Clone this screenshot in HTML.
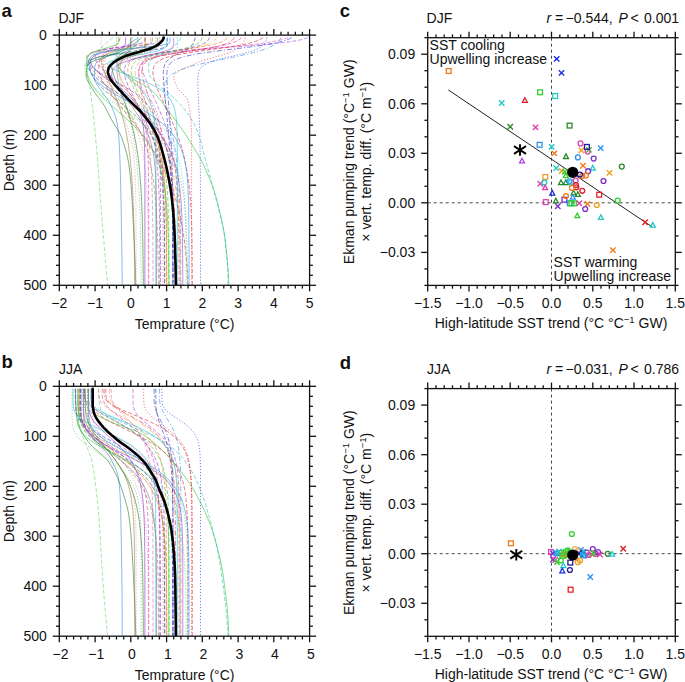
<!DOCTYPE html>
<html><head><meta charset="utf-8"><title>figure</title>
<style>html,body{margin:0;padding:0;background:#fff;width:685px;height:682px;overflow:hidden}
body{position:relative;font-family:"Liberation Sans", sans-serif}</style></head>
<body>
<svg width="685" height="682" viewBox="0 0 685 682" style="position:absolute;left:0;top:0">
<rect width="685" height="682" fill="#fff"/>
<clipPath id="clipa"><rect x="59.3" y="35.1" width="250.3" height="250.2"/></clipPath>
<g clip-path="url(#clipa)">
<path d="M112.9 37.6 L111.3 38.9 L109.8 40.1 L108.2 41.4 L106.8 42.6 L105.3 43.9 L103.9 45.1 L102.5 46.4 L101.2 47.6 L99.9 48.9 L98.6 50.1 L97.4 51.4 L96.0 52.6 L94.6 53.9 L93.2 55.1 L91.9 56.4 L90.6 57.6 L89.4 58.9 L88.3 60.1 L87.4 61.4 L86.7 62.6 L86.3 63.9 L86.1 65.1 L86.1 66.4 L86.2 67.6 L86.3 68.9 L86.5 70.1 L86.6 71.4 L86.8 72.6 L87.0 73.9 L87.2 75.1 L87.4 76.4 L87.7 77.6 L87.9 78.9 L88.2 80.1 L88.6 81.4 L88.9 82.6 L89.2 83.9 L89.4 85.1 L89.7 86.4 L89.8 87.6 L90.0 88.9 L90.2 90.1 L90.4 91.4 L90.5 92.6 L90.7 93.9 L90.9 95.1 L91.1 96.4 L91.2 97.7 L91.4 98.9 L91.5 100.2 L91.7 101.4 L91.9 102.7 L92.0 103.9 L92.2 105.2 L92.3 106.4 L92.5 107.7 L92.6 108.9 L92.8 110.2 L92.9 111.7 L93.4 115.4 L93.8 119.1 L94.1 122.7 L94.5 126.4 L94.9 130.1 L95.2 133.8 L95.6 137.5 L95.9 141.2 L96.2 144.9 L96.6 148.6 L96.9 152.3 L97.2 156.0 L97.5 159.7 L97.8 163.4 L98.0 167.1 L98.3 170.8 L98.6 174.5 L98.9 178.2 L99.1 181.9 L99.4 185.6 L99.7 189.2 L100.0 192.9 L100.2 196.6 L100.5 200.3 L100.8 204.0 L101.1 207.7 L101.4 211.4 L101.7 215.1 L102.0 218.8 L102.3 222.5 L102.6 226.2 L102.9 229.9 L103.2 233.6 L103.5 237.3 L103.9 241.0 L104.2 244.7 L104.5 248.4 L104.8 252.1 L105.1 255.7 L105.4 259.4 L105.7 263.1 L106.0 266.8 L106.3 270.5 L106.7 274.2 L107.0 277.9 L107.3 281.6 L107.6 285.3" fill="none" stroke="#60d860" stroke-width="0.75" stroke-opacity="0.8" stroke-dasharray="4 2"/>
<path d="M138.0 37.6 L136.3 38.9 L134.6 40.1 L132.9 41.4 L131.1 42.6 L129.4 43.9 L127.6 45.1 L125.7 46.4 L123.9 47.6 L122.0 48.9 L120.1 50.1 L118.0 51.4 L115.6 52.6 L113.0 53.9 L110.3 55.1 L107.6 56.4 L104.9 57.6 L102.4 58.9 L100.1 60.1 L98.1 61.4 L96.6 62.6 L95.5 63.9 L95.1 65.1 L94.9 66.4 L94.8 67.6 L94.7 68.9 L94.6 70.1 L94.5 71.4 L94.5 72.6 L94.4 73.9 L94.4 75.1 L94.3 76.4 L94.3 77.6 L94.4 78.9 L94.7 80.1 L95.2 81.4 L95.8 82.6 L96.5 83.9 L97.2 85.1 L98.1 86.4 L99.0 87.6 L99.9 88.9 L100.9 90.1 L101.8 91.4 L102.6 92.6 L103.4 93.9 L104.3 95.1 L105.3 96.4 L106.3 97.7 L107.3 98.9 L108.2 100.2 L109.0 101.4 L109.6 102.7 L110.2 103.9 L110.8 105.2 L111.4 106.4 L112.0 107.7 L112.5 108.9 L113.1 110.2 L113.7 111.7 L115.0 115.4 L116.1 119.1 L117.0 122.7 L117.6 126.4 L118.0 130.1 L118.5 133.8 L118.8 137.5 L119.1 141.2 L119.3 144.9 L119.5 148.6 L119.6 152.3 L119.8 156.0 L119.9 159.7 L120.1 163.4 L120.2 167.1 L120.3 170.8 L120.4 174.5 L120.5 178.2 L120.6 181.9 L120.7 185.6 L120.8 189.2 L120.9 192.9 L120.9 196.6 L121.0 200.3 L121.1 204.0 L121.1 207.7 L121.2 211.4 L121.3 215.1 L121.3 218.8 L121.4 222.5 L121.4 226.2 L121.5 229.9 L121.6 233.6 L121.6 237.3 L121.7 241.0 L121.7 244.7 L121.8 248.4 L121.9 252.1 L121.9 255.7 L122.0 259.4 L122.0 263.1 L122.0 266.8 L122.1 270.5 L122.1 274.2 L122.2 277.9 L122.2 281.6 L122.2 285.3" fill="none" stroke="#3090e8" stroke-width="0.75" stroke-opacity="0.8"/>
<path d="M141.5 37.6 L140.2 38.9 L138.8 40.1 L137.2 41.4 L135.6 42.6 L133.8 43.9 L132.0 45.1 L130.0 46.4 L128.0 47.6 L125.8 48.9 L123.7 50.1 L121.1 51.4 L118.0 52.6 L114.6 53.9 L110.8 55.1 L106.9 56.4 L103.0 57.6 L99.3 58.9 L95.9 60.1 L92.9 61.4 L90.5 62.6 L88.8 63.9 L87.9 65.1 L87.5 66.4 L87.2 67.6 L86.9 68.9 L86.6 70.1 L86.4 71.4 L86.2 72.6 L86.2 73.9 L86.1 75.1 L86.2 76.4 L86.5 77.6 L86.9 78.9 L87.4 80.1 L88.0 81.4 L88.6 82.6 L89.4 83.9 L90.1 85.1 L90.9 86.4 L91.6 87.6 L92.3 88.9 L93.1 90.1 L93.9 91.4 L94.8 92.6 L95.7 93.9 L96.6 95.1 L97.6 96.4 L98.6 97.7 L99.6 98.9 L100.5 100.2 L101.5 101.4 L102.4 102.7 L103.2 103.9 L104.0 105.2 L104.7 106.4 L105.4 107.7 L106.1 108.9 L106.7 110.2 L107.5 111.7 L109.3 115.4 L111.2 119.1 L113.3 122.7 L115.6 126.4 L118.0 130.1 L120.0 133.8 L121.6 137.5 L122.9 141.2 L124.2 144.9 L125.3 148.6 L126.3 152.3 L127.2 156.0 L128.0 159.7 L128.7 163.4 L129.2 167.1 L129.7 170.8 L130.1 174.5 L130.4 178.2 L130.8 181.9 L131.1 185.6 L131.4 189.2 L131.6 192.9 L131.9 196.6 L132.1 200.3 L132.3 204.0 L132.5 207.7 L132.7 211.4 L132.9 215.1 L133.1 218.8 L133.3 222.5 L133.5 226.2 L133.7 229.9 L133.8 233.6 L134.0 237.3 L134.2 241.0 L134.4 244.7 L134.5 248.4 L134.7 252.1 L134.8 255.7 L135.0 259.4 L135.1 263.1 L135.3 266.8 L135.4 270.5 L135.5 274.2 L135.6 277.9 L135.7 281.6 L135.8 285.3" fill="none" stroke="#2a7a2a" stroke-width="0.75" stroke-opacity="0.8"/>
<path d="M163.0 37.6 L162.8 38.9 L162.4 40.1 L161.8 41.4 L160.9 42.6 L159.8 43.9 L158.6 45.1 L157.3 46.4 L155.8 47.6 L153.4 48.9 L149.5 50.1 L144.5 51.4 L139.1 52.6 L133.8 53.9 L129.0 55.1 L125.5 56.4 L123.7 57.6 L122.9 58.9 L122.2 60.1 L121.6 61.4 L121.1 62.6 L120.7 63.9 L120.3 65.1 L120.2 66.4 L120.1 67.6 L120.4 68.9 L121.2 70.1 L122.3 71.4 L123.8 72.6 L125.5 73.9 L127.3 75.1 L129.1 76.4 L130.8 77.6 L132.6 78.9 L134.7 80.1 L136.9 81.4 L139.2 82.6 L141.6 83.9 L143.9 85.1 L146.1 86.4 L148.1 87.6 L149.8 88.9 L151.3 90.1 L152.6 91.4 L153.9 92.6 L155.1 93.9 L156.3 95.1 L157.4 96.4 L158.5 97.7 L159.5 98.9 L160.5 100.2 L161.5 101.4 L162.4 102.7 L163.3 103.9 L164.3 105.2 L165.2 106.4 L166.1 107.7 L167.0 108.9 L168.0 110.2 L169.1 111.7 L171.9 115.4 L174.7 119.1 L177.4 122.7 L180.0 126.4 L182.6 130.1 L185.1 133.8 L187.5 137.5 L189.9 141.2 L192.2 144.9 L194.4 148.6 L196.7 152.3 L198.8 156.0 L200.9 159.7 L202.8 163.4 L204.6 167.1 L206.2 170.8 L207.8 174.5 L209.3 178.2 L210.8 181.9 L212.2 185.6 L213.5 189.2 L214.7 192.9 L215.9 196.6 L216.9 200.3 L217.9 204.0 L218.8 207.7 L219.7 211.4 L220.6 215.1 L221.4 218.8 L222.2 222.5 L222.9 226.2 L223.6 229.9 L224.3 233.6 L224.8 237.3 L225.3 241.0 L225.7 244.7 L226.1 248.4 L226.5 252.1 L226.9 255.7 L227.3 259.4 L227.6 263.1 L227.9 266.8 L228.2 270.5 L228.4 274.2 L228.6 277.9 L228.7 281.6 L228.8 285.3" fill="none" stroke="#30c830" stroke-width="0.75" stroke-opacity="0.8"/>
<path d="M180.9 37.6 L180.3 38.9 L179.5 40.1 L178.7 41.4 L177.7 42.6 L176.6 43.9 L175.5 45.1 L174.2 46.4 L172.9 47.6 L171.6 48.9 L170.1 50.1 L168.4 51.4 L166.1 52.6 L163.4 53.9 L160.5 55.1 L157.6 56.4 L154.9 57.6 L152.4 58.9 L150.5 60.1 L149.2 61.4 L148.7 62.6 L148.7 63.9 L148.7 65.1 L148.7 66.4 L148.7 67.6 L148.7 68.9 L148.7 70.1 L148.7 71.4 L148.7 72.6 L148.9 73.9 L149.4 75.1 L150.2 76.4 L151.2 77.6 L152.3 78.9 L153.5 80.1 L154.7 81.4 L155.8 82.6 L157.0 83.9 L158.4 85.1 L159.9 86.4 L161.5 87.6 L163.2 88.9 L164.8 90.1 L166.5 91.4 L168.1 92.6 L169.6 93.9 L171.1 95.1 L172.3 96.4 L173.6 97.7 L174.9 98.9 L176.1 100.2 L177.3 101.4 L178.5 102.7 L179.7 103.9 L180.8 105.2 L182.0 106.4 L183.1 107.7 L184.1 108.9 L185.2 110.2 L186.3 111.7 L189.0 115.4 L191.3 119.1 L193.4 122.7 L195.3 126.4 L197.0 130.1 L198.4 133.8 L199.7 137.5 L200.8 141.2 L201.8 144.9 L202.7 148.6 L203.6 152.3 L204.5 156.0 L205.4 159.7 L206.4 163.4 L207.4 167.1 L208.4 170.8 L209.5 174.5 L210.5 178.2 L211.5 181.9 L212.5 185.6 L213.5 189.2 L214.4 192.9 L215.4 196.6 L216.4 200.3 L217.3 204.0 L218.2 207.7 L219.2 211.4 L220.1 215.1 L220.9 218.8 L221.8 222.5 L222.8 226.2 L223.6 229.9 L224.3 233.6 L224.7 237.3 L225.2 241.0 L225.6 244.7 L225.9 248.4 L226.3 252.1 L226.6 255.7 L227.0 259.4 L227.2 263.1 L227.5 266.8 L227.7 270.5 L227.8 274.2 L228.0 277.9 L228.0 281.6 L228.1 285.3" fill="none" stroke="#20c0c8" stroke-width="0.75" stroke-opacity="0.8" stroke-dasharray="4 2"/>
<path d="M266.7 37.6 L266.4 38.9 L266.1 40.1 L265.7 41.4 L265.1 42.6 L264.2 43.9 L263.2 45.1 L261.7 46.4 L259.9 47.6 L257.5 48.9 L254.6 50.1 L251.0 51.4 L246.8 52.6 L241.9 53.9 L236.7 55.1 L231.3 56.4 L225.9 57.6 L220.8 58.9 L216.2 60.1 L212.2 61.4 L208.8 62.6 L206.1 63.9 L204.0 65.1 L202.3 66.4 L201.1 67.6 L200.1 68.9 L199.4 70.1 L198.8 71.4 L198.5 72.6 L198.2 73.9 L198.0 75.1 L197.9 76.4 L197.8 77.6 L197.8 78.9 L197.8 80.1 L197.8 81.4 L197.8 82.6 L197.8 83.9 L197.9 85.1 L197.9 86.4 L198.0 87.6 L198.0 88.9 L198.1 90.1 L198.1 91.4 L198.2 92.6 L198.2 93.9 L198.3 95.1 L198.3 96.4 L198.4 97.7 L198.5 98.9 L198.5 100.2 L198.6 101.4 L198.6 102.7 L198.7 103.9 L198.7 105.2 L198.8 106.4 L198.9 107.7 L198.9 108.9 L199.0 110.2 L199.0 111.7 L199.2 115.4 L199.3 119.1 L199.4 122.7 L199.6 126.4 L199.7 130.1 L199.8 133.8 L199.9 137.5 L199.9 141.2 L200.0 144.9 L200.1 148.6 L200.1 152.3 L200.2 156.0 L200.2 159.7 L200.3 163.4 L200.3 167.1 L200.4 170.8 L200.4 174.5 L200.4 178.2 L200.4 181.9 L200.4 185.6 L200.5 189.2 L200.5 192.9 L200.5 196.6 L200.5 200.3 L200.5 204.0 L200.5 207.7 L200.5 211.4 L200.5 215.1 L200.5 218.8 L200.5 222.5 L200.5 226.2 L200.5 229.9 L200.5 233.6 L200.5 237.3 L200.5 241.0 L200.5 244.7 L200.5 248.4 L200.5 252.1 L200.5 255.7 L200.5 259.4 L200.5 263.1 L200.5 266.8 L200.5 270.5 L200.5 274.2 L200.5 277.9 L200.5 281.6 L200.5 285.3" fill="none" stroke="#2030d8" stroke-width="0.75" stroke-opacity="0.8" stroke-dasharray="1.2 1.8"/>
<path d="M245.2 37.6 L245.1 38.9 L244.7 40.1 L244.0 41.4 L243.1 42.6 L242.0 43.9 L240.7 45.1 L239.3 46.4 L237.8 47.6 L236.2 48.9 L234.5 50.1 L232.4 51.4 L229.4 52.6 L225.7 53.9 L221.6 55.1 L217.2 56.4 L212.7 57.6 L208.3 58.9 L204.1 60.1 L200.4 61.4 L197.3 62.6 L194.5 63.9 L191.7 65.1 L188.8 66.4 L186.0 67.6 L183.3 68.9 L180.8 70.1 L178.5 71.4 L176.6 72.6 L175.2 73.9 L174.2 75.1 L173.7 76.4 L173.8 77.6 L173.9 78.9 L174.2 80.1 L174.6 81.4 L175.1 82.6 L175.6 83.9 L176.1 85.1 L176.7 86.4 L177.3 87.6 L178.0 88.9 L179.0 90.1 L180.2 91.4 L181.5 92.6 L182.8 93.9 L184.1 95.1 L185.4 96.4 L186.5 97.7 L187.3 98.9 L187.9 100.2 L188.2 101.4 L188.4 102.7 L188.7 103.9 L188.9 105.2 L189.1 106.4 L189.3 107.7 L189.5 108.9 L189.7 110.2 L189.9 111.7 L190.4 115.4 L190.8 119.1 L191.1 122.7 L191.4 126.4 L191.5 130.1 L191.6 133.8 L191.6 137.5 L191.6 141.2 L191.6 144.9 L191.6 148.6 L191.6 152.3 L191.6 156.0 L191.6 159.7 L191.6 163.4 L191.6 167.1 L191.6 170.8 L191.6 174.5 L191.6 178.2 L191.6 181.9 L191.6 185.6 L191.6 189.2 L191.6 192.9 L191.6 196.6 L191.6 200.3 L191.6 204.0 L191.6 207.7 L191.6 211.4 L191.6 215.1 L191.6 218.8 L191.6 222.5 L191.6 226.2 L191.6 229.9 L191.6 233.6 L191.6 237.3 L191.6 241.0 L191.6 244.7 L191.6 248.4 L191.6 252.1 L191.6 255.7 L191.6 259.4 L191.6 263.1 L191.6 266.8 L191.6 270.5 L191.6 274.2 L191.6 277.9 L191.6 281.6 L191.6 285.3" fill="none" stroke="#e02030" stroke-width="0.75" stroke-opacity="0.8" stroke-dasharray="1.2 1.8"/>
<path d="M307.8 37.6 L304.4 38.9 L299.5 40.1 L292.6 41.4 L283.2 42.6 L271.0 43.9 L256.0 45.1 L239.0 46.4 L221.0 47.6 L203.6 48.9 L188.1 50.1 L175.4 51.4 L165.4 52.6 L158.1 53.9 L152.8 55.1 L149.1 56.4 L146.6 57.6 L144.9 58.9 L143.8 60.1 L143.0 61.4 L142.5 62.6 L142.2 63.9 L142.0 65.1 L141.9 66.4 L142.0 67.6 L142.2 68.9 L142.5 70.1 L142.8 71.4 L143.2 72.6 L143.6 73.9 L144.0 75.1 L144.5 76.4 L145.0 77.6 L145.5 78.9 L146.0 80.1 L146.5 81.4 L147.0 82.6 L147.6 83.9 L148.1 85.1 L148.7 86.4 L149.3 87.6 L149.8 88.9 L150.4 90.1 L151.0 91.4 L151.6 92.6 L152.1 93.9 L152.7 95.1 L153.3 96.4 L153.9 97.7 L154.5 98.9 L155.1 100.2 L155.6 101.4 L156.2 102.7 L156.8 103.9 L157.3 105.2 L157.9 106.4 L158.4 107.7 L159.0 108.9 L159.5 110.2 L160.1 111.7 L161.6 115.4 L163.1 119.1 L164.4 122.7 L165.7 126.4 L166.9 130.1 L168.1 133.8 L169.1 137.5 L170.1 141.2 L171.0 144.9 L171.8 148.6 L172.6 152.3 L173.3 156.0 L173.9 159.7 L174.5 163.4 L175.0 167.1 L175.5 170.8 L175.9 174.5 L176.3 178.2 L176.6 181.9 L176.9 185.6 L177.2 189.2 L177.4 192.9 L177.6 196.6 L177.8 200.3 L178.0 204.0 L178.2 207.7 L178.3 211.4 L178.4 215.1 L178.5 218.8 L178.6 222.5 L178.7 226.2 L178.7 229.9 L178.8 233.6 L178.8 237.3 L178.9 241.0 L178.9 244.7 L178.9 248.4 L179.0 252.1 L179.0 255.7 L179.0 259.4 L179.0 263.1 L179.0 266.8 L179.1 270.5 L179.1 274.2 L179.1 277.9 L179.1 281.6 L179.1 285.3" fill="none" stroke="#a040e0" stroke-width="0.75" stroke-opacity="0.8" stroke-dasharray="4 2"/>
<path d="M291.7 37.6 L289.3 38.9 L286.2 40.1 L282.1 41.4 L277.0 42.6 L270.7 43.9 L263.2 45.1 L254.5 46.4 L244.9 47.6 L234.7 48.9 L224.5 50.1 L214.6 51.4 L205.5 52.6 L197.5 53.9 L190.7 55.1 L185.1 56.4 L180.7 57.6 L177.2 58.9 L174.5 60.1 L172.5 61.4 L170.9 62.6 L169.8 63.9 L168.9 65.1 L168.3 66.4 L167.9 67.6 L167.5 68.9 L167.3 70.1 L167.1 71.4 L166.9 72.6 L166.9 73.9 L166.8 75.1 L166.8 76.4 L166.8 77.6 L166.9 78.9 L166.9 80.1 L167.0 81.4 L167.0 82.6 L167.1 83.9 L167.2 85.1 L167.3 86.4 L167.3 87.6 L167.4 88.9 L167.5 90.1 L167.6 91.4 L167.7 92.6 L167.8 93.9 L167.9 95.1 L168.0 96.4 L168.1 97.7 L168.2 98.9 L168.3 100.2 L168.4 101.4 L168.5 102.7 L168.6 103.9 L168.7 105.2 L168.8 106.4 L168.9 107.7 L169.0 108.9 L169.1 110.2 L169.2 111.7 L169.5 115.4 L169.8 119.1 L170.0 122.7 L170.3 126.4 L170.5 130.1 L170.7 133.8 L170.9 137.5 L171.1 141.2 L171.3 144.9 L171.5 148.6 L171.6 152.3 L171.8 156.0 L171.9 159.7 L172.0 163.4 L172.1 167.1 L172.2 170.8 L172.3 174.5 L172.4 178.2 L172.5 181.9 L172.5 185.6 L172.6 189.2 L172.6 192.9 L172.7 196.6 L172.7 200.3 L172.8 204.0 L172.8 207.7 L172.8 211.4 L172.8 215.1 L172.9 218.8 L172.9 222.5 L172.9 226.2 L172.9 229.9 L172.9 233.6 L172.9 237.3 L173.0 241.0 L173.0 244.7 L173.0 248.4 L173.0 252.1 L173.0 255.7 L173.0 259.4 L173.0 263.1 L173.0 266.8 L173.0 270.5 L173.0 274.2 L173.0 277.9 L173.0 281.6 L173.0 285.3" fill="none" stroke="#2030d8" stroke-width="0.75" stroke-opacity="0.8" stroke-dasharray="5 2 1.2 2"/>
<path d="M281.0 37.6 L280.3 38.9 L279.4 40.1 L278.3 41.4 L277.0 42.6 L275.4 43.9 L273.6 45.1 L271.3 46.4 L268.7 47.6 L265.7 48.9 L262.1 50.1 L258.1 51.4 L253.6 52.6 L248.6 53.9 L243.1 55.1 L237.3 56.4 L231.2 57.6 L224.9 58.9 L218.6 60.1 L212.4 61.4 L206.4 62.6 L200.8 63.9 L195.6 65.1 L190.9 66.4 L186.7 67.6 L182.9 68.9 L179.7 70.1 L176.9 71.4 L174.6 72.6 L172.6 73.9 L170.9 75.1 L169.5 76.4 L168.3 77.6 L167.3 78.9 L166.6 80.1 L165.9 81.4 L165.4 82.6 L164.9 83.9 L164.6 85.1 L164.3 86.4 L164.2 87.6 L164.1 88.9 L164.1 90.1 L164.1 91.4 L164.2 92.6 L164.3 93.9 L164.5 95.1 L164.6 96.4 L164.8 97.7 L165.0 98.9 L165.2 100.2 L165.5 101.4 L165.7 102.7 L165.9 103.9 L166.2 105.2 L166.4 106.4 L166.7 107.7 L167.0 108.9 L167.2 110.2 L167.6 111.7 L168.4 115.4 L169.2 119.1 L170.0 122.7 L170.8 126.4 L171.5 130.1 L172.3 133.8 L173.0 137.5 L173.6 141.2 L174.3 144.9 L174.9 148.6 L175.4 152.3 L175.9 156.0 L176.4 159.7 L176.9 163.4 L177.3 167.1 L177.7 170.8 L178.0 174.5 L178.3 178.2 L178.6 181.9 L178.9 185.6 L179.1 189.2 L179.3 192.9 L179.5 196.6 L179.7 200.3 L179.8 204.0 L179.9 207.7 L180.1 211.4 L180.2 215.1 L180.3 218.8 L180.4 222.5 L180.4 226.2 L180.5 229.9 L180.5 233.6 L180.6 237.3 L180.6 241.0 L180.7 244.7 L180.7 248.4 L180.7 252.1 L180.8 255.7 L180.8 259.4 L180.8 263.1 L180.8 266.8 L180.8 270.5 L180.8 274.2 L180.9 277.9 L180.9 281.6 L180.9 285.3" fill="none" stroke="#3090e8" stroke-width="0.75" stroke-opacity="0.8" stroke-dasharray="5 2 1.2 2"/>
<path d="M288.1 37.6 L284.5 38.9 L279.8 40.1 L273.9 41.4 L266.5 42.6 L257.7 43.9 L247.4 45.1 L235.8 46.4 L223.5 47.6 L211.0 48.9 L198.8 50.1 L187.5 51.4 L177.4 52.6 L168.9 53.9 L161.8 55.1 L156.1 56.4 L151.7 57.6 L148.2 58.9 L145.6 60.1 L143.6 61.4 L142.1 62.6 L141.0 63.9 L140.2 65.1 L139.7 66.4 L139.3 67.6 L139.0 68.9 L138.9 70.1 L138.8 71.4 L138.8 72.6 L138.8 73.9 L138.9 75.1 L139.0 76.4 L139.1 77.6 L139.2 78.9 L139.4 80.1 L139.6 81.4 L139.7 82.6 L139.9 83.9 L140.1 85.1 L140.3 86.4 L140.5 87.6 L140.7 88.9 L140.9 90.1 L141.1 91.4 L141.3 92.6 L141.5 93.9 L141.8 95.1 L142.0 96.4 L142.2 97.7 L142.4 98.9 L142.6 100.2 L142.8 101.4 L143.1 102.7 L143.3 103.9 L143.5 105.2 L143.7 106.4 L143.9 107.7 L144.2 108.9 L144.4 110.2 L144.6 111.7 L145.2 115.4 L145.8 119.1 L146.4 122.7 L146.9 126.4 L147.5 130.1 L147.9 133.8 L148.4 137.5 L148.8 141.2 L149.2 144.9 L149.6 148.6 L150.0 152.3 L150.3 156.0 L150.6 159.7 L150.8 163.4 L151.1 167.1 L151.3 170.8 L151.5 174.5 L151.7 178.2 L151.8 181.9 L152.0 185.6 L152.1 189.2 L152.2 192.9 L152.3 196.6 L152.4 200.3 L152.5 204.0 L152.5 207.7 L152.6 211.4 L152.7 215.1 L152.7 218.8 L152.8 222.5 L152.8 226.2 L152.8 229.9 L152.8 233.6 L152.9 237.3 L152.9 241.0 L152.9 244.7 L152.9 248.4 L152.9 252.1 L152.9 255.7 L152.9 259.4 L153.0 263.1 L153.0 266.8 L153.0 270.5 L153.0 274.2 L153.0 277.9 L153.0 281.6 L153.0 285.3" fill="none" stroke="#f060b0" stroke-width="0.75" stroke-opacity="0.8" stroke-dasharray="4 2"/>
<path d="M263.1 37.6 L261.2 38.9 L258.7 40.1 L255.5 41.4 L251.4 42.6 L246.3 43.9 L240.1 45.1 L232.9 46.4 L224.7 47.6 L215.9 48.9 L206.8 50.1 L197.9 51.4 L189.6 52.6 L182.2 53.9 L175.8 55.1 L170.4 56.4 L166.1 57.6 L162.8 58.9 L160.1 60.1 L158.1 61.4 L156.6 62.6 L155.5 63.9 L154.6 65.1 L154.0 66.4 L153.5 67.6 L153.2 68.9 L153.0 70.1 L152.8 71.4 L152.9 72.6 L153.0 73.9 L153.1 75.1 L153.3 76.4 L153.6 77.6 L153.9 78.9 L154.3 80.1 L154.7 81.4 L155.1 82.6 L155.5 83.9 L155.9 85.1 L156.4 86.4 L156.9 87.6 L157.4 88.9 L157.9 90.1 L158.4 91.4 L159.0 92.6 L159.5 93.9 L160.1 95.1 L160.6 96.4 L161.2 97.7 L161.8 98.9 L162.4 100.2 L163.0 101.4 L163.5 102.7 L164.1 103.9 L164.7 105.2 L165.3 106.4 L165.9 107.7 L166.5 108.9 L167.0 110.2 L167.7 111.7 L169.4 115.4 L171.1 119.1 L172.7 122.7 L174.2 126.4 L175.7 130.1 L177.1 133.8 L178.4 137.5 L179.7 141.2 L180.9 144.9 L182.0 148.6 L183.0 152.3 L183.9 156.0 L184.8 159.7 L185.6 163.4 L186.3 167.1 L187.0 170.8 L187.6 174.5 L188.1 178.2 L188.6 181.9 L189.1 185.6 L189.5 189.2 L189.8 192.9 L190.2 196.6 L190.4 200.3 L190.7 204.0 L190.9 207.7 L191.1 211.4 L191.3 215.1 L191.4 218.8 L191.6 222.5 L191.7 226.2 L191.8 229.9 L191.9 233.6 L191.9 237.3 L192.0 241.0 L192.0 244.7 L192.1 248.4 L192.1 252.1 L192.2 255.7 L192.2 259.4 L192.2 263.1 L192.2 266.8 L192.3 270.5 L192.3 274.2 L192.3 277.9 L192.3 281.6 L192.3 285.3" fill="none" stroke="#e02030" stroke-width="0.75" stroke-opacity="0.8" stroke-dasharray="4 2"/>
<path d="M241.7 37.6 L240.3 38.9 L238.4 40.1 L236.0 41.4 L232.8 42.6 L228.9 43.9 L223.9 45.1 L218.0 46.4 L211.1 47.6 L203.4 48.9 L195.2 50.1 L186.8 51.4 L178.6 52.6 L171.1 53.9 L164.4 55.1 L158.6 56.4 L153.9 57.6 L150.1 58.9 L147.1 60.1 L144.8 61.4 L143.1 62.6 L141.8 63.9 L140.8 65.1 L140.0 66.4 L139.5 67.6 L139.1 68.9 L138.9 70.1 L138.8 71.4 L138.8 72.6 L138.9 73.9 L139.0 75.1 L139.1 76.4 L139.3 77.6 L139.5 78.9 L139.7 80.1 L140.0 81.4 L140.3 82.6 L140.5 83.9 L140.8 85.1 L141.1 86.4 L141.4 87.6 L141.7 88.9 L142.1 90.1 L142.4 91.4 L142.7 92.6 L143.1 93.9 L143.4 95.1 L143.8 96.4 L144.1 97.7 L144.4 98.9 L144.8 100.2 L145.1 101.4 L145.5 102.7 L145.8 103.9 L146.2 105.2 L146.5 106.4 L146.8 107.7 L147.2 108.9 L147.5 110.2 L147.9 111.7 L148.9 115.4 L149.8 119.1 L150.7 122.7 L151.5 126.4 L152.3 130.1 L153.0 133.8 L153.7 137.5 L154.3 141.2 L154.9 144.9 L155.4 148.6 L155.9 152.3 L156.4 156.0 L156.8 159.7 L157.1 163.4 L157.5 167.1 L157.8 170.8 L158.0 174.5 L158.3 178.2 L158.5 181.9 L158.6 185.6 L158.8 189.2 L158.9 192.9 L159.1 196.6 L159.2 200.3 L159.3 204.0 L159.3 207.7 L159.4 211.4 L159.5 215.1 L159.5 218.8 L159.6 222.5 L159.6 226.2 L159.6 229.9 L159.7 233.6 L159.7 237.3 L159.7 241.0 L159.7 244.7 L159.7 248.4 L159.7 252.1 L159.7 255.7 L159.8 259.4 L159.8 263.1 L159.8 266.8 L159.8 270.5 L159.8 274.2 L159.8 277.9 L159.8 281.6 L159.8 285.3" fill="none" stroke="#d030b0" stroke-width="0.75" stroke-opacity="0.8" stroke-dasharray="4 2"/>
<path d="M227.4 37.6 L226.2 38.9 L224.6 40.1 L222.4 41.4 L219.4 42.6 L215.4 43.9 L210.3 45.1 L203.9 46.4 L196.3 47.6 L187.8 48.9 L178.7 50.1 L169.6 51.4 L161.1 52.6 L153.5 53.9 L147.1 55.1 L142.0 56.4 L138.0 57.6 L135.0 58.9 L132.8 60.1 L131.2 61.4 L130.1 62.6 L129.2 63.9 L128.6 65.1 L128.2 66.4 L127.9 67.6 L127.8 68.9 L127.8 70.1 L127.9 71.4 L128.1 72.6 L128.4 73.9 L128.7 75.1 L129.1 76.4 L129.5 77.6 L129.9 78.9 L130.3 80.1 L130.8 81.4 L131.3 82.6 L131.8 83.9 L132.4 85.1 L132.9 86.4 L133.5 87.6 L134.0 88.9 L134.6 90.1 L135.2 91.4 L135.8 92.6 L136.4 93.9 L137.1 95.1 L137.7 96.4 L138.3 97.7 L138.9 98.9 L139.5 100.2 L140.2 101.4 L140.8 102.7 L141.4 103.9 L142.0 105.2 L142.6 106.4 L143.3 107.7 L143.9 108.9 L144.5 110.2 L145.2 111.7 L146.9 115.4 L148.6 119.1 L150.1 122.7 L151.6 126.4 L153.0 130.1 L154.4 133.8 L155.6 137.5 L156.7 141.2 L157.8 144.9 L158.8 148.6 L159.6 152.3 L160.4 156.0 L161.2 159.7 L161.8 163.4 L162.4 167.1 L162.9 170.8 L163.4 174.5 L163.8 178.2 L164.2 181.9 L164.5 185.6 L164.8 189.2 L165.1 192.9 L165.3 196.6 L165.5 200.3 L165.6 204.0 L165.8 207.7 L165.9 211.4 L166.0 215.1 L166.1 218.8 L166.2 222.5 L166.2 226.2 L166.3 229.9 L166.3 233.6 L166.4 237.3 L166.4 241.0 L166.4 244.7 L166.5 248.4 L166.5 252.1 L166.5 255.7 L166.5 259.4 L166.5 263.1 L166.5 266.8 L166.6 270.5 L166.6 274.2 L166.6 277.9 L166.6 281.6 L166.6 285.3" fill="none" stroke="#f07a20" stroke-width="0.75" stroke-opacity="0.8" stroke-dasharray="4 2"/>
<path d="M216.6 37.6 L215.8 38.9 L214.6 40.1 L213.0 41.4 L211.0 42.6 L208.4 43.9 L205.2 45.1 L201.1 46.4 L196.3 47.6 L190.8 48.9 L184.6 50.1 L178.1 51.4 L171.5 52.6 L165.1 53.9 L159.3 55.1 L154.2 56.4 L149.8 57.6 L146.3 58.9 L143.4 60.1 L141.2 61.4 L139.5 62.6 L138.2 63.9 L137.2 65.1 L136.5 66.4 L135.9 67.6 L135.5 68.9 L135.2 70.1 L135.1 71.4 L135.1 72.6 L135.1 73.9 L135.3 75.1 L135.5 76.4 L135.8 77.6 L136.1 78.9 L136.5 80.1 L136.8 81.4 L137.3 82.6 L137.7 83.9 L138.1 85.1 L138.6 86.4 L139.1 87.6 L139.6 88.9 L140.2 90.1 L140.7 91.4 L141.3 92.6 L141.8 93.9 L142.4 95.1 L143.0 96.4 L143.6 97.7 L144.2 98.9 L144.8 100.2 L145.4 101.4 L146.0 102.7 L146.7 103.9 L147.3 105.2 L147.9 106.4 L148.5 107.7 L149.2 108.9 L149.8 110.2 L150.5 111.7 L152.3 115.4 L154.1 119.1 L155.9 122.7 L157.6 126.4 L159.2 130.1 L160.8 133.8 L162.3 137.5 L163.8 141.2 L165.2 144.9 L166.4 148.6 L167.7 152.3 L168.8 156.0 L169.8 159.7 L170.8 163.4 L171.7 167.1 L172.6 170.8 L173.3 174.5 L174.1 178.2 L174.7 181.9 L175.3 185.6 L175.8 189.2 L176.3 192.9 L176.8 196.6 L177.2 200.3 L177.5 204.0 L177.9 207.7 L178.1 211.4 L178.4 215.1 L178.6 218.8 L178.8 222.5 L179.0 226.2 L179.2 229.9 L179.3 233.6 L179.4 237.3 L179.6 241.0 L179.7 244.7 L179.7 248.4 L179.8 252.1 L179.9 255.7 L179.9 259.4 L180.0 263.1 L180.0 266.8 L180.1 270.5 L180.1 274.2 L180.1 277.9 L180.1 281.6 L180.2 285.3" fill="none" stroke="#f0a020" stroke-width="0.75" stroke-opacity="0.8" stroke-dasharray="5 2 1.2 2"/>
<path d="M195.2 37.6 L194.9 38.9 L194.6 40.1 L194.2 41.4 L193.6 42.6 L192.9 43.9 L191.9 45.1 L190.7 46.4 L189.2 47.6 L187.4 48.9 L185.3 50.1 L183.0 51.4 L180.4 52.6 L177.9 53.9 L175.4 55.1 L173.1 56.4 L171.0 57.6 L169.3 58.9 L167.9 60.1 L166.7 61.4 L165.8 62.6 L165.1 63.9 L164.6 65.1 L164.2 66.4 L163.8 67.6 L163.6 68.9 L163.5 70.1 L163.4 71.4 L163.3 72.6 L163.3 73.9 L163.3 75.1 L163.3 76.4 L163.4 77.6 L163.4 78.9 L163.5 80.1 L163.6 81.4 L163.7 82.6 L163.8 83.9 L163.9 85.1 L164.0 86.4 L164.1 87.6 L164.2 88.9 L164.3 90.1 L164.4 91.4 L164.5 92.6 L164.6 93.9 L164.8 95.1 L164.9 96.4 L165.0 97.7 L165.1 98.9 L165.3 100.2 L165.4 101.4 L165.5 102.7 L165.6 103.9 L165.8 105.2 L165.9 106.4 L166.0 107.7 L166.1 108.9 L166.3 110.2 L166.4 111.7 L166.8 115.4 L167.1 119.1 L167.5 122.7 L167.8 126.4 L168.1 130.1 L168.5 133.8 L168.8 137.5 L169.1 141.2 L169.4 144.9 L169.6 148.6 L169.9 152.3 L170.1 156.0 L170.3 159.7 L170.6 163.4 L170.8 167.1 L171.0 170.8 L171.1 174.5 L171.3 178.2 L171.4 181.9 L171.6 185.6 L171.7 189.2 L171.8 192.9 L172.0 196.6 L172.1 200.3 L172.2 204.0 L172.2 207.7 L172.3 211.4 L172.4 215.1 L172.5 218.8 L172.5 222.5 L172.6 226.2 L172.6 229.9 L172.7 233.6 L172.7 237.3 L172.8 241.0 L172.8 244.7 L172.8 248.4 L172.9 252.1 L172.9 255.7 L172.9 259.4 L172.9 263.1 L172.9 266.8 L173.0 270.5 L173.0 274.2 L173.0 277.9 L173.0 281.6 L173.0 285.3" fill="none" stroke="#302090" stroke-width="0.75" stroke-opacity="0.8" stroke-dasharray="4 2"/>
<path d="M202.3 37.6 L201.9 38.9 L201.2 40.1 L200.2 41.4 L198.9 42.6 L197.2 43.9 L194.8 45.1 L191.7 46.4 L187.7 47.6 L182.9 48.9 L177.2 50.1 L171.0 51.4 L164.5 52.6 L158.2 53.9 L152.5 55.1 L147.4 56.4 L143.3 57.6 L140.0 58.9 L137.5 60.1 L135.6 61.4 L134.3 62.6 L133.3 63.9 L132.5 65.1 L132.0 66.4 L131.7 67.6 L131.4 68.9 L131.2 70.1 L131.2 71.4 L131.3 72.6 L131.4 73.9 L131.6 75.1 L131.9 76.4 L132.2 77.6 L132.6 78.9 L133.0 80.1 L133.4 81.4 L133.8 82.6 L134.3 83.9 L134.8 85.1 L135.3 86.4 L135.8 87.6 L136.3 88.9 L136.9 90.1 L137.4 91.4 L138.0 92.6 L138.6 93.9 L139.2 95.1 L139.8 96.4 L140.4 97.7 L141.0 98.9 L141.6 100.2 L142.2 101.4 L142.8 102.7 L143.4 103.9 L144.0 105.2 L144.6 106.4 L145.2 107.7 L145.8 108.9 L146.4 110.2 L147.1 111.7 L148.8 115.4 L150.5 119.1 L152.1 122.7 L153.6 126.4 L155.0 130.1 L156.3 133.8 L157.6 137.5 L158.8 141.2 L159.8 144.9 L160.8 148.6 L161.8 152.3 L162.6 156.0 L163.3 159.7 L164.0 163.4 L164.6 167.1 L165.2 170.8 L165.7 174.5 L166.1 178.2 L166.5 181.9 L166.9 185.6 L167.2 189.2 L167.4 192.9 L167.7 196.6 L167.9 200.3 L168.1 204.0 L168.2 207.7 L168.3 211.4 L168.5 215.1 L168.6 218.8 L168.6 222.5 L168.7 226.2 L168.8 229.9 L168.8 233.6 L168.9 237.3 L168.9 241.0 L168.9 244.7 L169.0 248.4 L169.0 252.1 L169.0 255.7 L169.0 259.4 L169.0 263.1 L169.0 266.8 L169.1 270.5 L169.1 274.2 L169.1 277.9 L169.1 281.6 L169.1 285.3" fill="none" stroke="#30c830" stroke-width="0.75" stroke-opacity="0.8" stroke-dasharray="4 2"/>
<path d="M234.5 37.6 L233.7 38.9 L232.5 40.1 L231.0 41.4 L228.8 42.6 L225.9 43.9 L222.0 45.1 L217.0 46.4 L210.9 47.6 L203.8 48.9 L195.7 50.1 L187.3 51.4 L179.0 52.6 L171.3 53.9 L164.5 55.1 L158.9 56.4 L154.4 57.6 L150.9 58.9 L148.3 60.1 L146.4 61.4 L145.0 62.6 L144.0 63.9 L143.2 65.1 L142.7 66.4 L142.4 67.6 L142.1 68.9 L142.0 70.1 L141.9 71.4 L141.9 72.6 L142.0 73.9 L142.2 75.1 L142.4 76.4 L142.6 77.6 L142.9 78.9 L143.2 80.1 L143.6 81.4 L143.9 82.6 L144.3 83.9 L144.7 85.1 L145.1 86.4 L145.5 87.6 L145.9 88.9 L146.3 90.1 L146.8 91.4 L147.2 92.6 L147.7 93.9 L148.2 95.1 L148.6 96.4 L149.1 97.7 L149.6 98.9 L150.1 100.2 L150.6 101.4 L151.1 102.7 L151.6 103.9 L152.1 105.2 L152.6 106.4 L153.1 107.7 L153.6 108.9 L154.1 110.2 L154.7 111.7 L156.1 115.4 L157.5 119.1 L158.9 122.7 L160.2 126.4 L161.4 130.1 L162.6 133.8 L163.7 137.5 L164.8 141.2 L165.8 144.9 L166.7 148.6 L167.6 152.3 L168.4 156.0 L169.1 159.7 L169.8 163.4 L170.4 167.1 L171.0 170.8 L171.5 174.5 L172.0 178.2 L172.4 181.9 L172.8 185.6 L173.1 189.2 L173.4 192.9 L173.7 196.6 L173.9 200.3 L174.1 204.0 L174.3 207.7 L174.5 211.4 L174.6 215.1 L174.8 218.8 L174.9 222.5 L175.0 226.2 L175.0 229.9 L175.1 233.6 L175.2 237.3 L175.2 241.0 L175.3 244.7 L175.3 248.4 L175.4 252.1 L175.4 255.7 L175.4 259.4 L175.4 263.1 L175.5 266.8 L175.5 270.5 L175.5 274.2 L175.5 277.9 L175.5 281.6 L175.5 285.3" fill="none" stroke="#e02030" stroke-width="0.75" stroke-opacity="0.8" stroke-dasharray="5 2 1.2 2"/>
<path d="M209.5 37.6 L208.9 38.9 L208.1 40.1 L207.0 41.4 L205.4 42.6 L203.3 43.9 L200.5 45.1 L196.7 46.4 L192.0 47.6 L186.2 48.9 L179.4 50.1 L171.9 51.4 L164.1 52.6 L156.6 53.9 L149.6 55.1 L143.6 56.4 L138.7 57.6 L134.7 58.9 L131.7 60.1 L129.5 61.4 L127.8 62.6 L126.6 63.9 L125.7 65.1 L125.1 66.4 L124.7 67.6 L124.4 68.9 L124.2 70.1 L124.1 71.4 L124.2 72.6 L124.3 73.9 L124.5 75.1 L124.8 76.4 L125.2 77.6 L125.6 78.9 L126.0 80.1 L126.4 81.4 L126.9 82.6 L127.4 83.9 L127.9 85.1 L128.5 86.4 L129.0 87.6 L129.6 88.9 L130.2 90.1 L130.8 91.4 L131.4 92.6 L132.0 93.9 L132.6 95.1 L133.3 96.4 L133.9 97.7 L134.6 98.9 L135.2 100.2 L135.9 101.4 L136.5 102.7 L137.2 103.9 L137.8 105.2 L138.5 106.4 L139.1 107.7 L139.8 108.9 L140.4 110.2 L141.2 111.7 L143.0 115.4 L144.8 119.1 L146.5 122.7 L148.1 126.4 L149.7 130.1 L151.1 133.8 L152.4 137.5 L153.7 141.2 L154.9 144.9 L155.9 148.6 L156.9 152.3 L157.8 156.0 L158.6 159.7 L159.4 163.4 L160.0 167.1 L160.6 170.8 L161.1 174.5 L161.6 178.2 L162.0 181.9 L162.4 185.6 L162.7 189.2 L163.0 192.9 L163.3 196.6 L163.5 200.3 L163.7 204.0 L163.9 207.7 L164.0 211.4 L164.1 215.1 L164.2 218.8 L164.3 222.5 L164.4 226.2 L164.5 229.9 L164.5 233.6 L164.6 237.3 L164.6 241.0 L164.6 244.7 L164.7 248.4 L164.7 252.1 L164.7 255.7 L164.7 259.4 L164.7 263.1 L164.8 266.8 L164.8 270.5 L164.8 274.2 L164.8 277.9 L164.8 281.6 L164.8 285.3" fill="none" stroke="#8030c8" stroke-width="0.75" stroke-opacity="0.8" stroke-dasharray="4 2"/>
<path d="M120.1 37.6 L119.8 38.9 L119.5 40.1 L119.0 41.4 L118.4 42.6 L117.5 43.9 L116.4 45.1 L115.1 46.4 L113.4 47.6 L111.6 48.9 L109.7 50.1 L107.7 51.4 L105.9 52.6 L104.3 53.9 L102.9 55.1 L101.8 56.4 L100.9 57.6 L100.3 58.9 L99.8 60.1 L99.5 61.4 L99.2 62.6 L99.1 63.9 L98.9 65.1 L98.8 66.4 L98.8 67.6 L98.7 68.9 L98.7 70.1 L98.8 71.4 L99.1 72.6 L99.5 73.9 L99.9 75.1 L100.4 76.4 L101.0 77.6 L101.6 78.9 L102.2 80.1 L102.9 81.4 L103.6 82.6 L104.4 83.9 L105.1 85.1 L105.9 86.4 L106.8 87.6 L107.6 88.9 L108.5 90.1 L109.3 91.4 L110.2 92.6 L111.1 93.9 L112.1 95.1 L113.0 96.4 L113.9 97.7 L114.9 98.9 L115.9 100.2 L116.8 101.4 L117.8 102.7 L118.8 103.9 L119.8 105.2 L120.8 106.4 L121.8 107.7 L122.7 108.9 L123.7 110.2 L124.9 111.7 L127.9 115.4 L130.8 119.1 L133.7 122.7 L136.5 126.4 L139.3 130.1 L142.0 133.8 L144.7 137.5 L147.3 141.2 L149.7 144.9 L152.1 148.6 L154.4 152.3 L156.6 156.0 L158.8 159.7 L160.8 163.4 L162.7 167.1 L164.5 170.8 L166.3 174.5 L167.9 178.2 L169.5 181.9 L170.9 185.6 L172.3 189.2 L173.6 192.9 L174.8 196.6 L176.0 200.3 L177.0 204.0 L178.0 207.7 L178.9 211.4 L179.8 215.1 L180.6 218.8 L181.4 222.5 L182.1 226.2 L182.7 229.9 L183.3 233.6 L183.9 237.3 L184.4 241.0 L184.8 244.7 L185.3 248.4 L185.7 252.1 L186.0 255.7 L186.4 259.4 L186.7 263.1 L187.0 266.8 L187.2 270.5 L187.4 274.2 L187.7 277.9 L187.8 281.6 L188.0 285.3" fill="none" stroke="#e02030" stroke-width="0.75" stroke-opacity="0.8" stroke-dasharray="4 2"/>
<path d="M130.8 37.6 L130.8 38.9 L130.8 40.1 L130.8 41.4 L130.8 42.6 L130.7 43.9 L130.4 45.1 L129.3 46.4 L127.1 47.6 L123.8 48.9 L119.7 50.1 L115.4 51.4 L111.4 52.6 L108.0 53.9 L105.5 55.1 L103.6 56.4 L102.4 57.6 L101.8 58.9 L101.4 60.1 L101.4 61.4 L101.5 62.6 L101.8 63.9 L102.1 65.1 L102.5 66.4 L102.9 67.6 L103.4 68.9 L103.8 70.1 L104.3 71.4 L104.9 72.6 L105.4 73.9 L105.9 75.1 L106.5 76.4 L107.0 77.6 L107.6 78.9 L108.2 80.1 L108.7 81.4 L109.3 82.6 L109.9 83.9 L110.4 85.1 L111.0 86.4 L111.6 87.6 L112.1 88.9 L112.7 90.1 L113.2 91.4 L113.8 92.6 L114.3 93.9 L114.8 95.1 L115.3 96.4 L115.8 97.7 L116.3 98.9 L116.8 100.2 L117.3 101.4 L117.8 102.7 L118.2 103.9 L118.7 105.2 L119.1 106.4 L119.5 107.7 L120.0 108.9 L120.4 110.2 L120.8 111.7 L122.0 115.4 L123.0 119.1 L124.0 122.7 L124.9 126.4 L125.7 130.1 L126.4 133.8 L127.1 137.5 L127.8 141.2 L128.4 144.9 L128.9 148.6 L129.4 152.3 L129.9 156.0 L130.3 159.7 L130.7 163.4 L131.0 167.1 L131.3 170.8 L131.6 174.5 L131.9 178.2 L132.1 181.9 L132.4 185.6 L132.6 189.2 L132.8 192.9 L132.9 196.6 L133.1 200.3 L133.2 204.0 L133.4 207.7 L133.5 211.4 L133.6 215.1 L133.7 218.8 L133.8 222.5 L133.9 226.2 L134.0 229.9 L134.1 233.6 L134.1 237.3 L134.2 241.0 L134.3 244.7 L134.3 248.4 L134.4 252.1 L134.4 255.7 L134.4 259.4 L134.5 263.1 L134.5 266.8 L134.6 270.5 L134.6 274.2 L134.6 277.9 L134.7 281.6 L134.7 285.3" fill="none" stroke="#8a8a30" stroke-width="0.75" stroke-opacity="0.8"/>
<path d="M101.1 37.6 L101.1 38.9 L101.1 40.1 L101.1 41.4 L101.1 42.6 L101.1 43.9 L101.2 45.1 L101.4 46.4 L101.9 47.6 L102.6 48.9 L103.4 50.1 L104.1 51.4 L104.6 52.6 L104.8 53.9 L105.0 55.1 L105.0 56.4 L105.1 57.6 L105.1 58.9 L105.1 60.1 L105.1 61.4 L105.1 62.6 L105.1 63.9 L105.1 65.1 L105.2 66.4 L105.2 67.6 L105.3 68.9 L105.4 70.1 L105.5 71.4 L105.6 72.6 L105.7 73.9 L105.9 75.1 L106.1 76.4 L106.3 77.6 L106.5 78.9 L106.8 80.1 L107.1 81.4 L107.5 82.6 L107.9 83.9 L108.3 85.1 L108.7 86.4 L109.2 87.6 L109.7 88.9 L110.2 90.1 L110.7 91.4 L111.3 92.6 L111.9 93.9 L112.5 95.1 L113.1 96.4 L113.8 97.7 L114.4 98.9 L115.0 100.2 L115.7 101.4 L116.4 102.7 L117.0 103.9 L117.7 105.2 L118.3 106.4 L119.0 107.7 L119.6 108.9 L120.2 110.2 L121.0 111.7 L122.8 115.4 L124.4 119.1 L125.9 122.7 L127.3 126.4 L128.5 130.1 L129.6 133.8 L130.6 137.5 L131.4 141.2 L132.1 144.9 L132.7 148.6 L133.3 152.3 L133.7 156.0 L134.1 159.7 L134.4 163.4 L134.7 167.1 L134.9 170.8 L135.1 174.5 L135.3 178.2 L135.4 181.9 L135.5 185.6 L135.6 189.2 L135.7 192.9 L135.8 196.6 L135.8 200.3 L135.9 204.0 L135.9 207.7 L136.0 211.4 L136.0 215.1 L136.0 218.8 L136.0 222.5 L136.0 226.2 L136.0 229.9 L136.1 233.6 L136.1 237.3 L136.1 241.0 L136.1 244.7 L136.1 248.4 L136.1 252.1 L136.1 255.7 L136.1 259.4 L136.1 263.1 L136.1 266.8 L136.1 270.5 L136.1 274.2 L136.1 277.9 L136.1 281.6 L136.1 285.3" fill="none" stroke="#f060b0" stroke-width="0.75" stroke-opacity="0.8" stroke-dasharray="1.2 1.8"/>
<path d="M116.5 37.6 L116.5 38.9 L116.5 40.1 L116.5 41.4 L116.5 42.6 L116.5 43.9 L116.5 45.1 L116.5 46.4 L116.5 47.6 L116.6 48.9 L116.7 50.1 L116.8 51.4 L117.0 52.6 L117.2 53.9 L117.4 55.1 L117.5 56.4 L117.6 57.6 L117.7 58.9 L117.8 60.1 L117.9 61.4 L118.0 62.6 L118.0 63.9 L118.1 65.1 L118.2 66.4 L118.3 67.6 L118.5 68.9 L118.6 70.1 L118.8 71.4 L118.9 72.6 L119.1 73.9 L119.3 75.1 L119.5 76.4 L119.7 77.6 L120.0 78.9 L120.2 80.1 L120.5 81.4 L120.7 82.6 L121.0 83.9 L121.3 85.1 L121.5 86.4 L121.8 87.6 L122.1 88.9 L122.4 90.1 L122.7 91.4 L123.1 92.6 L123.4 93.9 L123.7 95.1 L124.0 96.4 L124.3 97.7 L124.7 98.9 L125.0 100.2 L125.3 101.4 L125.6 102.7 L125.9 103.9 L126.3 105.2 L126.6 106.4 L126.9 107.7 L127.2 108.9 L127.5 110.2 L127.9 111.7 L128.8 115.4 L129.7 119.1 L130.5 122.7 L131.3 126.4 L132.0 130.1 L132.7 133.8 L133.3 137.5 L134.0 141.2 L134.5 144.9 L135.1 148.6 L135.6 152.3 L136.0 156.0 L136.4 159.7 L136.8 163.4 L137.2 167.1 L137.5 170.8 L137.8 174.5 L138.1 178.2 L138.4 181.9 L138.6 185.6 L138.9 189.2 L139.1 192.9 L139.3 196.6 L139.4 200.3 L139.6 204.0 L139.7 207.7 L139.9 211.4 L140.0 215.1 L140.1 218.8 L140.2 222.5 L140.3 226.2 L140.4 229.9 L140.5 233.6 L140.5 237.3 L140.6 241.0 L140.7 244.7 L140.7 248.4 L140.8 252.1 L140.8 255.7 L140.9 259.4 L140.9 263.1 L141.0 266.8 L141.0 270.5 L141.0 274.2 L141.1 277.9 L141.1 281.6 L141.1 285.3" fill="none" stroke="#30c830" stroke-width="0.75" stroke-opacity="0.8" stroke-dasharray="1.2 1.8"/>
<path d="M125.5 37.6 L125.5 38.9 L125.5 40.1 L125.5 41.4 L125.4 42.6 L125.4 43.9 L125.0 45.1 L123.9 46.4 L121.6 47.6 L117.8 48.9 L112.9 50.1 L107.8 51.4 L102.9 52.6 L98.8 53.9 L95.7 55.1 L93.5 56.4 L92.1 57.6 L91.2 58.9 L90.8 60.1 L90.7 61.4 L90.9 62.6 L91.3 63.9 L91.9 65.1 L92.6 66.4 L93.4 67.6 L94.5 68.9 L95.6 70.1 L96.9 71.4 L98.3 72.6 L99.8 73.9 L101.5 75.1 L103.1 76.4 L104.9 77.6 L106.7 78.9 L108.5 80.1 L110.4 81.4 L112.2 82.6 L114.1 83.9 L115.9 85.1 L117.6 86.4 L119.4 87.6 L121.0 88.9 L122.6 90.1 L124.2 91.4 L125.7 92.6 L127.1 93.9 L128.4 95.1 L129.7 96.4 L130.8 97.7 L132.0 98.9 L133.0 100.2 L134.0 101.4 L134.9 102.7 L135.7 103.9 L136.5 105.2 L137.2 106.4 L137.9 107.7 L138.5 108.9 L139.1 110.2 L139.7 111.7 L141.0 115.4 L142.0 119.1 L142.7 122.7 L143.3 126.4 L143.7 130.1 L144.0 133.8 L144.2 137.5 L144.4 141.2 L144.5 144.9 L144.6 148.6 L144.7 152.3 L144.8 156.0 L144.8 159.7 L144.8 163.4 L144.8 167.1 L144.9 170.8 L144.9 174.5 L144.9 178.2 L144.9 181.9 L144.9 185.6 L144.9 189.2 L144.9 192.9 L144.9 196.6 L144.9 200.3 L144.9 204.0 L144.9 207.7 L144.9 211.4 L144.9 215.1 L144.9 218.8 L144.9 222.5 L144.9 226.2 L144.9 229.9 L144.9 233.6 L144.9 237.3 L144.9 241.0 L144.9 244.7 L144.9 248.4 L144.9 252.1 L144.9 255.7 L144.9 259.4 L144.9 263.1 L144.9 266.8 L144.9 270.5 L144.9 274.2 L144.9 277.9 L144.9 281.6 L144.9 285.3" fill="none" stroke="#8030c8" stroke-width="0.75" stroke-opacity="0.8"/>
<path d="M132.6 37.6 L132.6 38.9 L132.6 40.1 L132.5 41.4 L132.1 42.6 L130.9 43.9 L128.7 45.1 L125.6 46.4 L121.8 47.6 L117.9 48.9 L114.2 50.1 L110.9 51.4 L108.3 52.6 L106.2 53.9 L104.6 55.1 L103.4 56.4 L102.6 57.6 L102.1 58.9 L101.8 60.1 L101.7 61.4 L101.6 62.6 L101.7 63.9 L101.9 65.1 L102.1 66.4 L102.4 67.6 L102.8 68.9 L103.2 70.1 L103.7 71.4 L104.2 72.6 L104.7 73.9 L105.3 75.1 L105.9 76.4 L106.6 77.6 L107.3 78.9 L108.0 80.1 L108.7 81.4 L109.5 82.6 L110.3 83.9 L111.1 85.1 L111.9 86.4 L112.8 87.6 L113.6 88.9 L114.5 90.1 L115.3 91.4 L116.2 92.6 L117.1 93.9 L117.9 95.1 L118.8 96.4 L119.7 97.7 L120.5 98.9 L121.3 100.2 L122.2 101.4 L123.0 102.7 L123.8 103.9 L124.6 105.2 L125.3 106.4 L126.1 107.7 L126.9 108.9 L127.6 110.2 L128.4 111.7 L130.4 115.4 L132.3 119.1 L134.0 122.7 L135.5 126.4 L136.9 130.1 L138.2 133.8 L139.3 137.5 L140.3 141.2 L141.3 144.9 L142.1 148.6 L142.8 152.3 L143.4 156.0 L144.0 159.7 L144.5 163.4 L145.0 167.1 L145.4 170.8 L145.7 174.5 L146.1 178.2 L146.3 181.9 L146.6 185.6 L146.8 189.2 L147.0 192.9 L147.2 196.6 L147.3 200.3 L147.4 204.0 L147.6 207.7 L147.7 211.4 L147.8 215.1 L147.8 218.8 L147.9 222.5 L148.0 226.2 L148.0 229.9 L148.1 233.6 L148.1 237.3 L148.2 241.0 L148.2 244.7 L148.2 248.4 L148.3 252.1 L148.3 255.7 L148.3 259.4 L148.3 263.1 L148.3 266.8 L148.4 270.5 L148.4 274.2 L148.4 277.9 L148.4 281.6 L148.4 285.3" fill="none" stroke="#f060b0" stroke-width="0.75" stroke-opacity="0.8" stroke-dasharray="1.2 1.8"/>
<path d="M145.1 37.6 L145.1 38.9 L145.1 40.1 L144.7 41.4 L142.9 42.6 L138.5 43.9 L131.5 45.1 L123.2 46.4 L115.1 47.6 L108.3 48.9 L103.3 50.1 L99.8 51.4 L97.5 52.6 L96.2 53.9 L95.5 55.1 L95.2 56.4 L95.2 57.6 L95.5 58.9 L95.9 60.1 L96.4 61.4 L97.1 62.6 L97.9 63.9 L98.8 65.1 L99.8 66.4 L100.9 67.6 L102.1 68.9 L103.3 70.1 L104.7 71.4 L106.1 72.6 L107.5 73.9 L109.0 75.1 L110.5 76.4 L112.0 77.6 L113.5 78.9 L115.0 80.1 L116.5 81.4 L118.0 82.6 L119.4 83.9 L120.9 85.1 L122.3 86.4 L123.6 87.6 L125.0 88.9 L126.2 90.1 L127.5 91.4 L128.6 92.6 L129.8 93.9 L130.9 95.1 L131.9 96.4 L132.9 97.7 L133.8 98.9 L134.7 100.2 L135.6 101.4 L136.4 102.7 L137.2 103.9 L137.9 105.2 L138.6 106.4 L139.2 107.7 L139.8 108.9 L140.4 110.2 L141.0 111.7 L142.4 115.4 L143.6 119.1 L144.5 122.7 L145.3 126.4 L145.9 130.1 L146.4 133.8 L146.9 137.5 L147.2 141.2 L147.5 144.9 L147.7 148.6 L147.9 152.3 L148.0 156.0 L148.2 159.7 L148.3 163.4 L148.3 167.1 L148.4 170.8 L148.5 174.5 L148.5 178.2 L148.5 181.9 L148.6 185.6 L148.6 189.2 L148.6 192.9 L148.6 196.6 L148.6 200.3 L148.6 204.0 L148.7 207.7 L148.7 211.4 L148.7 215.1 L148.7 218.8 L148.7 222.5 L148.7 226.2 L148.7 229.9 L148.7 233.6 L148.7 237.3 L148.7 241.0 L148.7 244.7 L148.7 248.4 L148.7 252.1 L148.7 255.7 L148.7 259.4 L148.7 263.1 L148.7 266.8 L148.7 270.5 L148.7 274.2 L148.7 277.9 L148.7 281.6 L148.7 285.3" fill="none" stroke="#d030b0" stroke-width="0.75" stroke-opacity="0.8" stroke-dasharray="4 2"/>
<path d="M152.3 37.6 L152.3 38.9 L152.3 40.1 L152.1 41.4 L151.5 42.6 L149.9 43.9 L146.8 45.1 L142.7 46.4 L138.0 47.6 L133.3 48.9 L129.1 50.1 L125.7 51.4 L123.1 52.6 L121.1 53.9 L119.7 55.1 L118.7 56.4 L118.1 57.6 L117.6 58.9 L117.3 60.1 L117.1 61.4 L117.0 62.6 L117.0 63.9 L116.9 65.1 L116.9 66.4 L116.9 67.6 L116.9 68.9 L117.0 70.1 L117.0 71.4 L117.1 72.6 L117.2 73.9 L117.3 75.1 L117.5 76.4 L117.6 77.6 L117.9 78.9 L118.1 80.1 L118.4 81.4 L118.7 82.6 L119.1 83.9 L119.5 85.1 L120.0 86.4 L120.5 87.6 L121.0 88.9 L121.6 90.1 L122.2 91.4 L122.9 92.6 L123.6 93.9 L124.3 95.1 L125.1 96.4 L125.9 97.7 L126.7 98.9 L127.5 100.2 L128.4 101.4 L129.3 102.7 L130.1 103.9 L131.0 105.2 L131.9 106.4 L132.8 107.7 L133.7 108.9 L134.5 110.2 L135.6 111.7 L138.1 115.4 L140.4 119.1 L142.6 122.7 L144.6 126.4 L146.3 130.1 L147.9 133.8 L149.3 137.5 L150.4 141.2 L151.5 144.9 L152.3 148.6 L153.1 152.3 L153.7 156.0 L154.2 159.7 L154.6 163.4 L155.0 167.1 L155.3 170.8 L155.5 174.5 L155.7 178.2 L155.9 181.9 L156.0 185.6 L156.1 189.2 L156.2 192.9 L156.3 196.6 L156.3 200.3 L156.4 204.0 L156.4 207.7 L156.5 211.4 L156.5 215.1 L156.5 218.8 L156.5 222.5 L156.5 226.2 L156.6 229.9 L156.6 233.6 L156.6 237.3 L156.6 241.0 L156.6 244.7 L156.6 248.4 L156.6 252.1 L156.6 255.7 L156.6 259.4 L156.6 263.1 L156.6 266.8 L156.6 270.5 L156.6 274.2 L156.6 277.9 L156.6 281.6 L156.6 285.3" fill="none" stroke="#8070a0" stroke-width="0.75" stroke-opacity="0.8"/>
<path d="M157.6 37.6 L157.6 38.9 L157.6 40.1 L157.6 41.4 L157.6 42.6 L157.5 43.9 L156.4 45.1 L151.6 46.4 L141.0 47.6 L126.0 48.9 L110.9 50.1 L99.4 51.4 L92.3 52.6 L88.6 53.9 L87.1 55.1 L86.6 56.4 L86.7 57.6 L87.0 58.9 L87.4 60.1 L87.9 61.4 L88.4 62.6 L89.0 63.9 L89.7 65.1 L90.4 66.4 L91.2 67.6 L92.0 68.9 L92.9 70.1 L93.8 71.4 L94.8 72.6 L95.8 73.9 L96.8 75.1 L97.9 76.4 L99.0 77.6 L100.1 78.9 L101.2 80.1 L102.3 81.4 L103.5 82.6 L104.7 83.9 L105.8 85.1 L107.0 86.4 L108.1 87.6 L109.3 88.9 L110.5 90.1 L111.6 91.4 L112.8 92.6 L113.9 93.9 L115.0 95.1 L116.1 96.4 L117.2 97.7 L118.3 98.9 L119.4 100.2 L120.4 101.4 L121.5 102.7 L122.5 103.9 L123.5 105.2 L124.5 106.4 L125.4 107.7 L126.4 108.9 L127.3 110.2 L128.4 111.7 L130.9 115.4 L133.2 119.1 L135.4 122.7 L137.4 126.4 L139.3 130.1 L141.0 133.8 L142.5 137.5 L144.0 141.2 L145.3 144.9 L146.5 148.6 L147.6 152.3 L148.6 156.0 L149.5 159.7 L150.3 163.4 L151.1 167.1 L151.8 170.8 L152.4 174.5 L153.0 178.2 L153.5 181.9 L154.0 185.6 L154.4 189.2 L154.8 192.9 L155.2 196.6 L155.5 200.3 L155.8 204.0 L156.1 207.7 L156.3 211.4 L156.6 215.1 L156.8 218.8 L157.0 222.5 L157.2 226.2 L157.3 229.9 L157.5 233.6 L157.6 237.3 L157.7 241.0 L157.8 244.7 L157.9 248.4 L158.0 252.1 L158.1 255.7 L158.2 259.4 L158.3 263.1 L158.3 266.8 L158.4 270.5 L158.5 274.2 L158.5 277.9 L158.6 281.6 L158.6 285.3" fill="none" stroke="#8a8a30" stroke-width="0.75" stroke-opacity="0.8" stroke-dasharray="4 2"/>
<path d="M163.0 37.6 L163.0 38.9 L162.9 40.1 L162.2 41.4 L159.2 42.6 L152.2 43.9 L141.5 45.1 L129.2 46.4 L117.4 47.6 L107.6 48.9 L100.3 50.1 L95.2 51.4 L91.9 52.6 L89.9 53.9 L88.7 55.1 L88.1 56.4 L87.8 57.6 L87.8 58.9 L88.1 60.1 L88.5 61.4 L89.1 62.6 L89.8 63.9 L90.7 65.1 L91.8 66.4 L93.1 67.6 L94.5 68.9 L96.0 70.1 L97.8 71.4 L99.6 72.6 L101.6 73.9 L103.7 75.1 L105.8 76.4 L108.0 77.6 L110.3 78.9 L112.6 80.1 L114.9 81.4 L117.2 82.6 L119.4 83.9 L121.7 85.1 L123.9 86.4 L126.0 87.6 L128.1 88.9 L130.1 90.1 L132.0 91.4 L133.9 92.6 L135.6 93.9 L137.3 95.1 L138.9 96.4 L140.4 97.7 L141.9 98.9 L143.2 100.2 L144.5 101.4 L145.7 102.7 L146.8 103.9 L147.9 105.2 L148.8 106.4 L149.7 107.7 L150.6 108.9 L151.4 110.2 L152.2 111.7 L154.0 115.4 L155.5 119.1 L156.6 122.7 L157.5 126.4 L158.2 130.1 L158.7 133.8 L159.1 137.5 L159.4 141.2 L159.6 144.9 L159.8 148.6 L159.9 152.3 L160.0 156.0 L160.1 159.7 L160.2 163.4 L160.2 167.1 L160.3 170.8 L160.3 174.5 L160.3 178.2 L160.3 181.9 L160.3 185.6 L160.4 189.2 L160.4 192.9 L160.4 196.6 L160.4 200.3 L160.4 204.0 L160.4 207.7 L160.4 211.4 L160.4 215.1 L160.4 218.8 L160.4 222.5 L160.4 226.2 L160.4 229.9 L160.4 233.6 L160.4 237.3 L160.4 241.0 L160.4 244.7 L160.4 248.4 L160.4 252.1 L160.4 255.7 L160.4 259.4 L160.4 263.1 L160.4 266.8 L160.4 270.5 L160.4 274.2 L160.4 277.9 L160.4 281.6 L160.4 285.3" fill="none" stroke="#8030c8" stroke-width="0.75" stroke-opacity="0.8" stroke-dasharray="4 2"/>
<path d="M145.1 37.6 L145.1 38.9 L145.1 40.1 L145.1 41.4 L145.1 42.6 L145.1 43.9 L145.1 45.1 L145.0 46.4 L144.5 47.6 L142.8 48.9 L138.9 50.1 L132.4 51.4 L123.8 52.6 L114.8 53.9 L106.6 55.1 L100.3 56.4 L95.8 57.6 L93.0 58.9 L91.3 60.1 L90.4 61.4 L90.0 62.6 L89.8 63.9 L89.8 65.1 L89.9 66.4 L90.0 67.6 L90.2 68.9 L90.5 70.1 L90.8 71.4 L91.2 72.6 L91.7 73.9 L92.2 75.1 L92.9 76.4 L93.5 77.6 L94.3 78.9 L95.2 80.1 L96.1 81.4 L97.1 82.6 L98.2 83.9 L99.3 85.1 L100.6 86.4 L101.9 87.6 L103.2 88.9 L104.6 90.1 L106.0 91.4 L107.5 92.6 L109.0 93.9 L110.6 95.1 L112.2 96.4 L113.7 97.7 L115.3 98.9 L116.9 100.2 L118.6 101.4 L120.2 102.7 L121.7 103.9 L123.3 105.2 L124.9 106.4 L126.4 107.7 L127.9 108.9 L129.4 110.2 L131.1 111.7 L135.2 115.4 L139.0 119.1 L142.3 122.7 L145.4 126.4 L148.1 130.1 L150.5 133.8 L152.6 137.5 L154.4 141.2 L155.9 144.9 L157.2 148.6 L158.4 152.3 L159.4 156.0 L160.2 159.7 L160.9 163.4 L161.5 167.1 L162.0 170.8 L162.4 174.5 L162.7 178.2 L163.0 181.9 L163.3 185.6 L163.5 189.2 L163.6 192.9 L163.8 196.6 L163.9 200.3 L164.0 204.0 L164.1 207.7 L164.2 211.4 L164.2 215.1 L164.3 218.8 L164.3 222.5 L164.3 226.2 L164.4 229.9 L164.4 233.6 L164.4 237.3 L164.4 241.0 L164.4 244.7 L164.4 248.4 L164.5 252.1 L164.5 255.7 L164.5 259.4 L164.5 263.1 L164.5 266.8 L164.5 270.5 L164.5 274.2 L164.5 277.9 L164.5 281.6 L164.5 285.3" fill="none" stroke="#2a7a2a" stroke-width="0.75" stroke-opacity="0.8" stroke-dasharray="4 2"/>
<path d="M145.1 37.6 L145.1 38.9 L145.1 40.1 L145.1 41.4 L145.1 42.6 L145.1 43.9 L145.1 45.1 L145.1 46.4 L145.1 47.6 L144.9 48.9 L144.3 50.1 L143.1 51.4 L141.0 52.6 L138.1 53.9 L134.6 55.1 L131.0 56.4 L127.6 57.6 L124.7 58.9 L122.4 60.1 L120.7 61.4 L119.6 62.6 L118.9 63.9 L118.5 65.1 L118.3 66.4 L118.2 67.6 L118.3 68.9 L118.5 70.1 L118.7 71.4 L119.0 72.6 L119.4 73.9 L119.7 75.1 L120.2 76.4 L120.6 77.6 L121.1 78.9 L121.7 80.1 L122.3 81.4 L122.9 82.6 L123.6 83.9 L124.3 85.1 L125.0 86.4 L125.7 87.6 L126.5 88.9 L127.3 90.1 L128.1 91.4 L129.0 92.6 L129.8 93.9 L130.7 95.1 L131.6 96.4 L132.5 97.7 L133.4 98.9 L134.3 100.2 L135.2 101.4 L136.0 102.7 L136.9 103.9 L137.8 105.2 L138.7 106.4 L139.6 107.7 L140.4 108.9 L141.3 110.2 L142.3 111.7 L144.7 115.4 L146.9 119.1 L149.0 122.7 L150.9 126.4 L152.6 130.1 L154.2 133.8 L155.7 137.5 L157.0 141.2 L158.2 144.9 L159.2 148.6 L160.1 152.3 L160.9 156.0 L161.7 159.7 L162.3 163.4 L162.9 167.1 L163.4 170.8 L163.8 174.5 L164.2 178.2 L164.5 181.9 L164.8 185.6 L165.1 189.2 L165.3 192.9 L165.5 196.6 L165.7 200.3 L165.8 204.0 L165.9 207.7 L166.1 211.4 L166.1 215.1 L166.2 218.8 L166.3 222.5 L166.4 226.2 L166.4 229.9 L166.5 233.6 L166.5 237.3 L166.6 241.0 L166.6 244.7 L166.6 248.4 L166.7 252.1 L166.7 255.7 L166.7 259.4 L166.7 263.1 L166.7 266.8 L166.7 270.5 L166.8 274.2 L166.8 277.9 L166.8 281.6 L166.8 285.3" fill="none" stroke="#f07a20" stroke-width="0.75" stroke-opacity="0.8"/>
<path d="M118.7 37.6 L118.7 38.9 L118.7 40.1 L118.6 41.4 L118.3 42.6 L117.4 43.9 L115.3 45.1 L111.9 46.4 L107.7 47.6 L103.2 48.9 L99.0 50.1 L95.4 51.4 L92.6 52.6 L90.5 53.9 L89.0 55.1 L88.0 56.4 L87.3 57.6 L86.9 58.9 L86.6 60.1 L86.5 61.4 L86.4 62.6 L86.4 63.9 L86.4 65.1 L86.4 66.4 L86.5 67.6 L86.6 68.9 L86.8 70.1 L87.0 71.4 L87.2 72.6 L87.5 73.9 L87.8 75.1 L88.1 76.4 L88.6 77.6 L89.0 78.9 L89.6 80.1 L90.2 81.4 L90.8 82.6 L91.5 83.9 L92.3 85.1 L93.1 86.4 L94.0 87.6 L95.0 88.9 L96.0 90.1 L97.0 91.4 L98.1 92.6 L99.3 93.9 L100.5 95.1 L101.7 96.4 L103.0 97.7 L104.3 98.9 L105.6 100.2 L107.0 101.4 L108.3 102.7 L109.7 103.9 L111.2 105.2 L112.6 106.4 L114.0 107.7 L115.4 108.9 L116.9 110.2 L118.6 111.7 L122.8 115.4 L126.8 119.1 L130.7 122.7 L134.4 126.4 L137.9 130.1 L141.1 133.8 L144.1 137.5 L146.8 141.2 L149.3 144.9 L151.6 148.6 L153.6 152.3 L155.4 156.0 L157.0 159.7 L158.5 163.4 L159.7 167.1 L160.9 170.8 L161.9 174.5 L162.7 178.2 L163.5 181.9 L164.2 185.6 L164.8 189.2 L165.3 192.9 L165.8 196.6 L166.2 200.3 L166.5 204.0 L166.8 207.7 L167.1 211.4 L167.3 215.1 L167.5 218.8 L167.7 222.5 L167.9 226.2 L168.0 229.9 L168.1 233.6 L168.2 237.3 L168.3 241.0 L168.4 244.7 L168.4 248.4 L168.5 252.1 L168.6 255.7 L168.6 259.4 L168.6 263.1 L168.7 266.8 L168.7 270.5 L168.7 274.2 L168.8 277.9 L168.8 281.6 L168.8 285.3" fill="none" stroke="#30c830" stroke-width="0.75" stroke-opacity="0.8"/>
<path d="M167.6 37.6 L167.6 38.9 L167.6 40.1 L167.6 41.4 L167.6 42.6 L167.6 43.9 L167.5 45.1 L166.7 46.4 L164.4 47.6 L159.5 48.9 L151.8 50.1 L141.6 51.4 L130.4 52.6 L119.6 53.9 L110.1 55.1 L102.5 56.4 L96.9 57.6 L93.0 58.9 L90.5 60.1 L88.9 61.4 L88.1 62.6 L87.7 63.9 L87.7 65.1 L88.0 66.4 L88.4 67.6 L88.9 68.9 L89.6 70.1 L90.4 71.4 L91.3 72.6 L92.3 73.9 L93.5 75.1 L94.7 76.4 L96.0 77.6 L97.4 78.9 L98.8 80.1 L100.4 81.4 L102.0 82.6 L103.7 83.9 L105.4 85.1 L107.2 86.4 L109.0 87.6 L110.9 88.9 L112.7 90.1 L114.6 91.4 L116.5 92.6 L118.4 93.9 L120.2 95.1 L122.1 96.4 L124.0 97.7 L125.8 98.9 L127.6 100.2 L129.4 101.4 L131.1 102.7 L132.8 103.9 L134.5 105.2 L136.1 106.4 L137.7 107.7 L139.2 108.9 L140.7 110.2 L142.5 111.7 L146.4 115.4 L150.0 119.1 L153.2 122.7 L155.9 126.4 L158.4 130.1 L160.5 133.8 L162.3 137.5 L163.9 141.2 L165.3 144.9 L166.4 148.6 L167.4 152.3 L168.3 156.0 L169.0 159.7 L169.6 163.4 L170.1 167.1 L170.5 170.8 L170.9 174.5 L171.2 178.2 L171.5 181.9 L171.7 185.6 L171.9 189.2 L172.0 192.9 L172.2 196.6 L172.3 200.3 L172.4 204.0 L172.5 207.7 L172.5 211.4 L172.6 215.1 L172.6 218.8 L172.7 222.5 L172.7 226.2 L172.7 229.9 L172.8 233.6 L172.8 237.3 L172.8 241.0 L172.8 244.7 L172.8 248.4 L172.9 252.1 L172.9 255.7 L172.9 259.4 L172.9 263.1 L172.9 266.8 L172.9 270.5 L172.9 274.2 L172.9 277.9 L172.9 281.6 L172.9 285.3" fill="none" stroke="#2030d8" stroke-width="0.75" stroke-opacity="0.8" stroke-dasharray="4 2"/>
<path d="M150.5 37.6 L150.5 38.9 L150.5 40.1 L150.2 41.4 L149.0 42.6 L146.1 43.9 L141.2 45.1 L134.9 46.4 L128.2 47.6 L122.0 48.9 L116.7 50.1 L112.6 51.4 L109.5 52.6 L107.4 53.9 L105.9 55.1 L104.9 56.4 L104.2 57.6 L103.8 58.9 L103.6 60.1 L103.4 61.4 L103.4 62.6 L103.4 63.9 L103.4 65.1 L103.5 66.4 L103.6 67.6 L103.7 68.9 L103.9 70.1 L104.2 71.4 L104.5 72.6 L104.8 73.9 L105.2 75.1 L105.7 76.4 L106.2 77.6 L106.8 78.9 L107.4 80.1 L108.2 81.4 L108.9 82.6 L109.8 83.9 L110.7 85.1 L111.7 86.4 L112.7 87.6 L113.8 88.9 L115.0 90.1 L116.1 91.4 L117.4 92.6 L118.7 93.9 L120.0 95.1 L121.3 96.4 L122.7 97.7 L124.1 98.9 L125.6 100.2 L127.0 101.4 L128.5 102.7 L129.9 103.9 L131.4 105.2 L132.8 106.4 L134.3 107.7 L135.7 108.9 L137.2 110.2 L138.9 111.7 L143.0 115.4 L146.8 119.1 L150.5 122.7 L153.9 126.4 L156.9 130.1 L159.7 133.8 L162.3 137.5 L164.5 141.2 L166.6 144.9 L168.4 148.6 L169.9 152.3 L171.3 156.0 L172.5 159.7 L173.6 163.4 L174.5 167.1 L175.3 170.8 L176.0 174.5 L176.6 178.2 L177.1 181.9 L177.5 185.6 L177.9 189.2 L178.3 192.9 L178.5 196.6 L178.8 200.3 L179.0 204.0 L179.2 207.7 L179.3 211.4 L179.5 215.1 L179.6 218.8 L179.7 222.5 L179.7 226.2 L179.8 229.9 L179.9 233.6 L179.9 237.3 L180.0 241.0 L180.0 244.7 L180.0 248.4 L180.1 252.1 L180.1 255.7 L180.1 259.4 L180.1 263.1 L180.1 266.8 L180.2 270.5 L180.2 274.2 L180.2 277.9 L180.2 281.6 L180.2 285.3" fill="none" stroke="#f0a020" stroke-width="0.75" stroke-opacity="0.8" stroke-dasharray="4 2"/>
<path d="M173.7 37.6 L173.7 38.9 L173.7 40.1 L173.7 41.4 L173.7 42.6 L173.7 43.9 L173.5 45.1 L173.1 46.4 L172.2 47.6 L170.5 48.9 L167.9 50.1 L164.4 51.4 L160.0 52.6 L155.0 53.9 L149.6 55.1 L144.2 56.4 L139.0 57.6 L134.2 58.9 L129.8 60.1 L126.0 61.4 L122.7 62.6 L120.0 63.9 L117.8 65.1 L116.0 66.4 L114.6 67.6 L113.6 68.9 L112.8 70.1 L112.2 71.4 L111.9 72.6 L111.7 73.9 L111.7 75.1 L111.8 76.4 L112.0 77.6 L112.3 78.9 L112.8 80.1 L113.2 81.4 L113.8 82.6 L114.5 83.9 L115.2 85.1 L116.0 86.4 L116.8 87.6 L117.7 88.9 L118.7 90.1 L119.7 91.4 L120.7 92.6 L121.8 93.9 L123.0 95.1 L124.1 96.4 L125.4 97.7 L126.6 98.9 L127.8 100.2 L129.1 101.4 L130.4 102.7 L131.7 103.9 L133.1 105.2 L134.4 106.4 L135.7 107.7 L137.0 108.9 L138.4 110.2 L140.0 111.7 L143.8 115.4 L147.5 119.1 L151.0 122.7 L154.3 126.4 L157.4 130.1 L160.2 133.8 L162.8 137.5 L165.1 141.2 L167.2 144.9 L169.1 148.6 L170.8 152.3 L172.3 156.0 L173.7 159.7 L174.8 163.4 L175.9 167.1 L176.8 170.8 L177.6 174.5 L178.3 178.2 L178.9 181.9 L179.4 185.6 L179.9 189.2 L180.3 192.9 L180.6 196.6 L180.9 200.3 L181.2 204.0 L181.4 207.7 L181.6 211.4 L181.8 215.1 L181.9 218.8 L182.1 222.5 L182.2 226.2 L182.3 229.9 L182.3 233.6 L182.4 237.3 L182.5 241.0 L182.5 244.7 L182.6 248.4 L182.6 252.1 L182.7 255.7 L182.7 259.4 L182.7 263.1 L182.7 266.8 L182.8 270.5 L182.8 274.2 L182.8 277.9 L182.8 281.6 L182.8 285.3" fill="none" stroke="#a040e0" stroke-width="0.75" stroke-opacity="0.8"/>
<path d="M155.8 37.6 L155.8 38.9 L155.8 40.1 L155.8 41.4 L155.8 42.6 L155.8 43.9 L155.8 45.1 L155.7 46.4 L155.0 47.6 L152.9 48.9 L148.7 50.1 L141.8 51.4 L132.8 52.6 L122.7 53.9 L113.0 55.1 L104.5 56.4 L97.8 57.6 L92.9 58.9 L89.5 60.1 L87.3 61.4 L86.0 62.6 L85.2 63.9 L84.8 65.1 L84.7 66.4 L84.7 67.6 L84.8 68.9 L85.0 70.1 L85.3 71.4 L85.6 72.6 L86.0 73.9 L86.4 75.1 L87.0 76.4 L87.6 77.6 L88.2 78.9 L89.0 80.1 L89.8 81.4 L90.7 82.6 L91.7 83.9 L92.7 85.1 L93.8 86.4 L95.0 87.6 L96.3 88.9 L97.6 90.1 L99.0 91.4 L100.4 92.6 L101.9 93.9 L103.5 95.1 L105.1 96.4 L106.7 97.7 L108.4 98.9 L110.1 100.2 L111.8 101.4 L113.5 102.7 L115.3 103.9 L117.1 105.2 L118.9 106.4 L120.6 107.7 L122.4 108.9 L124.2 110.2 L126.4 111.7 L131.5 115.4 L136.5 119.1 L141.3 122.7 L145.8 126.4 L150.1 130.1 L154.0 133.8 L157.6 137.5 L160.9 141.2 L163.9 144.9 L166.6 148.6 L169.0 152.3 L171.2 156.0 L173.1 159.7 L174.9 163.4 L176.4 167.1 L177.8 170.8 L179.0 174.5 L180.1 178.2 L181.0 181.9 L181.8 185.6 L182.6 189.2 L183.2 192.9 L183.8 196.6 L184.2 200.3 L184.7 204.0 L185.0 207.7 L185.4 211.4 L185.7 215.1 L185.9 218.8 L186.1 222.5 L186.3 226.2 L186.5 229.9 L186.6 233.6 L186.8 237.3 L186.9 241.0 L187.0 244.7 L187.1 248.4 L187.1 252.1 L187.2 255.7 L187.2 259.4 L187.3 263.1 L187.3 266.8 L187.4 270.5 L187.4 274.2 L187.4 277.9 L187.5 281.6 L187.5 285.3" fill="none" stroke="#30c830" stroke-width="0.75" stroke-opacity="0.8" stroke-dasharray="1.2 1.8"/>
<path d="M170.1 37.6 L170.1 38.9 L170.1 40.1 L170.1 41.4 L169.7 42.6 L167.8 43.9 L162.6 45.1 L153.4 46.4 L141.2 47.6 L128.2 48.9 L116.5 50.1 L107.2 51.4 L100.4 52.6 L95.8 53.9 L92.9 55.1 L91.2 56.4 L90.1 57.6 L89.6 58.9 L89.2 60.1 L89.1 61.4 L89.1 62.6 L89.1 63.9 L89.1 65.1 L89.3 66.4 L89.4 67.6 L89.7 68.9 L90.0 70.1 L90.4 71.4 L90.8 72.6 L91.4 73.9 L92.0 75.1 L92.8 76.4 L93.6 77.6 L94.6 78.9 L95.7 80.1 L96.9 81.4 L98.3 82.6 L99.7 83.9 L101.2 85.1 L102.9 86.4 L104.6 87.6 L106.5 88.9 L108.4 90.1 L110.4 91.4 L112.5 92.6 L114.6 93.9 L116.7 95.1 L118.9 96.4 L121.2 97.7 L123.4 98.9 L125.7 100.2 L128.0 101.4 L130.2 102.7 L132.5 103.9 L134.7 105.2 L136.9 106.4 L139.1 107.7 L141.2 108.9 L143.3 110.2 L145.7 111.7 L151.4 115.4 L156.6 119.1 L161.3 122.7 L165.4 126.4 L169.1 130.1 L172.2 133.8 L174.9 137.5 L177.3 141.2 L179.2 144.9 L180.9 148.6 L182.3 152.3 L183.5 156.0 L184.4 159.7 L185.2 163.4 L185.9 167.1 L186.5 170.8 L186.9 174.5 L187.3 178.2 L187.6 181.9 L187.9 185.6 L188.1 189.2 L188.2 192.9 L188.4 196.6 L188.5 200.3 L188.6 204.0 L188.7 207.7 L188.7 211.4 L188.8 215.1 L188.8 218.8 L188.8 222.5 L188.9 226.2 L188.9 229.9 L188.9 233.6 L188.9 237.3 L188.9 241.0 L189.0 244.7 L189.0 248.4 L189.0 252.1 L189.0 255.7 L189.0 259.4 L189.0 263.1 L189.0 266.8 L189.0 270.5 L189.0 274.2 L189.0 277.9 L189.0 281.6 L189.0 285.3" fill="none" stroke="#3090e8" stroke-width="0.75" stroke-opacity="0.8"/>
<path d="M138.0 37.6 L138.0 38.9 L138.0 40.1 L138.0 41.4 L137.9 42.6 L137.7 43.9 L136.7 45.1 L134.6 46.4 L131.4 47.6 L127.7 48.9 L124.1 50.1 L121.1 51.4 L119.0 52.6 L117.5 53.9 L116.6 55.1 L116.1 56.4 L115.9 57.6 L115.9 58.9 L116.0 60.1 L116.2 61.4 L116.5 62.6 L116.9 63.9 L117.5 65.1 L118.1 66.4 L118.9 67.6 L119.7 68.9 L120.7 70.1 L121.8 71.4 L122.9 72.6 L124.1 73.9 L125.4 75.1 L126.8 76.4 L128.1 77.6 L129.5 78.9 L131.0 80.1 L132.4 81.4 L133.8 82.6 L135.1 83.9 L136.5 85.1 L137.8 86.4 L139.0 87.6 L140.2 88.9 L141.4 90.1 L142.5 91.4 L143.5 92.6 L144.5 93.9 L145.4 95.1 L146.3 96.4 L147.1 97.7 L147.8 98.9 L148.5 100.2 L149.2 101.4 L149.8 102.7 L150.3 103.9 L150.8 105.2 L151.3 106.4 L151.7 107.7 L152.1 108.9 L152.5 110.2 L152.9 111.7 L153.6 115.4 L154.2 119.1 L154.7 122.7 L155.0 126.4 L155.2 130.1 L155.4 133.8 L155.5 137.5 L155.6 141.2 L155.7 144.9 L155.7 148.6 L155.8 152.3 L155.8 156.0 L155.8 159.7 L155.8 163.4 L155.8 167.1 L155.8 170.8 L155.8 174.5 L155.8 178.2 L155.8 181.9 L155.8 185.6 L155.8 189.2 L155.8 192.9 L155.8 196.6 L155.8 200.3 L155.8 204.0 L155.8 207.7 L155.8 211.4 L155.8 215.1 L155.8 218.8 L155.8 222.5 L155.8 226.2 L155.8 229.9 L155.8 233.6 L155.8 237.3 L155.8 241.0 L155.8 244.7 L155.8 248.4 L155.8 252.1 L155.8 255.7 L155.8 259.4 L155.8 263.1 L155.8 266.8 L155.8 270.5 L155.8 274.2 L155.8 277.9 L155.8 281.6 L155.8 285.3" fill="none" stroke="#20c0c8" stroke-width="0.75" stroke-opacity="0.8"/>
<path d="M159.4 37.6 L159.4 38.9 L159.4 40.1 L159.4 41.4 L159.4 42.6 L159.3 43.9 L159.1 45.1 L158.5 46.4 L157.4 47.6 L155.5 48.9 L152.8 50.1 L149.4 51.4 L145.5 52.6 L141.3 53.9 L137.0 55.1 L133.0 56.4 L129.3 57.6 L126.2 58.9 L123.6 60.1 L121.6 61.4 L120.2 62.6 L119.3 63.9 L118.8 65.1 L118.9 66.4 L119.2 67.6 L119.9 68.9 L120.8 70.1 L121.9 71.4 L123.2 72.6 L124.5 73.9 L126.0 75.1 L127.5 76.4 L129.0 77.6 L130.6 78.9 L132.1 80.1 L133.7 81.4 L135.2 82.6 L136.6 83.9 L138.1 85.1 L139.4 86.4 L140.8 87.6 L142.0 88.9 L143.3 90.1 L144.4 91.4 L145.6 92.6 L146.6 93.9 L147.6 95.1 L148.6 96.4 L149.5 97.7 L150.3 98.9 L151.1 100.2 L151.9 101.4 L152.6 102.7 L153.3 103.9 L153.9 105.2 L154.5 106.4 L155.1 107.7 L155.6 108.9 L156.1 110.2 L156.6 111.7 L157.8 115.4 L158.8 119.1 L159.6 122.7 L160.2 126.4 L160.7 130.1 L161.2 133.8 L161.5 137.5 L161.8 141.2 L162.0 144.9 L162.2 148.6 L162.3 152.3 L162.5 156.0 L162.6 159.7 L162.6 163.4 L162.7 167.1 L162.8 170.8 L162.8 174.5 L162.8 178.2 L162.9 181.9 L162.9 185.6 L162.9 189.2 L162.9 192.9 L162.9 196.6 L162.9 200.3 L163.0 204.0 L163.0 207.7 L163.0 211.4 L163.0 215.1 L163.0 218.8 L163.0 222.5 L163.0 226.2 L163.0 229.9 L163.0 233.6 L163.0 237.3 L163.0 241.0 L163.0 244.7 L163.0 248.4 L163.0 252.1 L163.0 255.7 L163.0 259.4 L163.0 263.1 L163.0 266.8 L163.0 270.5 L163.0 274.2 L163.0 277.9 L163.0 281.6 L163.0 285.3" fill="none" stroke="#d030b0" stroke-width="0.75" stroke-opacity="0.8" stroke-dasharray="1.2 1.8"/>
<path d="M166.6 37.6 L166.6 38.9 L166.6 40.1 L166.6 41.4 L166.6 42.6 L166.6 43.9 L166.5 45.1 L166.1 46.4 L165.2 47.6 L163.4 48.9 L160.3 50.1 L155.8 51.4 L150.1 52.6 L143.4 53.9 L136.4 55.1 L129.6 56.4 L123.3 57.6 L117.9 58.9 L113.6 60.1 L110.5 61.4 L108.6 62.6 L107.7 63.9 L107.8 65.1 L108.8 66.4 L110.5 67.6 L112.8 68.9 L115.4 70.1 L118.5 71.4 L121.7 72.6 L125.1 73.9 L128.5 75.1 L131.9 76.4 L135.3 77.6 L138.6 78.9 L141.7 80.1 L144.8 81.4 L147.6 82.6 L150.3 83.9 L152.8 85.1 L155.2 86.4 L157.3 87.6 L159.3 88.9 L161.2 90.1 L162.8 91.4 L164.4 92.6 L165.7 93.9 L167.0 95.1 L168.1 96.4 L169.1 97.7 L170.0 98.9 L170.9 100.2 L171.6 101.4 L172.2 102.7 L172.8 103.9 L173.3 105.2 L173.8 106.4 L174.2 107.7 L174.6 108.9 L174.9 110.2 L175.2 111.7 L175.9 115.4 L176.3 119.1 L176.6 122.7 L176.8 126.4 L177.0 130.1 L177.1 133.8 L177.2 137.5 L177.2 141.2 L177.2 144.9 L177.3 148.6 L177.3 152.3 L177.3 156.0 L177.3 159.7 L177.3 163.4 L177.3 167.1 L177.3 170.8 L177.3 174.5 L177.3 178.2 L177.3 181.9 L177.3 185.6 L177.3 189.2 L177.3 192.9 L177.3 196.6 L177.3 200.3 L177.3 204.0 L177.3 207.7 L177.3 211.4 L177.3 215.1 L177.3 218.8 L177.3 222.5 L177.3 226.2 L177.3 229.9 L177.3 233.6 L177.3 237.3 L177.3 241.0 L177.3 244.7 L177.3 248.4 L177.3 252.1 L177.3 255.7 L177.3 259.4 L177.3 263.1 L177.3 266.8 L177.3 270.5 L177.3 274.2 L177.3 277.9 L177.3 281.6 L177.3 285.3" fill="none" stroke="#20c0c8" stroke-width="0.75" stroke-opacity="0.8"/>
<path d="M177.3 37.6 L177.3 38.9 L177.3 40.1 L177.3 41.4 L177.3 42.6 L177.3 43.9 L177.3 45.1 L177.3 46.4 L177.3 47.6 L177.2 48.9 L176.8 50.1 L175.6 51.4 L172.7 52.6 L167.3 53.9 L159.3 55.1 L149.3 56.4 L138.6 57.6 L128.5 58.9 L119.9 60.1 L113.3 61.4 L108.6 62.6 L105.6 63.9 L103.7 65.1 L102.8 66.4 L102.4 67.6 L102.5 68.9 L102.8 70.1 L103.3 71.4 L103.9 72.6 L104.6 73.9 L105.4 75.1 L106.3 76.4 L107.3 77.6 L108.3 78.9 L109.4 80.1 L110.6 81.4 L111.9 82.6 L113.2 83.9 L114.5 85.1 L116.0 86.4 L117.4 87.6 L118.9 88.9 L120.4 90.1 L122.0 91.4 L123.6 92.6 L125.1 93.9 L126.8 95.1 L128.4 96.4 L130.0 97.7 L131.6 98.9 L133.2 100.2 L134.8 101.4 L136.4 102.7 L138.0 103.9 L139.5 105.2 L141.1 106.4 L142.6 107.7 L144.1 108.9 L145.6 110.2 L147.3 111.7 L151.3 115.4 L155.1 119.1 L158.5 122.7 L161.7 126.4 L164.5 130.1 L167.1 133.8 L169.4 137.5 L171.5 141.2 L173.3 144.9 L174.9 148.6 L176.3 152.3 L177.6 156.0 L178.7 159.7 L179.7 163.4 L180.5 167.1 L181.3 170.8 L181.9 174.5 L182.5 178.2 L183.0 181.9 L183.4 185.6 L183.8 189.2 L184.1 192.9 L184.4 196.6 L184.6 200.3 L184.9 204.0 L185.0 207.7 L185.2 211.4 L185.3 215.1 L185.5 218.8 L185.6 222.5 L185.7 226.2 L185.8 229.9 L185.8 233.6 L185.9 237.3 L185.9 241.0 L186.0 244.7 L186.0 248.4 L186.1 252.1 L186.1 255.7 L186.1 259.4 L186.1 263.1 L186.2 266.8 L186.2 270.5 L186.2 274.2 L186.2 277.9 L186.2 281.6 L186.2 285.3" fill="none" stroke="#20c0c8" stroke-width="0.75" stroke-opacity="0.8" stroke-dasharray="1.2 1.8"/>
<path d="M130.8 37.6 L130.8 38.9 L130.8 40.1 L130.8 41.4 L130.8 42.6 L130.8 43.9 L130.8 45.1 L130.8 46.4 L130.8 47.6 L130.6 48.9 L130.1 50.1 L129.1 51.4 L127.6 52.6 L125.6 53.9 L123.3 55.1 L120.8 56.4 L118.5 57.6 L116.5 58.9 L114.8 60.1 L113.6 61.4 L112.7 62.6 L112.1 63.9 L111.8 65.1 L111.8 66.4 L111.8 67.6 L112.0 68.9 L112.3 70.1 L112.6 71.4 L112.9 72.6 L113.3 73.9 L113.8 75.1 L114.2 76.4 L114.7 77.6 L115.1 78.9 L115.6 80.1 L116.1 81.4 L116.6 82.6 L117.1 83.9 L117.7 85.1 L118.2 86.4 L118.7 87.6 L119.2 88.9 L119.7 90.1 L120.2 91.4 L120.8 92.6 L121.3 93.9 L121.8 95.1 L122.3 96.4 L122.8 97.7 L123.3 98.9 L123.8 100.2 L124.3 101.4 L124.7 102.7 L125.2 103.9 L125.7 105.2 L126.1 106.4 L126.6 107.7 L127.0 108.9 L127.5 110.2 L128.0 111.7 L129.2 115.4 L130.3 119.1 L131.3 122.7 L132.3 126.4 L133.2 130.1 L134.1 133.8 L134.8 137.5 L135.6 141.2 L136.2 144.9 L136.8 148.6 L137.4 152.3 L137.9 156.0 L138.4 159.7 L138.8 163.4 L139.2 167.1 L139.6 170.8 L139.9 174.5 L140.2 178.2 L140.5 181.9 L140.8 185.6 L141.0 189.2 L141.2 192.9 L141.4 196.6 L141.6 200.3 L141.7 204.0 L141.9 207.7 L142.0 211.4 L142.2 215.1 L142.3 218.8 L142.4 222.5 L142.5 226.2 L142.6 229.9 L142.7 233.6 L142.7 237.3 L142.8 241.0 L142.9 244.7 L142.9 248.4 L143.0 252.1 L143.0 255.7 L143.1 259.4 L143.1 263.1 L143.2 266.8 L143.2 270.5 L143.2 274.2 L143.3 277.9 L143.3 281.6 L143.3 285.3" fill="none" stroke="#2a7a2a" stroke-width="0.75" stroke-opacity="0.8"/>
<path d="M163.7 37.6 L163.5 38.6 L163.0 39.6 L162.3 40.5 L161.5 41.5 L160.5 42.5 L159.4 43.5 L158.3 44.4 L156.9 45.4 L155.0 46.4 L152.9 47.4 L150.7 48.3 L147.9 49.3 L144.6 50.3 L141.2 51.3 L137.9 52.2 L134.5 53.2 L131.0 54.2 L127.8 55.2 L125.2 56.1 L123.0 57.1 L121.0 58.1 L119.2 59.1 L117.5 60.0 L115.9 61.0 L114.3 62.0 L113.0 63.0 L111.9 63.9 L110.9 64.9 L110.0 65.9 L109.3 66.9 L108.7 67.8 L108.4 68.8 L108.2 69.8 L108.0 70.8 L107.9 71.7 L108.0 72.7 L108.2 73.7 L108.5 74.7 L108.9 75.6 L109.3 76.6 L109.7 77.6 L110.2 78.6 L110.7 79.5 L111.4 80.5 L112.1 81.5 L112.9 82.5 L113.7 83.4 L114.5 84.4 L115.3 85.4 L116.2 86.4 L117.1 87.3 L118.0 88.3 L118.9 89.3 L119.8 90.3 L120.7 91.2 L121.6 92.2 L122.5 93.2 L123.4 94.2 L124.3 95.1 L125.3 96.1 L128.4 99.4 L131.6 102.6 L134.8 105.8 L138.1 109.0 L141.2 112.2 L143.9 115.4 L146.5 118.6 L148.9 121.8 L151.1 125.0 L153.1 128.2 L154.9 131.4 L156.5 134.6 L157.9 137.8 L159.1 141.0 L160.2 144.2 L161.2 147.4 L162.1 150.6 L163.0 153.9 L163.9 157.1 L164.7 160.3 L165.5 163.5 L166.3 166.7 L167.0 169.9 L167.7 173.1 L168.3 176.3 L168.9 179.5 L169.5 182.7 L170.0 185.9 L170.6 189.1 L171.0 192.3 L171.5 195.5 L171.9 198.7 L172.2 201.9 L172.6 205.2 L172.9 208.4 L173.2 211.6 L173.5 214.8 L173.7 218.0 L173.9 221.2 L174.1 224.4 L174.3 227.6 L174.4 230.8 L174.6 234.0 L174.7 237.2 L174.8 240.4 L175.0 243.6 L175.1 246.8 L175.1 250.0 L175.2 253.2 L175.3 256.4 L175.4 259.7 L175.5 262.9 L175.6 266.1 L175.6 269.3 L175.7 272.5 L175.7 275.7 L175.8 278.9 L175.8 282.1 L175.9 285.3" fill="none" stroke="#000" stroke-width="2.6" stroke-linejoin="round" stroke-linecap="round"/>
</g>
<g stroke="#111" stroke-width="1.3" fill="none">
<rect x="59.3" y="35.1" width="250.3" height="250.2"/>
<line x1="59.3" y1="35.1" x2="59.3" y2="29.1"/>
<line x1="59.3" y1="285.3" x2="59.3" y2="291.3"/>
<line x1="66.5" y1="35.1" x2="66.5" y2="31.8"/>
<line x1="66.5" y1="285.3" x2="66.5" y2="288.6"/>
<line x1="73.6" y1="35.1" x2="73.6" y2="31.8"/>
<line x1="73.6" y1="285.3" x2="73.6" y2="288.6"/>
<line x1="80.8" y1="35.1" x2="80.8" y2="31.8"/>
<line x1="80.8" y1="285.3" x2="80.8" y2="288.6"/>
<line x1="87.9" y1="35.1" x2="87.9" y2="31.8"/>
<line x1="87.9" y1="285.3" x2="87.9" y2="288.6"/>
<line x1="95.1" y1="35.1" x2="95.1" y2="29.1"/>
<line x1="95.1" y1="285.3" x2="95.1" y2="291.3"/>
<line x1="102.2" y1="35.1" x2="102.2" y2="31.8"/>
<line x1="102.2" y1="285.3" x2="102.2" y2="288.6"/>
<line x1="109.4" y1="35.1" x2="109.4" y2="31.8"/>
<line x1="109.4" y1="285.3" x2="109.4" y2="288.6"/>
<line x1="116.5" y1="35.1" x2="116.5" y2="31.8"/>
<line x1="116.5" y1="285.3" x2="116.5" y2="288.6"/>
<line x1="123.7" y1="35.1" x2="123.7" y2="31.8"/>
<line x1="123.7" y1="285.3" x2="123.7" y2="288.6"/>
<line x1="130.8" y1="35.1" x2="130.8" y2="29.1"/>
<line x1="130.8" y1="285.3" x2="130.8" y2="291.3"/>
<line x1="138.0" y1="35.1" x2="138.0" y2="31.8"/>
<line x1="138.0" y1="285.3" x2="138.0" y2="288.6"/>
<line x1="145.1" y1="35.1" x2="145.1" y2="31.8"/>
<line x1="145.1" y1="285.3" x2="145.1" y2="288.6"/>
<line x1="152.3" y1="35.1" x2="152.3" y2="31.8"/>
<line x1="152.3" y1="285.3" x2="152.3" y2="288.6"/>
<line x1="159.4" y1="35.1" x2="159.4" y2="31.8"/>
<line x1="159.4" y1="285.3" x2="159.4" y2="288.6"/>
<line x1="166.6" y1="35.1" x2="166.6" y2="29.1"/>
<line x1="166.6" y1="285.3" x2="166.6" y2="291.3"/>
<line x1="173.7" y1="35.1" x2="173.7" y2="31.8"/>
<line x1="173.7" y1="285.3" x2="173.7" y2="288.6"/>
<line x1="180.9" y1="35.1" x2="180.9" y2="31.8"/>
<line x1="180.9" y1="285.3" x2="180.9" y2="288.6"/>
<line x1="188.0" y1="35.1" x2="188.0" y2="31.8"/>
<line x1="188.0" y1="285.3" x2="188.0" y2="288.6"/>
<line x1="195.2" y1="35.1" x2="195.2" y2="31.8"/>
<line x1="195.2" y1="285.3" x2="195.2" y2="288.6"/>
<line x1="202.3" y1="35.1" x2="202.3" y2="29.1"/>
<line x1="202.3" y1="285.3" x2="202.3" y2="291.3"/>
<line x1="209.5" y1="35.1" x2="209.5" y2="31.8"/>
<line x1="209.5" y1="285.3" x2="209.5" y2="288.6"/>
<line x1="216.6" y1="35.1" x2="216.6" y2="31.8"/>
<line x1="216.6" y1="285.3" x2="216.6" y2="288.6"/>
<line x1="223.8" y1="35.1" x2="223.8" y2="31.8"/>
<line x1="223.8" y1="285.3" x2="223.8" y2="288.6"/>
<line x1="230.9" y1="35.1" x2="230.9" y2="31.8"/>
<line x1="230.9" y1="285.3" x2="230.9" y2="288.6"/>
<line x1="238.1" y1="35.1" x2="238.1" y2="29.1"/>
<line x1="238.1" y1="285.3" x2="238.1" y2="291.3"/>
<line x1="245.2" y1="35.1" x2="245.2" y2="31.8"/>
<line x1="245.2" y1="285.3" x2="245.2" y2="288.6"/>
<line x1="252.4" y1="35.1" x2="252.4" y2="31.8"/>
<line x1="252.4" y1="285.3" x2="252.4" y2="288.6"/>
<line x1="259.5" y1="35.1" x2="259.5" y2="31.8"/>
<line x1="259.5" y1="285.3" x2="259.5" y2="288.6"/>
<line x1="266.7" y1="35.1" x2="266.7" y2="31.8"/>
<line x1="266.7" y1="285.3" x2="266.7" y2="288.6"/>
<line x1="273.8" y1="35.1" x2="273.8" y2="29.1"/>
<line x1="273.8" y1="285.3" x2="273.8" y2="291.3"/>
<line x1="281.0" y1="35.1" x2="281.0" y2="31.8"/>
<line x1="281.0" y1="285.3" x2="281.0" y2="288.6"/>
<line x1="288.1" y1="35.1" x2="288.1" y2="31.8"/>
<line x1="288.1" y1="285.3" x2="288.1" y2="288.6"/>
<line x1="295.3" y1="35.1" x2="295.3" y2="31.8"/>
<line x1="295.3" y1="285.3" x2="295.3" y2="288.6"/>
<line x1="302.4" y1="35.1" x2="302.4" y2="31.8"/>
<line x1="302.4" y1="285.3" x2="302.4" y2="288.6"/>
<line x1="309.6" y1="35.1" x2="309.6" y2="29.1"/>
<line x1="309.6" y1="285.3" x2="309.6" y2="291.3"/>
<line x1="59.3" y1="35.1" x2="52.8" y2="35.1"/>
<line x1="309.6" y1="35.1" x2="316.1" y2="35.1"/>
<line x1="59.3" y1="45.1" x2="56.0" y2="45.1"/>
<line x1="309.6" y1="45.1" x2="312.90000000000003" y2="45.1"/>
<line x1="59.3" y1="55.1" x2="56.0" y2="55.1"/>
<line x1="309.6" y1="55.1" x2="312.90000000000003" y2="55.1"/>
<line x1="59.3" y1="65.1" x2="56.0" y2="65.1"/>
<line x1="309.6" y1="65.1" x2="312.90000000000003" y2="65.1"/>
<line x1="59.3" y1="75.1" x2="56.0" y2="75.1"/>
<line x1="309.6" y1="75.1" x2="312.90000000000003" y2="75.1"/>
<line x1="59.3" y1="85.1" x2="52.8" y2="85.1"/>
<line x1="309.6" y1="85.1" x2="316.1" y2="85.1"/>
<line x1="59.3" y1="95.1" x2="56.0" y2="95.1"/>
<line x1="309.6" y1="95.1" x2="312.90000000000003" y2="95.1"/>
<line x1="59.3" y1="105.2" x2="56.0" y2="105.2"/>
<line x1="309.6" y1="105.2" x2="312.90000000000003" y2="105.2"/>
<line x1="59.3" y1="115.2" x2="56.0" y2="115.2"/>
<line x1="309.6" y1="115.2" x2="312.90000000000003" y2="115.2"/>
<line x1="59.3" y1="125.2" x2="56.0" y2="125.2"/>
<line x1="309.6" y1="125.2" x2="312.90000000000003" y2="125.2"/>
<line x1="59.3" y1="135.2" x2="52.8" y2="135.2"/>
<line x1="309.6" y1="135.2" x2="316.1" y2="135.2"/>
<line x1="59.3" y1="145.2" x2="56.0" y2="145.2"/>
<line x1="309.6" y1="145.2" x2="312.90000000000003" y2="145.2"/>
<line x1="59.3" y1="155.2" x2="56.0" y2="155.2"/>
<line x1="309.6" y1="155.2" x2="312.90000000000003" y2="155.2"/>
<line x1="59.3" y1="165.2" x2="56.0" y2="165.2"/>
<line x1="309.6" y1="165.2" x2="312.90000000000003" y2="165.2"/>
<line x1="59.3" y1="175.2" x2="56.0" y2="175.2"/>
<line x1="309.6" y1="175.2" x2="312.90000000000003" y2="175.2"/>
<line x1="59.3" y1="185.2" x2="52.8" y2="185.2"/>
<line x1="309.6" y1="185.2" x2="316.1" y2="185.2"/>
<line x1="59.3" y1="195.2" x2="56.0" y2="195.2"/>
<line x1="309.6" y1="195.2" x2="312.90000000000003" y2="195.2"/>
<line x1="59.3" y1="205.2" x2="56.0" y2="205.2"/>
<line x1="309.6" y1="205.2" x2="312.90000000000003" y2="205.2"/>
<line x1="59.3" y1="215.2" x2="56.0" y2="215.2"/>
<line x1="309.6" y1="215.2" x2="312.90000000000003" y2="215.2"/>
<line x1="59.3" y1="225.3" x2="56.0" y2="225.3"/>
<line x1="309.6" y1="225.3" x2="312.90000000000003" y2="225.3"/>
<line x1="59.3" y1="235.3" x2="52.8" y2="235.3"/>
<line x1="309.6" y1="235.3" x2="316.1" y2="235.3"/>
<line x1="59.3" y1="245.3" x2="56.0" y2="245.3"/>
<line x1="309.6" y1="245.3" x2="312.90000000000003" y2="245.3"/>
<line x1="59.3" y1="255.3" x2="56.0" y2="255.3"/>
<line x1="309.6" y1="255.3" x2="312.90000000000003" y2="255.3"/>
<line x1="59.3" y1="265.3" x2="56.0" y2="265.3"/>
<line x1="309.6" y1="265.3" x2="312.90000000000003" y2="265.3"/>
<line x1="59.3" y1="275.3" x2="56.0" y2="275.3"/>
<line x1="309.6" y1="275.3" x2="312.90000000000003" y2="275.3"/>
<line x1="59.3" y1="285.3" x2="52.8" y2="285.3"/>
<line x1="309.6" y1="285.3" x2="316.1" y2="285.3"/>
</g>
<g font-family='"Liberation Sans", sans-serif' font-size="14" fill="#111">
<text x="59.3" y="308.3" text-anchor="middle">−2</text>
<text x="95.1" y="308.3" text-anchor="middle">−1</text>
<text x="130.8" y="308.3" text-anchor="middle">0</text>
<text x="166.6" y="308.3" text-anchor="middle">1</text>
<text x="202.3" y="308.3" text-anchor="middle">2</text>
<text x="238.1" y="308.3" text-anchor="middle">3</text>
<text x="273.8" y="308.3" text-anchor="middle">4</text>
<text x="309.6" y="308.3" text-anchor="middle">5</text>
<text x="46.8" y="39.9" text-anchor="end">0</text>
<text x="46.8" y="89.9" text-anchor="end">100</text>
<text x="46.8" y="140.0" text-anchor="end">200</text>
<text x="46.8" y="190.0" text-anchor="end">300</text>
<text x="46.8" y="240.1" text-anchor="end">400</text>
<text x="46.8" y="290.1" text-anchor="end">500</text>
</g>
<clipPath id="clipb"><rect x="59.3" y="386.3" width="250.3" height="249.9"/></clipPath>
<g clip-path="url(#clipb)">
<path d="M75.4 388.8 L75.4 390.0 L75.4 391.3 L75.4 392.5 L75.5 393.8 L75.5 395.0 L75.6 396.3 L75.6 397.5 L75.7 398.8 L75.7 400.0 L75.8 401.3 L75.9 402.5 L76.0 403.8 L76.1 405.0 L76.2 406.3 L76.3 407.5 L76.4 408.8 L76.5 410.0 L76.7 411.3 L76.8 412.5 L76.9 413.8 L77.0 415.0 L77.2 416.3 L77.3 417.5 L77.5 418.8 L77.8 420.0 L78.1 421.3 L78.4 422.5 L78.7 423.8 L79.1 425.0 L79.4 426.3 L79.8 427.5 L80.2 428.8 L80.6 430.0 L81.0 431.3 L81.3 432.5 L81.7 433.8 L82.2 435.0 L82.6 436.3 L83.1 437.5 L83.5 438.8 L84.0 440.0 L84.5 441.3 L85.1 442.5 L85.6 443.8 L86.1 445.0 L86.6 446.3 L87.1 447.5 L87.7 448.8 L88.2 450.0 L88.7 451.3 L89.1 452.5 L89.6 453.8 L90.0 455.0 L90.5 456.3 L90.9 457.5 L91.2 458.8 L91.6 460.0 L91.9 461.3 L92.2 462.8 L92.9 466.5 L93.5 470.1 L94.1 473.8 L94.7 477.5 L95.2 481.2 L95.6 484.9 L96.1 488.6 L96.5 492.3 L96.9 496.0 L97.3 499.7 L97.6 503.4 L97.9 507.0 L98.3 510.7 L98.6 514.4 L98.9 518.1 L99.2 521.8 L99.4 525.5 L99.7 529.2 L99.9 532.9 L100.2 536.6 L100.4 540.3 L100.6 543.9 L100.8 547.6 L101.0 551.3 L101.2 555.0 L101.5 558.7 L101.7 562.4 L101.9 566.1 L102.1 569.8 L102.4 573.5 L102.6 577.2 L102.9 580.8 L103.2 584.5 L103.5 588.2 L103.7 591.9 L104.0 595.6 L104.3 599.3 L104.6 603.0 L105.0 606.7 L105.3 610.4 L105.6 614.1 L105.9 617.7 L106.2 621.4 L106.6 625.1 L106.9 628.8 L107.2 632.5 L107.6 636.2" fill="none" stroke="#60d860" stroke-width="0.75" stroke-opacity="0.8" stroke-dasharray="4 2"/>
<path d="M77.2 388.8 L77.2 390.0 L77.2 391.3 L77.2 392.5 L77.2 393.8 L77.3 395.0 L77.3 396.3 L77.4 397.5 L77.4 398.8 L77.5 400.0 L77.6 401.3 L77.6 402.5 L77.7 403.8 L77.8 405.0 L77.9 406.3 L78.0 407.5 L78.2 408.8 L78.3 410.0 L78.4 411.3 L78.5 412.5 L78.7 413.8 L78.8 415.0 L79.0 416.3 L79.2 417.5 L79.5 418.8 L80.0 420.0 L80.6 421.3 L81.2 422.5 L82.0 423.8 L82.8 425.0 L83.7 426.3 L84.6 427.5 L85.6 428.8 L86.6 430.0 L87.6 431.3 L88.6 432.5 L89.6 433.8 L90.5 435.0 L91.5 436.3 L92.5 437.5 L93.5 438.8 L94.6 440.0 L95.8 441.3 L97.1 442.5 L98.3 443.8 L99.6 445.0 L100.9 446.3 L102.2 447.5 L103.4 448.8 L104.6 450.0 L105.7 451.3 L106.8 452.5 L107.7 453.8 L108.6 455.0 L109.4 456.3 L110.0 457.5 L110.7 458.8 L111.4 460.0 L112.0 461.3 L112.8 462.8 L114.6 466.5 L116.2 470.1 L117.5 473.8 L118.4 477.5 L119.0 481.2 L119.3 484.9 L119.6 488.6 L119.9 492.3 L120.1 496.0 L120.3 499.7 L120.4 503.4 L120.6 507.0 L120.7 510.7 L120.8 514.4 L120.8 518.1 L120.9 521.8 L121.0 525.5 L121.1 529.2 L121.1 532.9 L121.2 536.6 L121.3 540.3 L121.4 543.9 L121.4 547.6 L121.5 551.3 L121.5 555.0 L121.6 558.7 L121.7 562.4 L121.7 566.1 L121.8 569.8 L121.8 573.5 L121.9 577.2 L121.9 580.8 L121.9 584.5 L122.0 588.2 L122.0 591.9 L122.1 595.6 L122.1 599.3 L122.1 603.0 L122.1 606.7 L122.2 610.4 L122.2 614.1 L122.2 617.7 L122.2 621.4 L122.2 625.1 L122.2 628.8 L122.2 632.5 L122.2 636.2" fill="none" stroke="#3090e8" stroke-width="0.75" stroke-opacity="0.8"/>
<path d="M75.4 388.8 L75.4 390.0 L75.4 391.3 L75.4 392.5 L75.4 393.8 L75.5 395.0 L75.5 396.3 L75.5 397.5 L75.6 398.8 L75.6 400.0 L75.7 401.3 L75.7 402.5 L75.8 403.8 L75.9 405.0 L75.9 406.3 L76.0 407.5 L76.1 408.8 L76.2 410.0 L76.3 411.3 L76.4 412.5 L76.5 413.8 L76.6 415.0 L76.7 416.3 L76.8 417.5 L76.9 418.8 L77.0 420.0 L77.2 421.3 L77.4 422.5 L77.7 423.8 L78.0 425.0 L78.5 426.3 L79.0 427.5 L79.7 428.8 L80.3 430.0 L81.1 431.3 L81.8 432.5 L82.7 433.8 L83.5 435.0 L84.4 436.3 L85.3 437.5 L86.1 438.8 L87.0 440.0 L87.9 441.3 L88.8 442.5 L89.9 443.8 L91.1 445.0 L92.3 446.3 L93.6 447.5 L95.0 448.8 L96.4 450.0 L97.9 451.3 L99.3 452.5 L100.8 453.8 L102.2 455.0 L103.6 456.3 L104.9 457.5 L106.1 458.8 L107.2 460.0 L108.3 461.3 L109.4 462.8 L111.7 466.5 L113.7 470.1 L115.6 473.8 L117.4 477.5 L118.9 481.2 L120.3 484.9 L121.6 488.6 L122.8 492.3 L124.0 496.0 L125.1 499.7 L126.2 503.4 L127.1 507.0 L128.0 510.7 L128.7 514.4 L129.2 518.1 L129.7 521.8 L130.1 525.5 L130.4 529.2 L130.8 532.9 L131.1 536.6 L131.4 540.3 L131.6 543.9 L131.9 547.6 L132.1 551.3 L132.3 555.0 L132.5 558.7 L132.7 562.4 L132.9 566.1 L133.1 569.8 L133.3 573.5 L133.5 577.2 L133.7 580.8 L133.8 584.5 L134.0 588.2 L134.2 591.9 L134.4 595.6 L134.5 599.3 L134.7 603.0 L134.8 606.7 L135.0 610.4 L135.1 614.1 L135.3 617.7 L135.4 621.4 L135.5 625.1 L135.6 628.8 L135.7 632.5 L135.8 636.2" fill="none" stroke="#2a7a2a" stroke-width="0.75" stroke-opacity="0.8"/>
<path d="M84.3 388.8 L84.3 390.0 L84.4 391.3 L84.5 392.5 L84.6 393.8 L84.7 395.0 L84.9 396.3 L85.0 397.5 L85.3 398.8 L85.5 400.0 L85.8 401.3 L86.1 402.5 L86.4 403.8 L86.7 405.0 L87.1 406.3 L87.5 407.5 L87.9 408.8 L88.6 410.0 L89.9 411.3 L91.6 412.5 L93.6 413.8 L96.0 415.0 L98.5 416.3 L101.2 417.5 L104.0 418.8 L106.7 420.0 L109.4 421.3 L112.2 422.5 L115.3 423.8 L118.8 425.0 L122.4 426.3 L126.0 427.5 L129.6 428.8 L133.1 430.0 L136.3 431.3 L139.2 432.5 L141.5 433.8 L143.6 435.0 L145.5 436.3 L147.3 437.5 L149.1 438.8 L150.7 440.0 L152.2 441.3 L153.7 442.5 L155.1 443.8 L156.5 445.0 L157.8 446.3 L159.2 447.5 L160.4 448.8 L161.7 450.0 L163.0 451.3 L164.3 452.5 L165.5 453.8 L166.7 455.0 L167.9 456.3 L169.1 457.5 L170.3 458.8 L171.4 460.0 L172.5 461.3 L173.8 462.8 L176.9 466.5 L179.9 470.1 L182.7 473.8 L185.4 477.5 L188.0 481.2 L190.5 484.9 L192.9 488.6 L195.0 492.3 L197.1 496.0 L199.0 499.7 L200.9 503.4 L202.7 507.0 L204.5 510.7 L206.1 514.4 L207.7 518.1 L209.2 521.8 L210.6 525.5 L211.9 529.2 L213.1 532.9 L214.2 536.6 L215.3 540.3 L216.3 543.9 L217.3 547.6 L218.2 551.3 L219.2 555.0 L220.0 558.7 L220.8 562.4 L221.6 566.1 L222.2 569.8 L222.9 573.5 L223.4 577.2 L223.9 580.8 L224.4 584.5 L224.9 588.2 L225.3 591.9 L225.8 595.6 L226.2 599.3 L226.6 603.0 L227.0 606.7 L227.3 610.4 L227.7 614.1 L228.0 617.7 L228.2 621.4 L228.4 625.1 L228.6 628.8 L228.7 632.5 L228.8 636.2" fill="none" stroke="#30c830" stroke-width="0.75" stroke-opacity="0.8"/>
<path d="M98.6 388.8 L98.6 390.0 L98.7 391.3 L98.7 392.5 L98.7 393.8 L98.8 395.0 L98.9 396.3 L99.0 397.5 L99.1 398.8 L99.2 400.0 L99.3 401.3 L99.5 402.5 L99.7 403.8 L99.8 405.0 L100.0 406.3 L100.2 407.5 L100.4 408.8 L100.9 410.0 L101.8 411.3 L103.2 412.5 L104.9 413.8 L107.0 415.0 L109.3 416.3 L111.8 417.5 L114.5 418.8 L117.2 420.0 L120.1 421.3 L122.9 422.5 L125.6 423.8 L128.3 425.0 L130.8 426.3 L133.3 427.5 L136.0 428.8 L138.8 430.0 L141.8 431.3 L144.7 432.5 L147.7 433.8 L150.6 435.0 L153.4 436.3 L156.1 437.5 L158.7 438.8 L161.0 440.0 L163.0 441.3 L164.9 442.5 L166.7 443.8 L168.4 445.0 L170.1 446.3 L171.7 447.5 L173.2 448.8 L174.7 450.0 L176.1 451.3 L177.5 452.5 L178.8 453.8 L180.0 455.0 L181.2 456.3 L182.3 457.5 L183.3 458.8 L184.3 460.0 L185.3 461.3 L186.3 462.8 L188.9 466.5 L191.1 470.1 L193.2 473.8 L195.1 477.5 L196.8 481.2 L198.5 484.9 L200.0 488.6 L201.4 492.3 L202.8 496.0 L204.1 499.7 L205.3 503.4 L206.4 507.0 L207.5 510.7 L208.6 514.4 L209.6 518.1 L210.6 521.8 L211.5 525.5 L212.5 529.2 L213.4 532.9 L214.3 536.6 L215.2 540.3 L216.1 543.9 L216.9 547.6 L217.6 551.3 L218.4 555.0 L219.1 558.7 L219.8 562.4 L220.4 566.1 L220.9 569.8 L221.5 573.5 L222.0 577.2 L222.5 580.8 L223.0 584.5 L223.5 588.2 L224.0 591.9 L224.5 595.6 L224.9 599.3 L225.3 603.0 L225.8 606.7 L226.1 610.4 L226.5 614.1 L226.8 617.7 L227.1 621.4 L227.4 625.1 L227.7 628.8 L227.9 632.5 L228.1 636.2" fill="none" stroke="#20c0c8" stroke-width="0.75" stroke-opacity="0.8" stroke-dasharray="4 2"/>
<path d="M161.9 388.8 L161.9 390.0 L161.9 391.3 L161.9 392.5 L161.9 393.8 L161.9 395.0 L161.9 396.3 L161.9 397.5 L161.9 398.8 L162.0 400.0 L162.0 401.3 L162.1 402.5 L162.3 403.8 L162.6 405.0 L163.1 406.3 L163.8 407.5 L164.6 408.8 L165.7 410.0 L167.0 411.3 L168.4 412.5 L170.1 413.8 L171.8 415.0 L173.7 416.3 L175.5 417.5 L177.5 418.8 L179.4 420.0 L181.2 421.3 L183.0 422.5 L184.7 423.8 L186.4 425.0 L187.9 426.3 L189.3 427.5 L190.5 428.8 L191.7 430.0 L192.8 431.3 L193.7 432.5 L194.6 433.8 L195.3 435.0 L196.0 436.3 L196.6 437.5 L197.1 438.8 L197.6 440.0 L198.0 441.3 L198.3 442.5 L198.6 443.8 L198.9 445.0 L199.1 446.3 L199.3 447.5 L199.5 448.8 L199.7 450.0 L199.8 451.3 L199.9 452.5 L200.0 453.8 L200.1 455.0 L200.1 456.3 L200.2 457.5 L200.2 458.8 L200.3 460.0 L200.3 461.3 L200.4 462.8 L200.4 466.5 L200.5 470.1 L200.5 473.8 L200.5 477.5 L200.5 481.2 L200.5 484.9 L200.5 488.6 L200.5 492.3 L200.5 496.0 L200.5 499.7 L200.5 503.4 L200.5 507.0 L200.5 510.7 L200.5 514.4 L200.5 518.1 L200.5 521.8 L200.5 525.5 L200.5 529.2 L200.5 532.9 L200.5 536.6 L200.5 540.3 L200.5 543.9 L200.5 547.6 L200.5 551.3 L200.5 555.0 L200.5 558.7 L200.5 562.4 L200.5 566.1 L200.5 569.8 L200.5 573.5 L200.5 577.2 L200.5 580.8 L200.5 584.5 L200.5 588.2 L200.5 591.9 L200.5 595.6 L200.5 599.3 L200.5 603.0 L200.5 606.7 L200.5 610.4 L200.5 614.1 L200.5 617.7 L200.5 621.4 L200.5 625.1 L200.5 628.8 L200.5 632.5 L200.5 636.2" fill="none" stroke="#2030d8" stroke-width="0.75" stroke-opacity="0.8" stroke-dasharray="1.2 1.8"/>
<path d="M143.7 388.8 L143.7 390.0 L143.7 391.3 L143.7 392.5 L143.7 393.8 L143.7 395.0 L143.7 396.3 L143.7 397.5 L143.7 398.8 L143.7 400.0 L143.8 401.3 L143.8 402.5 L144.0 403.8 L144.2 405.0 L144.4 406.3 L144.8 407.5 L145.3 408.8 L146.0 410.0 L146.8 411.3 L147.7 412.5 L148.8 413.8 L150.0 415.0 L151.3 416.3 L152.8 417.5 L154.3 418.8 L155.9 420.0 L157.6 421.3 L159.2 422.5 L161.0 423.8 L162.7 425.0 L164.3 426.3 L166.0 427.5 L167.6 428.8 L169.2 430.0 L170.8 431.3 L172.2 432.5 L173.6 433.8 L174.9 435.0 L176.2 436.3 L177.4 437.5 L178.5 438.8 L179.6 440.0 L180.5 441.3 L181.5 442.5 L182.3 443.8 L183.1 445.0 L183.8 446.3 L184.5 447.5 L185.1 448.8 L185.7 450.0 L186.2 451.3 L186.7 452.5 L187.1 453.8 L187.5 455.0 L187.9 456.3 L188.3 457.5 L188.6 458.8 L188.8 460.0 L189.1 461.3 L189.4 462.8 L189.9 466.5 L190.4 470.1 L190.7 473.8 L190.9 477.5 L191.1 481.2 L191.2 484.9 L191.3 488.6 L191.4 492.3 L191.4 496.0 L191.5 499.7 L191.5 503.4 L191.5 507.0 L191.6 510.7 L191.6 514.4 L191.6 518.1 L191.6 521.8 L191.6 525.5 L191.6 529.2 L191.6 532.9 L191.6 536.6 L191.6 540.3 L191.6 543.9 L191.6 547.6 L191.6 551.3 L191.6 555.0 L191.6 558.7 L191.6 562.4 L191.6 566.1 L191.6 569.8 L191.6 573.5 L191.6 577.2 L191.6 580.8 L191.6 584.5 L191.6 588.2 L191.6 591.9 L191.6 595.6 L191.6 599.3 L191.6 603.0 L191.6 606.7 L191.6 610.4 L191.6 614.1 L191.6 617.7 L191.6 621.4 L191.6 625.1 L191.6 628.8 L191.6 632.5 L191.6 636.2" fill="none" stroke="#e02030" stroke-width="0.75" stroke-opacity="0.8" stroke-dasharray="1.2 1.8"/>
<path d="M133.0 388.8 L133.0 390.0 L133.0 391.3 L133.0 392.5 L133.0 393.8 L133.0 395.0 L133.0 396.3 L133.0 397.5 L133.0 398.8 L133.0 400.0 L133.0 401.3 L133.0 402.5 L133.1 403.8 L133.2 405.0 L133.4 406.3 L133.7 407.5 L134.1 408.8 L134.5 410.0 L135.1 411.3 L135.8 412.5 L136.6 413.8 L137.6 415.0 L138.6 416.3 L139.8 417.5 L141.1 418.8 L142.4 420.0 L143.9 421.3 L145.3 422.5 L146.9 423.8 L148.4 425.0 L149.9 426.3 L151.5 427.5 L153.0 428.8 L154.5 430.0 L156.0 431.3 L157.5 432.5 L158.9 433.8 L160.2 435.0 L161.5 436.3 L162.7 437.5 L163.9 438.8 L165.0 440.0 L166.0 441.3 L167.0 442.5 L167.9 443.8 L168.8 445.0 L169.6 446.3 L170.4 447.5 L171.1 448.8 L171.7 450.0 L172.3 451.3 L172.9 452.5 L173.4 453.8 L173.9 455.0 L174.3 456.3 L174.7 457.5 L175.1 458.8 L175.4 460.0 L175.8 461.3 L176.1 462.8 L176.8 466.5 L177.4 470.1 L177.8 473.8 L178.1 477.5 L178.3 481.2 L178.5 484.9 L178.7 488.6 L178.8 492.3 L178.8 496.0 L178.9 499.7 L178.9 503.4 L179.0 507.0 L179.0 510.7 L179.0 514.4 L179.0 518.1 L179.0 521.8 L179.1 525.5 L179.1 529.2 L179.1 532.9 L179.1 536.6 L179.1 540.3 L179.1 543.9 L179.1 547.6 L179.1 551.3 L179.1 555.0 L179.1 558.7 L179.1 562.4 L179.1 566.1 L179.1 569.8 L179.1 573.5 L179.1 577.2 L179.1 580.8 L179.1 584.5 L179.1 588.2 L179.1 591.9 L179.1 595.6 L179.1 599.3 L179.1 603.0 L179.1 606.7 L179.1 610.4 L179.1 614.1 L179.1 617.7 L179.1 621.4 L179.1 625.1 L179.1 628.8 L179.1 632.5 L179.1 636.2" fill="none" stroke="#a040e0" stroke-width="0.75" stroke-opacity="0.8" stroke-dasharray="4 2"/>
<path d="M154.1 388.8 L154.1 390.0 L154.1 391.3 L154.1 392.5 L154.1 393.8 L154.1 395.0 L154.1 396.3 L154.1 397.5 L154.1 398.8 L154.1 400.0 L154.2 401.3 L154.3 402.5 L154.4 403.8 L154.6 405.0 L154.8 406.3 L155.1 407.5 L155.5 408.8 L155.9 410.0 L156.3 411.3 L156.8 412.5 L157.4 413.8 L157.9 415.0 L158.5 416.3 L159.1 417.5 L159.8 418.8 L160.4 420.0 L161.1 421.3 L161.7 422.5 L162.3 423.8 L162.9 425.0 L163.5 426.3 L164.1 427.5 L164.7 428.8 L165.2 430.0 L165.7 431.3 L166.2 432.5 L166.7 433.8 L167.1 435.0 L167.5 436.3 L167.9 437.5 L168.3 438.8 L168.6 440.0 L169.0 441.3 L169.3 442.5 L169.6 443.8 L169.8 445.0 L170.1 446.3 L170.3 447.5 L170.5 448.8 L170.7 450.0 L170.9 451.3 L171.0 452.5 L171.2 453.8 L171.3 455.0 L171.5 456.3 L171.6 457.5 L171.7 458.8 L171.8 460.0 L171.9 461.3 L172.0 462.8 L172.2 466.5 L172.4 470.1 L172.5 473.8 L172.6 477.5 L172.7 481.2 L172.8 484.9 L172.8 488.6 L172.9 492.3 L172.9 496.0 L172.9 499.7 L172.9 503.4 L173.0 507.0 L173.0 510.7 L173.0 514.4 L173.0 518.1 L173.0 521.8 L173.0 525.5 L173.0 529.2 L173.0 532.9 L173.0 536.6 L173.0 540.3 L173.0 543.9 L173.0 547.6 L173.0 551.3 L173.0 555.0 L173.0 558.7 L173.0 562.4 L173.0 566.1 L173.0 569.8 L173.0 573.5 L173.0 577.2 L173.0 580.8 L173.0 584.5 L173.0 588.2 L173.0 591.9 L173.0 595.6 L173.0 599.3 L173.0 603.0 L173.0 606.7 L173.0 610.4 L173.0 614.1 L173.0 617.7 L173.0 621.4 L173.0 625.1 L173.0 628.8 L173.0 632.5 L173.0 636.2" fill="none" stroke="#2030d8" stroke-width="0.75" stroke-opacity="0.8" stroke-dasharray="5 2 1.2 2"/>
<path d="M159.4 388.8 L159.4 390.0 L159.4 391.3 L159.4 392.5 L159.4 393.8 L159.4 395.0 L159.4 396.3 L159.4 397.5 L159.5 398.8 L159.6 400.0 L159.7 401.3 L159.8 402.5 L160.0 403.8 L160.3 405.0 L160.7 406.3 L161.1 407.5 L161.6 408.8 L162.1 410.0 L162.8 411.3 L163.4 412.5 L164.1 413.8 L164.9 415.0 L165.6 416.3 L166.4 417.5 L167.1 418.8 L167.9 420.0 L168.7 421.3 L169.4 422.5 L170.1 423.8 L170.8 425.0 L171.5 426.3 L172.2 427.5 L172.8 428.8 L173.4 430.0 L173.9 431.3 L174.4 432.5 L174.9 433.8 L175.4 435.0 L175.8 436.3 L176.2 437.5 L176.6 438.8 L176.9 440.0 L177.2 441.3 L177.5 442.5 L177.8 443.8 L178.1 445.0 L178.3 446.3 L178.5 447.5 L178.7 448.8 L178.9 450.0 L179.1 451.3 L179.2 452.5 L179.4 453.8 L179.5 455.0 L179.6 456.3 L179.7 457.5 L179.8 458.8 L179.9 460.0 L180.0 461.3 L180.1 462.8 L180.3 466.5 L180.4 470.1 L180.5 473.8 L180.6 477.5 L180.7 481.2 L180.7 484.9 L180.7 488.6 L180.8 492.3 L180.8 496.0 L180.8 499.7 L180.8 503.4 L180.8 507.0 L180.8 510.7 L180.9 514.4 L180.9 518.1 L180.9 521.8 L180.9 525.5 L180.9 529.2 L180.9 532.9 L180.9 536.6 L180.9 540.3 L180.9 543.9 L180.9 547.6 L180.9 551.3 L180.9 555.0 L180.9 558.7 L180.9 562.4 L180.9 566.1 L180.9 569.8 L180.9 573.5 L180.9 577.2 L180.9 580.8 L180.9 584.5 L180.9 588.2 L180.9 591.9 L180.9 595.6 L180.9 599.3 L180.9 603.0 L180.9 606.7 L180.9 610.4 L180.9 614.1 L180.9 617.7 L180.9 621.4 L180.9 625.1 L180.9 628.8 L180.9 632.5 L180.9 636.2" fill="none" stroke="#3090e8" stroke-width="0.75" stroke-opacity="0.8" stroke-dasharray="5 2 1.2 2"/>
<path d="M111.1 388.8 L111.1 390.0 L111.1 391.3 L111.2 392.5 L111.2 393.8 L111.2 395.0 L111.3 396.3 L111.5 397.5 L111.7 398.8 L112.1 400.0 L112.5 401.3 L113.1 402.5 L113.8 403.8 L114.6 405.0 L115.5 406.3 L116.5 407.5 L117.6 408.8 L118.7 410.0 L119.9 411.3 L121.1 412.5 L122.3 413.8 L123.6 415.0 L124.9 416.3 L126.1 417.5 L127.4 418.8 L128.6 420.0 L129.8 421.3 L130.9 422.5 L132.1 423.8 L133.2 425.0 L134.2 426.3 L135.2 427.5 L136.2 428.8 L137.1 430.0 L138.0 431.3 L138.9 432.5 L139.7 433.8 L140.4 435.0 L141.2 436.3 L141.9 437.5 L142.5 438.8 L143.1 440.0 L143.7 441.3 L144.3 442.5 L144.8 443.8 L145.3 445.0 L145.7 446.3 L146.2 447.5 L146.6 448.8 L147.0 450.0 L147.3 451.3 L147.7 452.5 L148.0 453.8 L148.3 455.0 L148.6 456.3 L148.8 457.5 L149.1 458.8 L149.3 460.0 L149.5 461.3 L149.8 462.8 L150.3 466.5 L150.7 470.1 L151.1 473.8 L151.4 477.5 L151.7 481.2 L151.9 484.9 L152.1 488.6 L152.2 492.3 L152.3 496.0 L152.4 499.7 L152.5 503.4 L152.6 507.0 L152.6 510.7 L152.7 514.4 L152.7 518.1 L152.8 521.8 L152.8 525.5 L152.8 529.2 L152.9 532.9 L152.9 536.6 L152.9 540.3 L152.9 543.9 L152.9 547.6 L152.9 551.3 L152.9 555.0 L152.9 558.7 L152.9 562.4 L153.0 566.1 L153.0 569.8 L153.0 573.5 L153.0 577.2 L153.0 580.8 L153.0 584.5 L153.0 588.2 L153.0 591.9 L153.0 595.6 L153.0 599.3 L153.0 603.0 L153.0 606.7 L153.0 610.4 L153.0 614.1 L153.0 617.7 L153.0 621.4 L153.0 625.1 L153.0 628.8 L153.0 632.5 L153.0 636.2" fill="none" stroke="#f060b0" stroke-width="0.75" stroke-opacity="0.8" stroke-dasharray="4 2"/>
<path d="M105.8 388.8 L105.8 390.0 L105.8 391.3 L105.8 392.5 L105.8 393.8 L105.9 395.0 L106.0 396.3 L106.3 397.5 L106.7 398.8 L107.4 400.0 L108.4 401.3 L109.6 402.5 L111.1 403.8 L112.9 405.0 L115.0 406.3 L117.4 407.5 L119.9 408.8 L122.6 410.0 L125.5 411.3 L128.4 412.5 L131.4 413.8 L134.4 415.0 L137.5 416.3 L140.4 417.5 L143.4 418.8 L146.3 420.0 L149.1 421.3 L151.7 422.5 L154.3 423.8 L156.8 425.0 L159.1 426.3 L161.4 427.5 L163.5 428.8 L165.5 430.0 L167.4 431.3 L169.1 432.5 L170.8 433.8 L172.3 435.0 L173.8 436.3 L175.2 437.5 L176.4 438.8 L177.6 440.0 L178.7 441.3 L179.7 442.5 L180.6 443.8 L181.5 445.0 L182.3 446.3 L183.1 447.5 L183.8 448.8 L184.4 450.0 L185.0 451.3 L185.6 452.5 L186.1 453.8 L186.5 455.0 L187.0 456.3 L187.4 457.5 L187.7 458.8 L188.1 460.0 L188.4 461.3 L188.8 462.8 L189.5 466.5 L190.1 470.1 L190.5 473.8 L190.9 477.5 L191.2 481.2 L191.4 484.9 L191.6 488.6 L191.7 492.3 L191.8 496.0 L191.9 499.7 L192.0 503.4 L192.1 507.0 L192.1 510.7 L192.1 514.4 L192.2 518.1 L192.2 521.8 L192.2 525.5 L192.2 529.2 L192.3 532.9 L192.3 536.6 L192.3 540.3 L192.3 543.9 L192.3 547.6 L192.3 551.3 L192.3 555.0 L192.3 558.7 L192.3 562.4 L192.3 566.1 L192.3 569.8 L192.3 573.5 L192.3 577.2 L192.3 580.8 L192.3 584.5 L192.3 588.2 L192.3 591.9 L192.3 595.6 L192.3 599.3 L192.3 603.0 L192.3 606.7 L192.3 610.4 L192.3 614.1 L192.3 617.7 L192.3 621.4 L192.3 625.1 L192.3 628.8 L192.3 632.5 L192.3 636.2" fill="none" stroke="#e02030" stroke-width="0.75" stroke-opacity="0.8" stroke-dasharray="4 2"/>
<path d="M102.2 388.8 L102.2 390.0 L102.2 391.3 L102.2 392.5 L102.2 393.8 L102.3 395.0 L102.4 396.3 L102.5 397.5 L102.8 398.8 L103.2 400.0 L103.6 401.3 L104.3 402.5 L105.0 403.8 L105.9 405.0 L107.0 406.3 L108.1 407.5 L109.4 408.8 L110.8 410.0 L112.2 411.3 L113.7 412.5 L115.3 413.8 L116.9 415.0 L118.5 416.3 L120.1 417.5 L121.7 418.8 L123.3 420.0 L124.9 421.3 L126.5 422.5 L128.0 423.8 L129.5 425.0 L131.0 426.3 L132.4 427.5 L133.8 428.8 L135.1 430.0 L136.4 431.3 L137.6 432.5 L138.7 433.8 L139.9 435.0 L140.9 436.3 L141.9 437.5 L142.9 438.8 L143.8 440.0 L144.7 441.3 L145.5 442.5 L146.3 443.8 L147.1 445.0 L147.8 446.3 L148.4 447.5 L149.1 448.8 L149.7 450.0 L150.2 451.3 L150.8 452.5 L151.3 453.8 L151.8 455.0 L152.2 456.3 L152.6 457.5 L153.0 458.8 L153.4 460.0 L153.8 461.3 L154.2 462.8 L155.1 466.5 L155.8 470.1 L156.4 473.8 L156.9 477.5 L157.4 481.2 L157.7 484.9 L158.0 488.6 L158.3 492.3 L158.5 496.0 L158.7 499.7 L158.9 503.4 L159.0 507.0 L159.1 510.7 L159.2 514.4 L159.3 518.1 L159.4 521.8 L159.4 525.5 L159.5 529.2 L159.5 532.9 L159.6 536.6 L159.6 540.3 L159.6 543.9 L159.6 547.6 L159.7 551.3 L159.7 555.0 L159.7 558.7 L159.7 562.4 L159.7 566.1 L159.7 569.8 L159.7 573.5 L159.7 577.2 L159.7 580.8 L159.7 584.5 L159.8 588.2 L159.8 591.9 L159.8 595.6 L159.8 599.3 L159.8 603.0 L159.8 606.7 L159.8 610.4 L159.8 614.1 L159.8 617.7 L159.8 621.4 L159.8 625.1 L159.8 628.8 L159.8 632.5 L159.8 636.2" fill="none" stroke="#d030b0" stroke-width="0.75" stroke-opacity="0.8" stroke-dasharray="4 2"/>
<path d="M98.6 388.8 L98.6 390.0 L98.6 391.3 L98.6 392.5 L98.7 393.8 L98.8 395.0 L98.9 396.3 L99.2 397.5 L99.6 398.8 L100.2 400.0 L100.9 401.3 L101.8 402.5 L103.0 403.8 L104.3 405.0 L105.7 406.3 L107.3 407.5 L109.1 408.8 L110.9 410.0 L112.8 411.3 L114.8 412.5 L116.8 413.8 L118.9 415.0 L120.9 416.3 L122.9 417.5 L125.0 418.8 L126.9 420.0 L128.9 421.3 L130.8 422.5 L132.6 423.8 L134.4 425.0 L136.1 426.3 L137.7 427.5 L139.3 428.8 L140.8 430.0 L142.3 431.3 L143.6 432.5 L145.0 433.8 L146.2 435.0 L147.4 436.3 L148.5 437.5 L149.6 438.8 L150.6 440.0 L151.5 441.3 L152.4 442.5 L153.2 443.8 L154.0 445.0 L154.8 446.3 L155.5 447.5 L156.1 448.8 L156.8 450.0 L157.4 451.3 L157.9 452.5 L158.4 453.8 L158.9 455.0 L159.4 456.3 L159.8 457.5 L160.2 458.8 L160.6 460.0 L160.9 461.3 L161.3 462.8 L162.2 466.5 L162.9 470.1 L163.5 473.8 L164.0 477.5 L164.4 481.2 L164.8 484.9 L165.1 488.6 L165.3 492.3 L165.5 496.0 L165.7 499.7 L165.8 503.4 L165.9 507.0 L166.0 510.7 L166.1 514.4 L166.2 518.1 L166.2 521.8 L166.3 525.5 L166.3 529.2 L166.4 532.9 L166.4 536.6 L166.4 540.3 L166.4 543.9 L166.5 547.6 L166.5 551.3 L166.5 555.0 L166.5 558.7 L166.5 562.4 L166.5 566.1 L166.5 569.8 L166.5 573.5 L166.5 577.2 L166.5 580.8 L166.5 584.5 L166.6 588.2 L166.6 591.9 L166.6 595.6 L166.6 599.3 L166.6 603.0 L166.6 606.7 L166.6 610.4 L166.6 614.1 L166.6 617.7 L166.6 621.4 L166.6 625.1 L166.6 628.8 L166.6 632.5 L166.6 636.2" fill="none" stroke="#f07a20" stroke-width="0.75" stroke-opacity="0.8" stroke-dasharray="4 2"/>
<path d="M109.4 388.8 L109.4 390.0 L109.4 391.3 L109.4 392.5 L109.4 393.8 L109.4 395.0 L109.6 396.3 L109.8 397.5 L110.1 398.8 L110.5 400.0 L111.1 401.3 L111.9 402.5 L112.8 403.8 L114.0 405.0 L115.2 406.3 L116.6 407.5 L118.2 408.8 L119.9 410.0 L121.7 411.3 L123.5 412.5 L125.4 413.8 L127.4 415.0 L129.4 416.3 L131.4 417.5 L133.4 418.8 L135.3 420.0 L137.3 421.3 L139.2 422.5 L141.1 423.8 L143.0 425.0 L144.8 426.3 L146.5 427.5 L148.2 428.8 L149.8 430.0 L151.4 431.3 L152.9 432.5 L154.3 433.8 L155.7 435.0 L157.0 436.3 L158.2 437.5 L159.4 438.8 L160.5 440.0 L161.6 441.3 L162.6 442.5 L163.6 443.8 L164.5 445.0 L165.4 446.3 L166.2 447.5 L167.0 448.8 L167.7 450.0 L168.4 451.3 L169.1 452.5 L169.7 453.8 L170.3 455.0 L170.9 456.3 L171.4 457.5 L171.9 458.8 L172.3 460.0 L172.8 461.3 L173.3 462.8 L174.4 466.5 L175.3 470.1 L176.0 473.8 L176.7 477.5 L177.2 481.2 L177.7 484.9 L178.0 488.6 L178.4 492.3 L178.6 496.0 L178.9 499.7 L179.0 503.4 L179.2 507.0 L179.3 510.7 L179.5 514.4 L179.6 518.1 L179.6 521.8 L179.7 525.5 L179.8 529.2 L179.8 532.9 L179.9 536.6 L179.9 540.3 L180.0 543.9 L180.0 547.6 L180.0 551.3 L180.0 555.0 L180.0 558.7 L180.1 562.4 L180.1 566.1 L180.1 569.8 L180.1 573.5 L180.1 577.2 L180.1 580.8 L180.1 584.5 L180.1 588.2 L180.1 591.9 L180.1 595.6 L180.1 599.3 L180.1 603.0 L180.1 606.7 L180.1 610.4 L180.2 614.1 L180.2 617.7 L180.2 621.4 L180.2 625.1 L180.2 628.8 L180.2 632.5 L180.2 636.2" fill="none" stroke="#f0a020" stroke-width="0.75" stroke-opacity="0.8" stroke-dasharray="5 2 1.2 2"/>
<path d="M155.8 388.8 L155.8 390.0 L155.8 391.3 L155.8 392.5 L155.8 393.8 L155.8 395.0 L155.8 396.3 L155.8 397.5 L155.8 398.8 L155.9 400.0 L155.9 401.3 L155.9 402.5 L155.9 403.8 L156.0 405.0 L156.0 406.3 L156.1 407.5 L156.2 408.8 L156.4 410.0 L156.6 411.3 L156.8 412.5 L157.0 413.8 L157.3 415.0 L157.6 416.3 L157.9 417.5 L158.3 418.8 L158.6 420.0 L159.0 421.3 L159.5 422.5 L159.9 423.8 L160.3 425.0 L160.8 426.3 L161.3 427.5 L161.7 428.8 L162.2 430.0 L162.6 431.3 L163.1 432.5 L163.6 433.8 L164.0 435.0 L164.4 436.3 L164.8 437.5 L165.3 438.8 L165.7 440.0 L166.0 441.3 L166.4 442.5 L166.8 443.8 L167.1 445.0 L167.4 446.3 L167.8 447.5 L168.1 448.8 L168.3 450.0 L168.6 451.3 L168.9 452.5 L169.1 453.8 L169.4 455.0 L169.6 456.3 L169.8 457.5 L170.0 458.8 L170.2 460.0 L170.3 461.3 L170.5 462.8 L171.0 466.5 L171.3 470.1 L171.6 473.8 L171.9 477.5 L172.1 481.2 L172.2 484.9 L172.4 488.6 L172.5 492.3 L172.6 496.0 L172.7 499.7 L172.7 503.4 L172.8 507.0 L172.8 510.7 L172.8 514.4 L172.9 518.1 L172.9 521.8 L172.9 525.5 L172.9 529.2 L172.9 532.9 L173.0 536.6 L173.0 540.3 L173.0 543.9 L173.0 547.6 L173.0 551.3 L173.0 555.0 L173.0 558.7 L173.0 562.4 L173.0 566.1 L173.0 569.8 L173.0 573.5 L173.0 577.2 L173.0 580.8 L173.0 584.5 L173.0 588.2 L173.0 591.9 L173.0 595.6 L173.0 599.3 L173.0 603.0 L173.0 606.7 L173.0 610.4 L173.0 614.1 L173.0 617.7 L173.0 621.4 L173.0 625.1 L173.0 628.8 L173.0 632.5 L173.0 636.2" fill="none" stroke="#302090" stroke-width="0.75" stroke-opacity="0.8" stroke-dasharray="4 2"/>
<path d="M87.9 388.8 L87.9 390.0 L87.9 391.3 L87.9 392.5 L87.9 393.8 L87.9 395.0 L88.0 396.3 L88.0 397.5 L88.2 398.8 L88.4 400.0 L88.7 401.3 L89.2 402.5 L89.9 403.8 L90.7 405.0 L91.7 406.3 L92.9 407.5 L94.3 408.8 L95.9 410.0 L97.6 411.3 L99.4 412.5 L101.4 413.8 L103.5 415.0 L105.7 416.3 L108.0 417.5 L110.3 418.8 L112.6 420.0 L114.9 421.3 L117.3 422.5 L119.6 423.8 L121.9 425.0 L124.1 426.3 L126.3 427.5 L128.5 428.8 L130.6 430.0 L132.6 431.3 L134.5 432.5 L136.4 433.8 L138.2 435.0 L139.9 436.3 L141.6 437.5 L143.2 438.8 L144.7 440.0 L146.1 441.3 L147.4 442.5 L148.7 443.8 L149.9 445.0 L151.1 446.3 L152.2 447.5 L153.2 448.8 L154.2 450.0 L155.1 451.3 L155.9 452.5 L156.7 453.8 L157.5 455.0 L158.2 456.3 L158.9 457.5 L159.5 458.8 L160.1 460.0 L160.7 461.3 L161.3 462.8 L162.7 466.5 L163.8 470.1 L164.7 473.8 L165.4 477.5 L166.1 481.2 L166.6 484.9 L167.0 488.6 L167.4 492.3 L167.7 496.0 L167.9 499.7 L168.1 503.4 L168.3 507.0 L168.4 510.7 L168.5 514.4 L168.6 518.1 L168.7 521.8 L168.7 525.5 L168.8 529.2 L168.8 532.9 L168.9 536.6 L168.9 540.3 L168.9 543.9 L169.0 547.6 L169.0 551.3 L169.0 555.0 L169.0 558.7 L169.0 562.4 L169.0 566.1 L169.0 569.8 L169.0 573.5 L169.0 577.2 L169.0 580.8 L169.1 584.5 L169.1 588.2 L169.1 591.9 L169.1 595.6 L169.1 599.3 L169.1 603.0 L169.1 606.7 L169.1 610.4 L169.1 614.1 L169.1 617.7 L169.1 621.4 L169.1 625.1 L169.1 628.8 L169.1 632.5 L169.1 636.2" fill="none" stroke="#30c830" stroke-width="0.75" stroke-opacity="0.8" stroke-dasharray="4 2"/>
<path d="M104.0 388.8 L104.0 390.0 L104.0 391.3 L104.0 392.5 L104.1 393.8 L104.2 395.0 L104.4 396.3 L104.8 397.5 L105.4 398.8 L106.2 400.0 L107.2 401.3 L108.5 402.5 L109.9 403.8 L111.6 405.0 L113.4 406.3 L115.4 407.5 L117.5 408.8 L119.7 410.0 L121.9 411.3 L124.2 412.5 L126.5 413.8 L128.8 415.0 L131.1 416.3 L133.3 417.5 L135.5 418.8 L137.7 420.0 L139.8 421.3 L141.8 422.5 L143.7 423.8 L145.5 425.0 L147.3 426.3 L149.0 427.5 L150.6 428.8 L152.1 430.0 L153.5 431.3 L154.9 432.5 L156.2 433.8 L157.4 435.0 L158.5 436.3 L159.6 437.5 L160.6 438.8 L161.5 440.0 L162.4 441.3 L163.3 442.5 L164.0 443.8 L164.8 445.0 L165.5 446.3 L166.1 447.5 L166.7 448.8 L167.3 450.0 L167.8 451.3 L168.3 452.5 L168.8 453.8 L169.2 455.0 L169.6 456.3 L170.0 457.5 L170.3 458.8 L170.6 460.0 L171.0 461.3 L171.3 462.8 L172.0 466.5 L172.6 470.1 L173.1 473.8 L173.5 477.5 L173.9 481.2 L174.1 484.9 L174.4 488.6 L174.6 492.3 L174.7 496.0 L174.8 499.7 L175.0 503.4 L175.0 507.0 L175.1 510.7 L175.2 514.4 L175.2 518.1 L175.3 521.8 L175.3 525.5 L175.3 529.2 L175.4 532.9 L175.4 536.6 L175.4 540.3 L175.4 543.9 L175.4 547.6 L175.4 551.3 L175.5 555.0 L175.5 558.7 L175.5 562.4 L175.5 566.1 L175.5 569.8 L175.5 573.5 L175.5 577.2 L175.5 580.8 L175.5 584.5 L175.5 588.2 L175.5 591.9 L175.5 595.6 L175.5 599.3 L175.5 603.0 L175.5 606.7 L175.5 610.4 L175.5 614.1 L175.5 617.7 L175.5 621.4 L175.5 625.1 L175.5 628.8 L175.5 632.5 L175.5 636.2" fill="none" stroke="#e02030" stroke-width="0.75" stroke-opacity="0.8" stroke-dasharray="5 2 1.2 2"/>
<path d="M84.3 388.8 L84.3 390.0 L84.3 391.3 L84.3 392.5 L84.4 393.8 L84.4 395.0 L84.6 396.3 L84.8 397.5 L85.1 398.8 L85.6 400.0 L86.3 401.3 L87.2 402.5 L88.3 403.8 L89.5 405.0 L91.0 406.3 L92.6 407.5 L94.4 408.8 L96.3 410.0 L98.3 411.3 L100.4 412.5 L102.6 413.8 L104.8 415.0 L107.1 416.3 L109.3 417.5 L111.6 418.8 L113.9 420.0 L116.1 421.3 L118.3 422.5 L120.4 423.8 L122.5 425.0 L124.6 426.3 L126.5 427.5 L128.4 428.8 L130.3 430.0 L132.1 431.3 L133.8 432.5 L135.4 433.8 L136.9 435.0 L138.4 436.3 L139.8 437.5 L141.2 438.8 L142.5 440.0 L143.7 441.3 L144.9 442.5 L146.0 443.8 L147.0 445.0 L148.0 446.3 L148.9 447.5 L149.8 448.8 L150.7 450.0 L151.5 451.3 L152.2 452.5 L152.9 453.8 L153.6 455.0 L154.2 456.3 L154.8 457.5 L155.4 458.8 L155.9 460.0 L156.4 461.3 L157.0 462.8 L158.2 466.5 L159.2 470.1 L160.1 473.8 L160.8 477.5 L161.4 481.2 L161.9 484.9 L162.4 488.6 L162.7 492.3 L163.0 496.0 L163.3 499.7 L163.5 503.4 L163.7 507.0 L163.9 510.7 L164.0 514.4 L164.1 518.1 L164.2 521.8 L164.3 525.5 L164.4 529.2 L164.4 532.9 L164.5 536.6 L164.5 540.3 L164.5 543.9 L164.6 547.6 L164.6 551.3 L164.6 555.0 L164.7 558.7 L164.7 562.4 L164.7 566.1 L164.7 569.8 L164.7 573.5 L164.7 577.2 L164.7 580.8 L164.7 584.5 L164.7 588.2 L164.8 591.9 L164.8 595.6 L164.8 599.3 L164.8 603.0 L164.8 606.7 L164.8 610.4 L164.8 614.1 L164.8 617.7 L164.8 621.4 L164.8 625.1 L164.8 628.8 L164.8 632.5 L164.8 636.2" fill="none" stroke="#8030c8" stroke-width="0.75" stroke-opacity="0.8" stroke-dasharray="4 2"/>
<path d="M91.5 388.8 L91.5 390.0 L91.5 391.3 L91.5 392.5 L91.5 393.8 L91.5 395.0 L91.5 396.3 L91.5 397.5 L91.5 398.8 L91.5 400.0 L91.6 401.3 L91.7 402.5 L91.9 403.8 L92.2 405.0 L92.5 406.3 L93.0 407.5 L93.7 408.8 L94.5 410.0 L95.5 411.3 L96.7 412.5 L98.0 413.8 L99.5 415.0 L101.2 416.3 L103.1 417.5 L105.1 418.8 L107.2 420.0 L109.5 421.3 L111.8 422.5 L114.3 423.8 L116.8 425.0 L119.3 426.3 L121.9 427.5 L124.5 428.8 L127.1 430.0 L129.7 431.3 L132.3 432.5 L134.8 433.8 L137.3 435.0 L139.8 436.3 L142.1 437.5 L144.4 438.8 L146.7 440.0 L148.8 441.3 L150.9 442.5 L152.9 443.8 L154.9 445.0 L156.7 446.3 L158.5 447.5 L160.2 448.8 L161.8 450.0 L163.3 451.3 L164.8 452.5 L166.2 453.8 L167.5 455.0 L168.7 456.3 L169.9 457.5 L171.0 458.8 L172.0 460.0 L173.0 461.3 L174.1 462.8 L176.6 466.5 L178.6 470.1 L180.2 473.8 L181.6 477.5 L182.8 481.2 L183.7 484.9 L184.5 488.6 L185.1 492.3 L185.6 496.0 L186.1 499.7 L186.4 503.4 L186.7 507.0 L186.9 510.7 L187.1 514.4 L187.3 518.1 L187.4 521.8 L187.5 525.5 L187.6 529.2 L187.7 532.9 L187.7 536.6 L187.8 540.3 L187.8 543.9 L187.9 547.6 L187.9 551.3 L187.9 555.0 L187.9 558.7 L187.9 562.4 L188.0 566.1 L188.0 569.8 L188.0 573.5 L188.0 577.2 L188.0 580.8 L188.0 584.5 L188.0 588.2 L188.0 591.9 L188.0 595.6 L188.0 599.3 L188.0 603.0 L188.0 606.7 L188.0 610.4 L188.0 614.1 L188.0 617.7 L188.0 621.4 L188.0 625.1 L188.0 628.8 L188.0 632.5 L188.0 636.2" fill="none" stroke="#e02030" stroke-width="0.75" stroke-opacity="0.8" stroke-dasharray="4 2"/>
<path d="M83.4 388.8 L83.4 390.0 L83.4 391.3 L83.4 392.5 L83.4 393.8 L83.4 395.0 L83.4 396.3 L83.4 397.5 L83.4 398.8 L83.4 400.0 L83.4 401.3 L83.4 402.5 L83.4 403.8 L83.4 405.0 L83.4 406.3 L83.4 407.5 L83.4 408.8 L83.5 410.0 L83.5 411.3 L83.6 412.5 L83.7 413.8 L83.8 415.0 L84.0 416.3 L84.2 417.5 L84.5 418.8 L84.8 420.0 L85.2 421.3 L85.7 422.5 L86.2 423.8 L86.7 425.0 L87.4 426.3 L88.1 427.5 L88.8 428.8 L89.6 430.0 L90.5 431.3 L91.4 432.5 L92.4 433.8 L93.4 435.0 L94.5 436.3 L95.6 437.5 L96.7 438.8 L97.8 440.0 L98.9 441.3 L100.1 442.5 L101.3 443.8 L102.4 445.0 L103.6 446.3 L104.8 447.5 L105.9 448.8 L107.1 450.0 L108.2 451.3 L109.3 452.5 L110.4 453.8 L111.5 455.0 L112.5 456.3 L113.5 457.5 L114.5 458.8 L115.4 460.0 L116.4 461.3 L117.4 462.8 L119.8 466.5 L122.0 470.1 L123.9 473.8 L125.5 477.5 L127.0 481.2 L128.2 484.9 L129.2 488.6 L130.1 492.3 L130.9 496.0 L131.5 499.7 L132.0 503.4 L132.5 507.0 L132.9 510.7 L133.2 514.4 L133.4 518.1 L133.6 521.8 L133.8 525.5 L134.0 529.2 L134.1 532.9 L134.2 536.6 L134.3 540.3 L134.3 543.9 L134.4 547.6 L134.4 551.3 L134.5 555.0 L134.5 558.7 L134.5 562.4 L134.6 566.1 L134.6 569.8 L134.6 573.5 L134.6 577.2 L134.6 580.8 L134.6 584.5 L134.6 588.2 L134.6 591.9 L134.7 595.6 L134.7 599.3 L134.7 603.0 L134.7 606.7 L134.7 610.4 L134.7 614.1 L134.7 617.7 L134.7 621.4 L134.7 625.1 L134.7 628.8 L134.7 632.5 L134.7 636.2" fill="none" stroke="#8a8a30" stroke-width="0.75" stroke-opacity="0.8"/>
<path d="M87.7 388.8 L87.7 390.0 L87.7 391.3 L87.7 392.5 L87.7 393.8 L87.7 395.0 L87.7 396.3 L87.7 397.5 L87.7 398.8 L87.7 400.0 L87.7 401.3 L87.7 402.5 L87.7 403.8 L87.7 405.0 L87.7 406.3 L87.7 407.5 L87.7 408.8 L87.7 410.0 L87.7 411.3 L87.7 412.5 L87.7 413.8 L87.7 415.0 L87.8 416.3 L87.8 417.5 L87.8 418.8 L87.8 420.0 L87.9 421.3 L87.9 422.5 L88.0 423.8 L88.1 425.0 L88.3 426.3 L88.4 427.5 L88.7 428.8 L89.0 430.0 L89.3 431.3 L89.7 432.5 L90.2 433.8 L90.7 435.0 L91.4 436.3 L92.1 437.5 L92.9 438.8 L93.7 440.0 L94.6 441.3 L95.6 442.5 L96.7 443.8 L97.8 445.0 L99.0 446.3 L100.2 447.5 L101.4 448.8 L102.7 450.0 L104.0 451.3 L105.3 452.5 L106.7 453.8 L108.0 455.0 L109.3 456.3 L110.6 457.5 L111.9 458.8 L113.2 460.0 L114.4 461.3 L115.9 462.8 L119.3 466.5 L122.3 470.1 L124.9 473.8 L127.1 477.5 L128.9 481.2 L130.5 484.9 L131.7 488.6 L132.7 492.3 L133.5 496.0 L134.1 499.7 L134.6 503.4 L134.9 507.0 L135.2 510.7 L135.4 514.4 L135.6 518.1 L135.7 521.8 L135.8 525.5 L135.9 529.2 L136.0 532.9 L136.0 536.6 L136.0 540.3 L136.0 543.9 L136.1 547.6 L136.1 551.3 L136.1 555.0 L136.1 558.7 L136.1 562.4 L136.1 566.1 L136.1 569.8 L136.1 573.5 L136.1 577.2 L136.1 580.8 L136.1 584.5 L136.1 588.2 L136.1 591.9 L136.1 595.6 L136.1 599.3 L136.1 603.0 L136.1 606.7 L136.1 610.4 L136.1 614.1 L136.1 617.7 L136.1 621.4 L136.1 625.1 L136.1 628.8 L136.1 632.5 L136.1 636.2" fill="none" stroke="#f060b0" stroke-width="0.75" stroke-opacity="0.8" stroke-dasharray="1.2 1.8"/>
<path d="M72.1 388.8 L72.1 390.0 L72.1 391.3 L72.1 392.5 L72.1 393.8 L72.1 395.0 L72.1 396.3 L72.1 397.5 L72.1 398.8 L72.1 400.0 L72.1 401.3 L72.1 402.5 L72.1 403.8 L72.1 405.0 L72.1 406.3 L72.1 407.5 L72.1 408.8 L72.1 410.0 L72.1 411.3 L72.1 412.5 L72.1 413.8 L72.1 415.0 L72.1 416.3 L72.2 417.5 L72.2 418.8 L72.2 420.0 L72.3 421.3 L72.4 422.5 L72.5 423.8 L72.7 425.0 L72.9 426.3 L73.2 427.5 L73.5 428.8 L74.0 430.0 L74.5 431.3 L75.1 432.5 L75.8 433.8 L76.6 435.0 L77.5 436.3 L78.5 437.5 L79.6 438.8 L80.8 440.0 L82.2 441.3 L83.6 442.5 L85.1 443.8 L86.7 445.0 L88.3 446.3 L90.0 447.5 L91.8 448.8 L93.6 450.0 L95.5 451.3 L97.3 452.5 L99.2 453.8 L101.1 455.0 L102.9 456.3 L104.8 457.5 L106.6 458.8 L108.4 460.0 L110.2 461.3 L112.2 462.8 L117.0 466.5 L121.2 470.1 L124.9 473.8 L128.0 477.5 L130.7 481.2 L132.8 484.9 L134.6 488.6 L136.1 492.3 L137.2 496.0 L138.1 499.7 L138.8 503.4 L139.3 507.0 L139.8 510.7 L140.1 514.4 L140.3 518.1 L140.5 521.8 L140.7 525.5 L140.8 529.2 L140.9 532.9 L140.9 536.6 L141.0 540.3 L141.0 543.9 L141.0 547.6 L141.1 551.3 L141.1 555.0 L141.1 558.7 L141.1 562.4 L141.1 566.1 L141.1 569.8 L141.1 573.5 L141.1 577.2 L141.1 580.8 L141.1 584.5 L141.1 588.2 L141.1 591.9 L141.1 595.6 L141.1 599.3 L141.1 603.0 L141.1 606.7 L141.1 610.4 L141.1 614.1 L141.1 617.7 L141.1 621.4 L141.1 625.1 L141.1 628.8 L141.1 632.5 L141.1 636.2" fill="none" stroke="#30c830" stroke-width="0.75" stroke-opacity="0.8" stroke-dasharray="1.2 1.8"/>
<path d="M88.4 388.8 L88.4 390.0 L88.4 391.3 L88.4 392.5 L88.4 393.8 L88.4 395.0 L88.4 396.3 L88.4 397.5 L88.4 398.8 L88.4 400.0 L88.4 401.3 L88.4 402.5 L88.4 403.8 L88.5 405.0 L88.5 406.3 L88.6 407.5 L88.8 408.8 L88.9 410.0 L89.2 411.3 L89.5 412.5 L89.8 413.8 L90.3 415.0 L90.8 416.3 L91.4 417.5 L92.1 418.8 L92.9 420.0 L93.7 421.3 L94.7 422.5 L95.7 423.8 L96.8 425.0 L97.9 426.3 L99.1 427.5 L100.4 428.8 L101.7 430.0 L103.0 431.3 L104.4 432.5 L105.7 433.8 L107.1 435.0 L108.5 436.3 L109.9 437.5 L111.3 438.8 L112.7 440.0 L114.0 441.3 L115.4 442.5 L116.7 443.8 L118.0 445.0 L119.2 446.3 L120.4 447.5 L121.6 448.8 L122.8 450.0 L123.9 451.3 L124.9 452.5 L126.0 453.8 L126.9 455.0 L127.9 456.3 L128.8 457.5 L129.7 458.8 L130.5 460.0 L131.3 461.3 L132.2 462.8 L134.2 466.5 L135.9 470.1 L137.4 473.8 L138.7 477.5 L139.7 481.2 L140.6 484.9 L141.3 488.6 L141.9 492.3 L142.4 496.0 L142.9 499.7 L143.2 503.4 L143.5 507.0 L143.7 510.7 L143.9 514.4 L144.1 518.1 L144.2 521.8 L144.4 525.5 L144.5 529.2 L144.5 532.9 L144.6 536.6 L144.6 540.3 L144.7 543.9 L144.7 547.6 L144.8 551.3 L144.8 555.0 L144.8 558.7 L144.8 562.4 L144.8 566.1 L144.8 569.8 L144.9 573.5 L144.9 577.2 L144.9 580.8 L144.9 584.5 L144.9 588.2 L144.9 591.9 L144.9 595.6 L144.9 599.3 L144.9 603.0 L144.9 606.7 L144.9 610.4 L144.9 614.1 L144.9 617.7 L144.9 621.4 L144.9 625.1 L144.9 628.8 L144.9 632.5 L144.9 636.2" fill="none" stroke="#8030c8" stroke-width="0.75" stroke-opacity="0.8"/>
<path d="M91.4 388.8 L91.4 390.0 L91.4 391.3 L91.4 392.5 L91.4 393.8 L91.4 395.0 L91.4 396.3 L91.4 397.5 L91.4 398.8 L91.4 400.0 L91.4 401.3 L91.4 402.5 L91.4 403.8 L91.4 405.0 L91.4 406.3 L91.4 407.5 L91.5 408.8 L91.5 410.0 L91.6 411.3 L91.7 412.5 L91.8 413.8 L91.9 415.0 L92.1 416.3 L92.3 417.5 L92.6 418.8 L92.8 420.0 L93.2 421.3 L93.6 422.5 L94.0 423.8 L94.5 425.0 L95.1 426.3 L95.7 427.5 L96.3 428.8 L97.0 430.0 L97.8 431.3 L98.6 432.5 L99.4 433.8 L100.3 435.0 L101.2 436.3 L102.1 437.5 L103.1 438.8 L104.1 440.0 L105.1 441.3 L106.1 442.5 L107.2 443.8 L108.3 445.0 L109.3 446.3 L110.4 447.5 L111.5 448.8 L112.6 450.0 L113.7 451.3 L114.7 452.5 L115.8 453.8 L116.8 455.0 L117.9 456.3 L118.9 457.5 L119.9 458.8 L120.9 460.0 L121.9 461.3 L123.0 462.8 L125.7 466.5 L128.2 470.1 L130.5 473.8 L132.6 477.5 L134.5 481.2 L136.1 484.9 L137.6 488.6 L139.0 492.3 L140.2 496.0 L141.2 499.7 L142.2 503.4 L143.0 507.0 L143.7 510.7 L144.3 514.4 L144.8 518.1 L145.3 521.8 L145.7 525.5 L146.1 529.2 L146.4 532.9 L146.7 536.6 L146.9 540.3 L147.1 543.9 L147.3 547.6 L147.4 551.3 L147.6 555.0 L147.7 558.7 L147.8 562.4 L147.9 566.1 L147.9 569.8 L148.0 573.5 L148.1 577.2 L148.1 580.8 L148.2 584.5 L148.2 588.2 L148.2 591.9 L148.3 595.6 L148.3 599.3 L148.3 603.0 L148.3 606.7 L148.3 610.4 L148.4 614.1 L148.4 617.7 L148.4 621.4 L148.4 625.1 L148.4 628.8 L148.4 632.5 L148.4 636.2" fill="none" stroke="#f060b0" stroke-width="0.75" stroke-opacity="0.8" stroke-dasharray="1.2 1.8"/>
<path d="M79.7 388.8 L79.7 390.0 L79.7 391.3 L79.7 392.5 L79.7 393.8 L79.7 395.0 L79.7 396.3 L79.7 397.5 L79.7 398.8 L79.7 400.0 L79.7 401.3 L79.7 402.5 L79.7 403.8 L79.7 405.0 L79.7 406.3 L79.7 407.5 L79.8 408.8 L79.8 410.0 L79.9 411.3 L80.0 412.5 L80.1 413.8 L80.3 415.0 L80.5 416.3 L80.8 417.5 L81.2 418.8 L81.7 420.0 L82.3 421.3 L83.0 422.5 L83.7 423.8 L84.6 425.0 L85.6 426.3 L86.6 427.5 L87.8 428.8 L89.1 430.0 L90.5 431.3 L91.9 432.5 L93.4 433.8 L95.0 435.0 L96.6 436.3 L98.3 437.5 L100.0 438.8 L101.8 440.0 L103.5 441.3 L105.3 442.5 L107.1 443.8 L108.8 445.0 L110.6 446.3 L112.3 447.5 L114.0 448.8 L115.7 450.0 L117.3 451.3 L118.9 452.5 L120.4 453.8 L121.9 455.0 L123.3 456.3 L124.7 457.5 L126.1 458.8 L127.4 460.0 L128.6 461.3 L130.0 462.8 L133.1 466.5 L135.8 470.1 L138.1 473.8 L140.1 477.5 L141.7 481.2 L143.0 484.9 L144.1 488.6 L145.0 492.3 L145.7 496.0 L146.3 499.7 L146.8 503.4 L147.1 507.0 L147.5 510.7 L147.7 514.4 L147.9 518.1 L148.1 521.8 L148.2 525.5 L148.3 529.2 L148.4 532.9 L148.4 536.6 L148.5 540.3 L148.5 543.9 L148.6 547.6 L148.6 551.3 L148.6 555.0 L148.6 558.7 L148.6 562.4 L148.6 566.1 L148.7 569.8 L148.7 573.5 L148.7 577.2 L148.7 580.8 L148.7 584.5 L148.7 588.2 L148.7 591.9 L148.7 595.6 L148.7 599.3 L148.7 603.0 L148.7 606.7 L148.7 610.4 L148.7 614.1 L148.7 617.7 L148.7 621.4 L148.7 625.1 L148.7 628.8 L148.7 632.5 L148.7 636.2" fill="none" stroke="#d030b0" stroke-width="0.75" stroke-opacity="0.8" stroke-dasharray="4 2"/>
<path d="M81.1 388.8 L81.1 390.0 L81.1 391.3 L81.1 392.5 L81.1 393.8 L81.1 395.0 L81.1 396.3 L81.1 397.5 L81.1 398.8 L81.1 400.0 L81.1 401.3 L81.1 402.5 L81.1 403.8 L81.1 405.0 L81.1 406.3 L81.1 407.5 L81.1 408.8 L81.1 410.0 L81.1 411.3 L81.1 412.5 L81.2 413.8 L81.2 415.0 L81.3 416.3 L81.5 417.5 L81.6 418.8 L81.8 420.0 L82.1 421.3 L82.4 422.5 L82.8 423.8 L83.2 425.0 L83.7 426.3 L84.3 427.5 L85.0 428.8 L85.8 430.0 L86.6 431.3 L87.6 432.5 L88.6 433.8 L89.7 435.0 L90.9 436.3 L92.1 437.5 L93.4 438.8 L94.8 440.0 L96.2 441.3 L97.7 442.5 L99.3 443.8 L100.8 445.0 L102.4 446.3 L104.1 447.5 L105.7 448.8 L107.4 450.0 L109.0 451.3 L110.7 452.5 L112.3 453.8 L114.0 455.0 L115.6 456.3 L117.2 457.5 L118.8 458.8 L120.4 460.0 L121.9 461.3 L123.7 462.8 L127.9 466.5 L131.7 470.1 L135.2 473.8 L138.3 477.5 L141.0 481.2 L143.4 484.9 L145.4 488.6 L147.2 492.3 L148.7 496.0 L150.0 499.7 L151.1 503.4 L152.0 507.0 L152.8 510.7 L153.4 514.4 L154.0 518.1 L154.4 521.8 L154.8 525.5 L155.1 529.2 L155.4 532.9 L155.6 536.6 L155.8 540.3 L155.9 543.9 L156.0 547.6 L156.1 551.3 L156.2 555.0 L156.3 558.7 L156.3 562.4 L156.4 566.1 L156.4 569.8 L156.5 573.5 L156.5 577.2 L156.5 580.8 L156.5 584.5 L156.5 588.2 L156.5 591.9 L156.6 595.6 L156.6 599.3 L156.6 603.0 L156.6 606.7 L156.6 610.4 L156.6 614.1 L156.6 617.7 L156.6 621.4 L156.6 625.1 L156.6 628.8 L156.6 632.5 L156.6 636.2" fill="none" stroke="#8070a0" stroke-width="0.75" stroke-opacity="0.8"/>
<path d="M78.4 388.8 L78.4 390.0 L78.4 391.3 L78.4 392.5 L78.4 393.8 L78.4 395.0 L78.4 396.3 L78.4 397.5 L78.4 398.8 L78.4 400.0 L78.4 401.3 L78.4 402.5 L78.4 403.8 L78.4 405.0 L78.4 406.3 L78.4 407.5 L78.5 408.8 L78.6 410.0 L78.7 411.3 L78.8 412.5 L79.0 413.8 L79.2 415.0 L79.5 416.3 L79.8 417.5 L80.2 418.8 L80.6 420.0 L81.2 421.3 L81.7 422.5 L82.4 423.8 L83.1 425.0 L83.9 426.3 L84.8 427.5 L85.7 428.8 L86.7 430.0 L87.8 431.3 L88.9 432.5 L90.1 433.8 L91.3 435.0 L92.6 436.3 L93.9 437.5 L95.3 438.8 L96.7 440.0 L98.1 441.3 L99.5 442.5 L101.0 443.8 L102.5 445.0 L104.0 446.3 L105.4 447.5 L106.9 448.8 L108.4 450.0 L109.9 451.3 L111.4 452.5 L112.8 453.8 L114.3 455.0 L115.7 456.3 L117.1 457.5 L118.5 458.8 L119.9 460.0 L121.2 461.3 L122.8 462.8 L126.5 466.5 L129.9 470.1 L133.1 473.8 L135.9 477.5 L138.5 481.2 L140.9 484.9 L143.0 488.6 L144.9 492.3 L146.5 496.0 L148.0 499.7 L149.3 503.4 L150.5 507.0 L151.5 510.7 L152.4 514.4 L153.2 518.1 L153.9 521.8 L154.5 525.5 L155.0 529.2 L155.5 532.9 L155.9 536.6 L156.2 540.3 L156.6 543.9 L156.8 547.6 L157.1 551.3 L157.3 555.0 L157.4 558.7 L157.6 562.4 L157.7 566.1 L157.8 569.8 L158.0 573.5 L158.0 577.2 L158.1 580.8 L158.2 584.5 L158.2 588.2 L158.3 591.9 L158.3 595.6 L158.4 599.3 L158.4 603.0 L158.5 606.7 L158.5 610.4 L158.5 614.1 L158.5 617.7 L158.5 621.4 L158.6 625.1 L158.6 628.8 L158.6 632.5 L158.6 636.2" fill="none" stroke="#8a8a30" stroke-width="0.75" stroke-opacity="0.8" stroke-dasharray="4 2"/>
<path d="M75.3 388.8 L75.3 390.0 L75.3 391.3 L75.3 392.5 L75.3 393.8 L75.3 395.0 L75.3 396.3 L75.3 397.5 L75.3 398.8 L75.3 400.0 L75.3 401.3 L75.3 402.5 L75.3 403.8 L75.3 405.0 L75.4 406.3 L75.4 407.5 L75.5 408.8 L75.7 410.0 L75.8 411.3 L76.1 412.5 L76.4 413.8 L76.9 415.0 L77.4 416.3 L78.1 417.5 L78.9 418.8 L79.8 420.0 L80.9 421.3 L82.1 422.5 L83.5 423.8 L85.0 425.0 L86.6 426.3 L88.3 427.5 L90.2 428.8 L92.1 430.0 L94.2 431.3 L96.3 432.5 L98.4 433.8 L100.6 435.0 L102.9 436.3 L105.1 437.5 L107.4 438.8 L109.7 440.0 L111.9 441.3 L114.1 442.5 L116.3 443.8 L118.5 445.0 L120.6 446.3 L122.6 447.5 L124.6 448.8 L126.6 450.0 L128.4 451.3 L130.2 452.5 L131.9 453.8 L133.6 455.0 L135.2 456.3 L136.7 457.5 L138.1 458.8 L139.5 460.0 L140.8 461.3 L142.3 462.8 L145.5 466.5 L148.2 470.1 L150.5 473.8 L152.4 477.5 L153.9 481.2 L155.2 484.9 L156.2 488.6 L157.0 492.3 L157.7 496.0 L158.2 499.7 L158.7 503.4 L159.0 507.0 L159.3 510.7 L159.5 514.4 L159.7 518.1 L159.8 521.8 L159.9 525.5 L160.0 529.2 L160.1 532.9 L160.2 536.6 L160.2 540.3 L160.2 543.9 L160.3 547.6 L160.3 551.3 L160.3 555.0 L160.3 558.7 L160.3 562.4 L160.3 566.1 L160.4 569.8 L160.4 573.5 L160.4 577.2 L160.4 580.8 L160.4 584.5 L160.4 588.2 L160.4 591.9 L160.4 595.6 L160.4 599.3 L160.4 603.0 L160.4 606.7 L160.4 610.4 L160.4 614.1 L160.4 617.7 L160.4 621.4 L160.4 625.1 L160.4 628.8 L160.4 632.5 L160.4 636.2" fill="none" stroke="#8030c8" stroke-width="0.75" stroke-opacity="0.8" stroke-dasharray="4 2"/>
<path d="M80.1 388.8 L80.1 390.0 L80.1 391.3 L80.1 392.5 L80.1 393.8 L80.1 395.0 L80.1 396.3 L80.1 397.5 L80.1 398.8 L80.1 400.0 L80.1 401.3 L80.1 402.5 L80.1 403.8 L80.1 405.0 L80.1 406.3 L80.1 407.5 L80.1 408.8 L80.1 410.0 L80.1 411.3 L80.1 412.5 L80.1 413.8 L80.2 415.0 L80.2 416.3 L80.3 417.5 L80.4 418.8 L80.6 420.0 L80.8 421.3 L81.0 422.5 L81.4 423.8 L81.7 425.0 L82.2 426.3 L82.8 427.5 L83.4 428.8 L84.2 430.0 L85.0 431.3 L86.0 432.5 L87.0 433.8 L88.2 435.0 L89.4 436.3 L90.8 437.5 L92.3 438.8 L93.8 440.0 L95.4 441.3 L97.1 442.5 L98.9 443.8 L100.7 445.0 L102.6 446.3 L104.5 447.5 L106.5 448.8 L108.5 450.0 L110.5 451.3 L112.5 452.5 L114.5 453.8 L116.4 455.0 L118.4 456.3 L120.4 457.5 L122.3 458.8 L124.2 460.0 L126.0 461.3 L128.2 462.8 L133.3 466.5 L137.9 470.1 L141.9 473.8 L145.6 477.5 L148.7 481.2 L151.4 484.9 L153.7 488.6 L155.6 492.3 L157.2 496.0 L158.5 499.7 L159.7 503.4 L160.6 507.0 L161.3 510.7 L161.9 514.4 L162.4 518.1 L162.8 521.8 L163.2 525.5 L163.4 529.2 L163.6 532.9 L163.8 536.6 L163.9 540.3 L164.1 543.9 L164.1 547.6 L164.2 551.3 L164.3 555.0 L164.3 558.7 L164.4 562.4 L164.4 566.1 L164.4 569.8 L164.4 573.5 L164.4 577.2 L164.5 580.8 L164.5 584.5 L164.5 588.2 L164.5 591.9 L164.5 595.6 L164.5 599.3 L164.5 603.0 L164.5 606.7 L164.5 610.4 L164.5 614.1 L164.5 617.7 L164.5 621.4 L164.5 625.1 L164.5 628.8 L164.5 632.5 L164.5 636.2" fill="none" stroke="#2a7a2a" stroke-width="0.75" stroke-opacity="0.8" stroke-dasharray="4 2"/>
<path d="M79.6 388.8 L79.6 390.0 L79.6 391.3 L79.6 392.5 L79.6 393.8 L79.6 395.0 L79.6 396.3 L79.6 397.5 L79.6 398.8 L79.6 400.0 L79.6 401.3 L79.6 402.5 L79.6 403.8 L79.6 405.0 L79.6 406.3 L79.6 407.5 L79.7 408.8 L79.7 410.0 L79.8 411.3 L79.9 412.5 L80.0 413.8 L80.2 415.0 L80.4 416.3 L80.7 417.5 L81.1 418.8 L81.5 420.0 L81.9 421.3 L82.5 422.5 L83.1 423.8 L83.8 425.0 L84.6 426.3 L85.5 427.5 L86.5 428.8 L87.5 430.0 L88.6 431.3 L89.8 432.5 L91.1 433.8 L92.4 435.0 L93.8 436.3 L95.2 437.5 L96.7 438.8 L98.3 440.0 L99.9 441.3 L101.5 442.5 L103.1 443.8 L104.8 445.0 L106.5 446.3 L108.2 447.5 L109.9 448.8 L111.6 450.0 L113.3 451.3 L115.0 452.5 L116.7 453.8 L118.3 455.0 L120.0 456.3 L121.6 457.5 L123.2 458.8 L124.8 460.0 L126.3 461.3 L128.1 462.8 L132.4 466.5 L136.3 470.1 L139.9 473.8 L143.1 477.5 L146.1 481.2 L148.7 484.9 L151.0 488.6 L153.1 492.3 L154.9 496.0 L156.5 499.7 L157.9 503.4 L159.1 507.0 L160.2 510.7 L161.1 514.4 L161.9 518.1 L162.6 521.8 L163.1 525.5 L163.7 529.2 L164.1 532.9 L164.5 536.6 L164.8 540.3 L165.1 543.9 L165.3 547.6 L165.5 551.3 L165.7 555.0 L165.9 558.7 L166.0 562.4 L166.1 566.1 L166.2 569.8 L166.3 573.5 L166.4 577.2 L166.4 580.8 L166.5 584.5 L166.5 588.2 L166.6 591.9 L166.6 595.6 L166.6 599.3 L166.7 603.0 L166.7 606.7 L166.7 610.4 L166.7 614.1 L166.7 617.7 L166.8 621.4 L166.8 625.1 L166.8 628.8 L166.8 632.5 L166.8 636.2" fill="none" stroke="#f07a20" stroke-width="0.75" stroke-opacity="0.8"/>
<path d="M78.3 388.8 L78.3 390.0 L78.3 391.3 L78.3 392.5 L78.3 393.8 L78.3 395.0 L78.3 396.3 L78.3 397.5 L78.3 398.8 L78.3 400.0 L78.3 401.3 L78.3 402.5 L78.3 403.8 L78.3 405.0 L78.3 406.3 L78.3 407.5 L78.3 408.8 L78.3 410.0 L78.3 411.3 L78.3 412.5 L78.3 413.8 L78.3 415.0 L78.3 416.3 L78.4 417.5 L78.4 418.8 L78.5 420.0 L78.6 421.3 L78.7 422.5 L78.9 423.8 L79.1 425.0 L79.4 426.3 L79.8 427.5 L80.3 428.8 L80.8 430.0 L81.5 431.3 L82.3 432.5 L83.3 433.8 L84.3 435.0 L85.5 436.3 L86.9 437.5 L88.4 438.8 L90.0 440.0 L91.7 441.3 L93.6 442.5 L95.5 443.8 L97.6 445.0 L99.8 446.3 L102.0 447.5 L104.3 448.8 L106.7 450.0 L109.1 451.3 L111.5 452.5 L113.9 453.8 L116.3 455.0 L118.8 456.3 L121.2 457.5 L123.5 458.8 L125.9 460.0 L128.1 461.3 L130.8 462.8 L137.0 466.5 L142.5 470.1 L147.3 473.8 L151.4 477.5 L154.9 481.2 L157.7 484.9 L160.1 488.6 L162.0 492.3 L163.5 496.0 L164.7 499.7 L165.6 503.4 L166.4 507.0 L166.9 510.7 L167.4 514.4 L167.7 518.1 L168.0 521.8 L168.2 525.5 L168.3 529.2 L168.4 532.9 L168.5 536.6 L168.6 540.3 L168.6 543.9 L168.7 547.6 L168.7 551.3 L168.7 555.0 L168.7 558.7 L168.8 562.4 L168.8 566.1 L168.8 569.8 L168.8 573.5 L168.8 577.2 L168.8 580.8 L168.8 584.5 L168.8 588.2 L168.8 591.9 L168.8 595.6 L168.8 599.3 L168.8 603.0 L168.8 606.7 L168.8 610.4 L168.8 614.1 L168.8 617.7 L168.8 621.4 L168.8 625.1 L168.8 628.8 L168.8 632.5 L168.8 636.2" fill="none" stroke="#30c830" stroke-width="0.75" stroke-opacity="0.8"/>
<path d="M80.7 388.8 L80.7 390.0 L80.7 391.3 L80.7 392.5 L80.7 393.8 L80.7 395.0 L80.7 396.3 L80.7 397.5 L80.7 398.8 L80.7 400.0 L80.7 401.3 L80.7 402.5 L80.7 403.8 L80.7 405.0 L80.7 406.3 L80.7 407.5 L80.8 408.8 L80.8 410.0 L80.8 411.3 L80.9 412.5 L81.0 413.8 L81.1 415.0 L81.2 416.3 L81.4 417.5 L81.7 418.8 L82.0 420.0 L82.4 421.3 L82.8 422.5 L83.4 423.8 L84.0 425.0 L84.7 426.3 L85.5 427.5 L86.4 428.8 L87.4 430.0 L88.5 431.3 L89.7 432.5 L91.0 433.8 L92.4 435.0 L93.8 436.3 L95.3 437.5 L96.9 438.8 L98.6 440.0 L100.3 441.3 L102.1 442.5 L104.0 443.8 L105.8 445.0 L107.7 446.3 L109.6 447.5 L111.5 448.8 L113.5 450.0 L115.4 451.3 L117.4 452.5 L119.3 453.8 L121.2 455.0 L123.1 456.3 L125.0 457.5 L126.8 458.8 L128.6 460.0 L130.4 461.3 L132.5 462.8 L137.4 466.5 L141.8 470.1 L145.9 473.8 L149.6 477.5 L152.8 481.2 L155.7 484.9 L158.2 488.6 L160.3 492.3 L162.2 496.0 L163.8 499.7 L165.2 503.4 L166.4 507.0 L167.4 510.7 L168.3 514.4 L169.0 518.1 L169.6 521.8 L170.2 525.5 L170.6 529.2 L171.0 532.9 L171.3 536.6 L171.5 540.3 L171.8 543.9 L171.9 547.6 L172.1 551.3 L172.2 555.0 L172.3 558.7 L172.4 562.4 L172.5 566.1 L172.6 569.8 L172.6 573.5 L172.7 577.2 L172.7 580.8 L172.7 584.5 L172.8 588.2 L172.8 591.9 L172.8 595.6 L172.8 599.3 L172.8 603.0 L172.9 606.7 L172.9 610.4 L172.9 614.1 L172.9 617.7 L172.9 621.4 L172.9 625.1 L172.9 628.8 L172.9 632.5 L172.9 636.2" fill="none" stroke="#2030d8" stroke-width="0.75" stroke-opacity="0.8" stroke-dasharray="4 2"/>
<path d="M87.9 388.8 L87.9 390.0 L87.9 391.3 L87.9 392.5 L87.9 393.8 L87.9 395.0 L87.9 396.3 L87.9 397.5 L87.9 398.8 L87.9 400.0 L87.9 401.3 L87.9 402.5 L87.9 403.8 L87.9 405.0 L87.9 406.3 L87.9 407.5 L87.9 408.8 L87.9 410.0 L87.9 411.3 L87.9 412.5 L87.9 413.8 L88.0 415.0 L88.0 416.3 L88.1 417.5 L88.1 418.8 L88.3 420.0 L88.4 421.3 L88.6 422.5 L88.9 423.8 L89.3 425.0 L89.7 426.3 L90.2 427.5 L90.8 428.8 L91.6 430.0 L92.4 431.3 L93.4 432.5 L94.5 433.8 L95.7 435.0 L97.0 436.3 L98.4 437.5 L100.0 438.8 L101.7 440.0 L103.5 441.3 L105.3 442.5 L107.3 443.8 L109.4 445.0 L111.5 446.3 L113.7 447.5 L115.9 448.8 L118.1 450.0 L120.4 451.3 L122.7 452.5 L125.0 453.8 L127.3 455.0 L129.6 456.3 L131.8 457.5 L134.0 458.8 L136.2 460.0 L138.4 461.3 L140.9 462.8 L146.7 466.5 L151.9 470.1 L156.6 473.8 L160.6 477.5 L164.1 481.2 L167.1 484.9 L169.5 488.6 L171.6 492.3 L173.3 496.0 L174.6 499.7 L175.8 503.4 L176.7 507.0 L177.4 510.7 L178.0 514.4 L178.5 518.1 L178.8 521.8 L179.1 525.5 L179.3 529.2 L179.5 532.9 L179.7 536.6 L179.8 540.3 L179.9 543.9 L179.9 547.6 L180.0 551.3 L180.0 555.0 L180.1 558.7 L180.1 562.4 L180.1 566.1 L180.1 569.8 L180.2 573.5 L180.2 577.2 L180.2 580.8 L180.2 584.5 L180.2 588.2 L180.2 591.9 L180.2 595.6 L180.2 599.3 L180.2 603.0 L180.2 606.7 L180.2 610.4 L180.2 614.1 L180.2 617.7 L180.2 621.4 L180.2 625.1 L180.2 628.8 L180.2 632.5 L180.2 636.2" fill="none" stroke="#f0a020" stroke-width="0.75" stroke-opacity="0.8" stroke-dasharray="4 2"/>
<path d="M83.7 388.8 L83.7 390.0 L83.7 391.3 L83.7 392.5 L83.7 393.8 L83.7 395.0 L83.7 396.3 L83.7 397.5 L83.7 398.8 L83.7 400.0 L83.7 401.3 L83.7 402.5 L83.7 403.8 L83.7 405.0 L83.7 406.3 L83.7 407.5 L83.7 408.8 L83.7 410.0 L83.7 411.3 L83.7 412.5 L83.7 413.8 L83.7 415.0 L83.7 416.3 L83.8 417.5 L83.8 418.8 L83.9 420.0 L84.0 421.3 L84.2 422.5 L84.4 423.8 L84.7 425.0 L85.1 426.3 L85.5 427.5 L86.1 428.8 L86.8 430.0 L87.6 431.3 L88.5 432.5 L89.6 433.8 L90.8 435.0 L92.1 436.3 L93.6 437.5 L95.2 438.8 L97.0 440.0 L98.9 441.3 L101.0 442.5 L103.1 443.8 L105.4 445.0 L107.7 446.3 L110.1 447.5 L112.6 448.8 L115.1 450.0 L117.7 451.3 L120.3 452.5 L122.9 453.8 L125.5 455.0 L128.1 456.3 L130.7 457.5 L133.2 458.8 L135.7 460.0 L138.2 461.3 L141.0 462.8 L147.6 466.5 L153.6 470.1 L158.7 473.8 L163.2 477.5 L167.0 481.2 L170.1 484.9 L172.7 488.6 L174.9 492.3 L176.6 496.0 L177.9 499.7 L179.0 503.4 L179.9 507.0 L180.5 510.7 L181.1 514.4 L181.5 518.1 L181.8 521.8 L182.0 525.5 L182.2 529.2 L182.3 532.9 L182.5 536.6 L182.5 540.3 L182.6 543.9 L182.7 547.6 L182.7 551.3 L182.7 555.0 L182.7 558.7 L182.8 562.4 L182.8 566.1 L182.8 569.8 L182.8 573.5 L182.8 577.2 L182.8 580.8 L182.8 584.5 L182.8 588.2 L182.8 591.9 L182.8 595.6 L182.8 599.3 L182.8 603.0 L182.8 606.7 L182.8 610.4 L182.8 614.1 L182.8 617.7 L182.8 621.4 L182.8 625.1 L182.8 628.8 L182.8 632.5 L182.8 636.2" fill="none" stroke="#a040e0" stroke-width="0.75" stroke-opacity="0.8"/>
<path d="M88.0 388.8 L88.0 390.0 L88.0 391.3 L88.0 392.5 L88.0 393.8 L88.0 395.0 L88.0 396.3 L88.0 397.5 L88.0 398.8 L88.0 400.0 L88.0 401.3 L88.0 402.5 L88.0 403.8 L88.0 405.0 L88.0 406.3 L88.0 407.5 L88.0 408.8 L88.0 410.0 L88.0 411.3 L88.1 412.5 L88.1 413.8 L88.2 415.0 L88.2 416.3 L88.3 417.5 L88.5 418.8 L88.7 420.0 L88.9 421.3 L89.2 422.5 L89.6 423.8 L90.1 425.0 L90.7 426.3 L91.4 427.5 L92.2 428.8 L93.1 430.0 L94.1 431.3 L95.2 432.5 L96.5 433.8 L97.9 435.0 L99.4 436.3 L101.0 437.5 L102.7 438.8 L104.5 440.0 L106.5 441.3 L108.5 442.5 L110.5 443.8 L112.7 445.0 L114.9 446.3 L117.1 447.5 L119.4 448.8 L121.7 450.0 L124.0 451.3 L126.3 452.5 L128.6 453.8 L131.0 455.0 L133.3 456.3 L135.5 457.5 L137.8 458.8 L140.0 460.0 L142.1 461.3 L144.6 462.8 L150.5 466.5 L155.8 470.1 L160.6 473.8 L164.8 477.5 L168.5 481.2 L171.7 484.9 L174.4 488.6 L176.6 492.3 L178.6 496.0 L180.2 499.7 L181.5 503.4 L182.6 507.0 L183.5 510.7 L184.3 514.4 L184.9 518.1 L185.4 521.8 L185.8 525.5 L186.1 529.2 L186.4 532.9 L186.6 536.6 L186.8 540.3 L186.9 543.9 L187.0 547.6 L187.1 551.3 L187.2 555.0 L187.2 558.7 L187.3 562.4 L187.3 566.1 L187.4 569.8 L187.4 573.5 L187.4 577.2 L187.4 580.8 L187.4 584.5 L187.4 588.2 L187.5 591.9 L187.5 595.6 L187.5 599.3 L187.5 603.0 L187.5 606.7 L187.5 610.4 L187.5 614.1 L187.5 617.7 L187.5 621.4 L187.5 625.1 L187.5 628.8 L187.5 632.5 L187.5 636.2" fill="none" stroke="#30c830" stroke-width="0.75" stroke-opacity="0.8" stroke-dasharray="1.2 1.8"/>
<path d="M88.6 388.8 L88.6 390.0 L88.6 391.3 L88.6 392.5 L88.6 393.8 L88.6 395.0 L88.6 396.3 L88.6 397.5 L88.6 398.8 L88.6 400.0 L88.6 401.3 L88.6 402.5 L88.6 403.8 L88.6 405.0 L88.6 406.3 L88.6 407.5 L88.6 408.8 L88.6 410.0 L88.6 411.3 L88.6 412.5 L88.7 413.8 L88.7 415.0 L88.8 416.3 L88.9 417.5 L89.0 418.8 L89.2 420.0 L89.4 421.3 L89.8 422.5 L90.1 423.8 L90.6 425.0 L91.2 426.3 L91.9 427.5 L92.6 428.8 L93.5 430.0 L94.6 431.3 L95.7 432.5 L97.0 433.8 L98.4 435.0 L99.9 436.3 L101.5 437.5 L103.2 438.8 L105.1 440.0 L107.0 441.3 L109.0 442.5 L111.1 443.8 L113.3 445.0 L115.5 446.3 L117.8 447.5 L120.1 448.8 L122.4 450.0 L124.8 451.3 L127.2 452.5 L129.5 453.8 L131.9 455.0 L134.2 456.3 L136.5 457.5 L138.8 458.8 L141.0 460.0 L143.2 461.3 L145.8 462.8 L151.7 466.5 L157.2 470.1 L162.0 473.8 L166.3 477.5 L170.0 481.2 L173.2 484.9 L175.9 488.6 L178.2 492.3 L180.2 496.0 L181.8 499.7 L183.1 503.4 L184.2 507.0 L185.1 510.7 L185.9 514.4 L186.5 518.1 L186.9 521.8 L187.3 525.5 L187.7 529.2 L187.9 532.9 L188.1 536.6 L188.3 540.3 L188.4 543.9 L188.5 547.6 L188.6 551.3 L188.7 555.0 L188.8 558.7 L188.8 562.4 L188.8 566.1 L188.9 569.8 L188.9 573.5 L188.9 577.2 L188.9 580.8 L188.9 584.5 L189.0 588.2 L189.0 591.9 L189.0 595.6 L189.0 599.3 L189.0 603.0 L189.0 606.7 L189.0 610.4 L189.0 614.1 L189.0 617.7 L189.0 621.4 L189.0 625.1 L189.0 628.8 L189.0 632.5 L189.0 636.2" fill="none" stroke="#3090e8" stroke-width="0.75" stroke-opacity="0.8"/>
<path d="M73.0 388.8 L73.0 390.0 L73.0 391.3 L73.0 392.5 L73.0 393.8 L73.0 395.0 L73.0 396.3 L73.0 397.5 L73.0 398.8 L73.0 400.0 L73.0 401.3 L73.0 402.5 L73.1 403.8 L73.1 405.0 L73.2 406.3 L73.4 407.5 L73.6 408.8 L73.9 410.0 L74.4 411.3 L75.0 412.5 L75.8 413.8 L76.7 415.0 L77.9 416.3 L79.2 417.5 L80.8 418.8 L82.5 420.0 L84.5 421.3 L86.6 422.5 L88.8 423.8 L91.2 425.0 L93.7 426.3 L96.3 427.5 L98.9 428.8 L101.6 430.0 L104.3 431.3 L107.0 432.5 L109.7 433.8 L112.3 435.0 L114.9 436.3 L117.4 437.5 L119.9 438.8 L122.2 440.0 L124.5 441.3 L126.6 442.5 L128.7 443.8 L130.7 445.0 L132.5 446.3 L134.3 447.5 L135.9 448.8 L137.4 450.0 L138.9 451.3 L140.2 452.5 L141.5 453.8 L142.7 455.0 L143.8 456.3 L144.8 457.5 L145.7 458.8 L146.6 460.0 L147.3 461.3 L148.2 462.8 L150.0 466.5 L151.4 470.1 L152.5 473.8 L153.3 477.5 L153.9 481.2 L154.4 484.9 L154.8 488.6 L155.0 492.3 L155.2 496.0 L155.4 499.7 L155.5 503.4 L155.6 507.0 L155.7 510.7 L155.7 514.4 L155.7 518.1 L155.8 521.8 L155.8 525.5 L155.8 529.2 L155.8 532.9 L155.8 536.6 L155.8 540.3 L155.8 543.9 L155.8 547.6 L155.8 551.3 L155.8 555.0 L155.8 558.7 L155.8 562.4 L155.8 566.1 L155.8 569.8 L155.8 573.5 L155.8 577.2 L155.8 580.8 L155.8 584.5 L155.8 588.2 L155.8 591.9 L155.8 595.6 L155.8 599.3 L155.8 603.0 L155.8 606.7 L155.8 610.4 L155.8 614.1 L155.8 617.7 L155.8 621.4 L155.8 625.1 L155.8 628.8 L155.8 632.5 L155.8 636.2" fill="none" stroke="#20c0c8" stroke-width="0.75" stroke-opacity="0.8"/>
<path d="M84.7 388.8 L84.7 390.0 L84.7 391.3 L84.7 392.5 L84.7 393.8 L84.7 395.0 L84.7 396.3 L84.7 397.5 L84.7 398.8 L84.7 400.0 L84.7 401.3 L84.8 402.5 L84.8 403.8 L84.9 405.0 L84.9 406.3 L85.1 407.5 L85.3 408.8 L85.5 410.0 L85.9 411.3 L86.3 412.5 L86.9 413.8 L87.6 415.0 L88.4 416.3 L89.3 417.5 L90.4 418.8 L91.6 420.0 L92.9 421.3 L94.3 422.5 L95.9 423.8 L97.5 425.0 L99.3 426.3 L101.1 427.5 L103.0 428.8 L104.9 430.0 L106.9 431.3 L108.9 432.5 L111.0 433.8 L113.0 435.0 L115.1 436.3 L117.1 437.5 L119.1 438.8 L121.1 440.0 L123.1 441.3 L125.0 442.5 L126.8 443.8 L128.7 445.0 L130.4 446.3 L132.1 447.5 L133.8 448.8 L135.4 450.0 L136.9 451.3 L138.3 452.5 L139.7 453.8 L141.1 455.0 L142.4 456.3 L143.6 457.5 L144.7 458.8 L145.8 460.0 L146.9 461.3 L148.0 462.8 L150.6 466.5 L152.8 470.1 L154.6 473.8 L156.1 477.5 L157.4 481.2 L158.4 484.9 L159.3 488.6 L160.0 492.3 L160.5 496.0 L161.0 499.7 L161.4 503.4 L161.7 507.0 L161.9 510.7 L162.1 514.4 L162.3 518.1 L162.4 521.8 L162.5 525.5 L162.6 529.2 L162.7 532.9 L162.7 536.6 L162.8 540.3 L162.8 543.9 L162.9 547.6 L162.9 551.3 L162.9 555.0 L162.9 558.7 L162.9 562.4 L162.9 566.1 L163.0 569.8 L163.0 573.5 L163.0 577.2 L163.0 580.8 L163.0 584.5 L163.0 588.2 L163.0 591.9 L163.0 595.6 L163.0 599.3 L163.0 603.0 L163.0 606.7 L163.0 610.4 L163.0 614.1 L163.0 617.7 L163.0 621.4 L163.0 625.1 L163.0 628.8 L163.0 632.5 L163.0 636.2" fill="none" stroke="#d030b0" stroke-width="0.75" stroke-opacity="0.8" stroke-dasharray="1.2 1.8"/>
<path d="M90.7 388.8 L90.7 390.0 L90.7 391.3 L90.7 392.5 L90.7 393.8 L90.8 395.0 L90.8 396.3 L90.8 397.5 L90.8 398.8 L91.0 400.0 L91.2 401.3 L91.6 402.5 L92.1 403.8 L92.9 405.0 L93.9 406.3 L95.1 407.5 L96.7 408.8 L98.5 410.0 L100.6 411.3 L102.9 412.5 L105.4 413.8 L108.1 415.0 L111.0 416.3 L114.0 417.5 L117.0 418.8 L120.1 420.0 L123.2 421.3 L126.3 422.5 L129.4 423.8 L132.4 425.0 L135.3 426.3 L138.1 427.5 L140.8 428.8 L143.4 430.0 L145.8 431.3 L148.2 432.5 L150.4 433.8 L152.4 435.0 L154.4 436.3 L156.2 437.5 L157.9 438.8 L159.5 440.0 L160.9 441.3 L162.3 442.5 L163.5 443.8 L164.7 445.0 L165.8 446.3 L166.8 447.5 L167.7 448.8 L168.5 450.0 L169.3 451.3 L170.0 452.5 L170.6 453.8 L171.2 455.0 L171.7 456.3 L172.2 457.5 L172.7 458.8 L173.1 460.0 L173.5 461.3 L173.9 462.8 L174.7 466.5 L175.3 470.1 L175.8 473.8 L176.2 477.5 L176.4 481.2 L176.6 484.9 L176.8 488.6 L176.9 492.3 L177.0 496.0 L177.1 499.7 L177.1 503.4 L177.2 507.0 L177.2 510.7 L177.2 514.4 L177.2 518.1 L177.3 521.8 L177.3 525.5 L177.3 529.2 L177.3 532.9 L177.3 536.6 L177.3 540.3 L177.3 543.9 L177.3 547.6 L177.3 551.3 L177.3 555.0 L177.3 558.7 L177.3 562.4 L177.3 566.1 L177.3 569.8 L177.3 573.5 L177.3 577.2 L177.3 580.8 L177.3 584.5 L177.3 588.2 L177.3 591.9 L177.3 595.6 L177.3 599.3 L177.3 603.0 L177.3 606.7 L177.3 610.4 L177.3 614.1 L177.3 617.7 L177.3 621.4 L177.3 625.1 L177.3 628.8 L177.3 632.5 L177.3 636.2" fill="none" stroke="#20c0c8" stroke-width="0.75" stroke-opacity="0.8"/>
<path d="M82.6 388.8 L82.6 390.0 L82.6 391.3 L82.6 392.5 L82.6 393.8 L82.6 395.0 L82.6 396.3 L82.6 397.5 L82.6 398.8 L82.6 400.0 L82.6 401.3 L82.6 402.5 L82.6 403.8 L82.6 405.0 L82.7 406.3 L82.8 407.5 L82.9 408.8 L83.0 410.0 L83.2 411.3 L83.5 412.5 L83.8 413.8 L84.2 415.0 L84.6 416.3 L85.2 417.5 L85.8 418.8 L86.5 420.0 L87.2 421.3 L88.1 422.5 L89.1 423.8 L90.1 425.0 L91.2 426.3 L92.4 427.5 L93.7 428.8 L95.0 430.0 L96.4 431.3 L97.9 432.5 L99.5 433.8 L101.1 435.0 L102.7 436.3 L104.4 437.5 L106.1 438.8 L107.8 440.0 L109.6 441.3 L111.4 442.5 L113.2 443.8 L115.0 445.0 L116.8 446.3 L118.7 447.5 L120.5 448.8 L122.3 450.0 L124.1 451.3 L125.9 452.5 L127.6 453.8 L129.4 455.0 L131.1 456.3 L132.8 457.5 L134.5 458.8 L136.1 460.0 L137.8 461.3 L139.7 462.8 L144.1 466.5 L148.3 470.1 L152.1 473.8 L155.7 477.5 L158.9 481.2 L161.8 484.9 L164.5 488.6 L166.9 492.3 L169.0 496.0 L171.0 499.7 L172.7 503.4 L174.2 507.0 L175.6 510.7 L176.8 514.4 L177.9 518.1 L178.9 521.8 L179.7 525.5 L180.5 529.2 L181.2 532.9 L181.8 536.6 L182.3 540.3 L182.8 543.9 L183.2 547.6 L183.6 551.3 L183.9 555.0 L184.2 558.7 L184.4 562.4 L184.6 566.1 L184.8 569.8 L185.0 573.5 L185.2 577.2 L185.3 580.8 L185.4 584.5 L185.6 588.2 L185.7 591.9 L185.7 595.6 L185.8 599.3 L185.9 603.0 L185.9 606.7 L186.0 610.4 L186.0 614.1 L186.1 617.7 L186.1 621.4 L186.2 625.1 L186.2 628.8 L186.2 632.5 L186.2 636.2" fill="none" stroke="#20c0c8" stroke-width="0.75" stroke-opacity="0.8" stroke-dasharray="1.2 1.8"/>
<path d="M85.3 388.8 L85.3 390.0 L85.3 391.3 L85.3 392.5 L85.3 393.8 L85.3 395.0 L85.3 396.3 L85.3 397.5 L85.3 398.8 L85.3 400.0 L85.3 401.3 L85.3 402.5 L85.3 403.8 L85.3 405.0 L85.4 406.3 L85.4 407.5 L85.5 408.8 L85.5 410.0 L85.6 411.3 L85.8 412.5 L85.9 413.8 L86.1 415.0 L86.4 416.3 L86.7 417.5 L87.0 418.8 L87.4 420.0 L87.8 421.3 L88.3 422.5 L88.8 423.8 L89.4 425.0 L90.0 426.3 L90.6 427.5 L91.3 428.8 L92.1 430.0 L92.9 431.3 L93.7 432.5 L94.6 433.8 L95.4 435.0 L96.4 436.3 L97.3 437.5 L98.3 438.8 L99.3 440.0 L100.3 441.3 L101.3 442.5 L102.3 443.8 L103.3 445.0 L104.3 446.3 L105.4 447.5 L106.4 448.8 L107.4 450.0 L108.5 451.3 L109.5 452.5 L110.5 453.8 L111.5 455.0 L112.4 456.3 L113.4 457.5 L114.4 458.8 L115.3 460.0 L116.2 461.3 L117.3 462.8 L119.8 466.5 L122.2 470.1 L124.4 473.8 L126.4 477.5 L128.2 481.2 L129.8 484.9 L131.3 488.6 L132.7 492.3 L133.9 496.0 L135.0 499.7 L135.9 503.4 L136.8 507.0 L137.5 510.7 L138.2 514.4 L138.8 518.1 L139.4 521.8 L139.8 525.5 L140.2 529.2 L140.6 532.9 L140.9 536.6 L141.2 540.3 L141.5 543.9 L141.7 547.6 L141.9 551.3 L142.1 555.0 L142.2 558.7 L142.4 562.4 L142.5 566.1 L142.6 569.8 L142.7 573.5 L142.8 577.2 L142.9 580.8 L142.9 584.5 L143.0 588.2 L143.0 591.9 L143.1 595.6 L143.1 599.3 L143.1 603.0 L143.2 606.7 L143.2 610.4 L143.2 614.1 L143.3 617.7 L143.3 621.4 L143.3 625.1 L143.3 628.8 L143.3 632.5 L143.3 636.2" fill="none" stroke="#2a7a2a" stroke-width="0.75" stroke-opacity="0.8"/>
<path d="M92.7 388.8 L92.7 389.8 L92.7 390.7 L92.7 391.7 L92.7 392.7 L92.7 393.7 L92.7 394.6 L92.7 395.6 L92.7 396.6 L92.7 397.6 L92.7 398.5 L92.7 399.5 L92.7 400.5 L92.7 401.5 L92.7 402.4 L92.7 403.4 L92.7 404.4 L92.7 405.4 L92.8 406.3 L92.9 407.3 L93.1 408.3 L93.2 409.3 L93.4 410.2 L93.5 411.2 L93.8 412.2 L94.1 413.2 L94.4 414.1 L94.8 415.1 L95.3 416.1 L95.7 417.1 L96.2 418.0 L96.9 419.0 L97.5 420.0 L98.2 420.9 L99.0 421.9 L99.7 422.9 L100.5 423.9 L101.3 424.8 L102.2 425.8 L103.0 426.8 L103.9 427.8 L104.8 428.7 L105.8 429.7 L106.8 430.7 L107.7 431.7 L108.8 432.6 L109.8 433.6 L111.0 434.6 L112.1 435.6 L113.3 436.5 L114.5 437.5 L115.6 438.5 L116.8 439.5 L117.9 440.4 L119.2 441.4 L120.5 442.4 L121.9 443.4 L123.3 444.3 L124.7 445.3 L126.1 446.3 L127.5 447.3 L131.8 450.5 L135.7 453.7 L139.3 456.9 L142.5 460.1 L145.2 463.3 L147.5 466.5 L149.5 469.7 L151.5 472.9 L153.5 476.1 L155.3 479.3 L156.7 482.5 L157.9 485.7 L159.1 488.9 L160.4 492.1 L161.8 495.3 L163.2 498.5 L164.4 501.7 L165.5 504.9 L166.4 508.1 L167.3 511.3 L168.2 514.5 L168.9 517.7 L169.6 520.9 L170.3 524.1 L170.9 527.3 L171.5 530.5 L171.9 533.7 L172.3 536.9 L172.7 540.1 L173.1 543.3 L173.4 546.5 L173.6 549.7 L173.9 552.9 L174.1 556.1 L174.3 559.3 L174.5 562.6 L174.7 565.8 L174.8 569.0 L175.0 572.2 L175.1 575.4 L175.2 578.6 L175.2 581.8 L175.3 585.0 L175.4 588.2 L175.4 591.4 L175.4 594.6 L175.5 597.8 L175.5 601.0 L175.6 604.2 L175.6 607.4 L175.6 610.6 L175.7 613.8 L175.7 617.0 L175.7 620.2 L175.8 623.4 L175.8 626.6 L175.8 629.8 L175.8 633.0 L175.9 636.2" fill="none" stroke="#000" stroke-width="2.6" stroke-linejoin="round" stroke-linecap="round"/>
</g>
<g stroke="#111" stroke-width="1.3" fill="none">
<rect x="59.3" y="386.3" width="250.3" height="249.9"/>
<line x1="59.3" y1="386.3" x2="59.3" y2="380.3"/>
<line x1="59.3" y1="636.2" x2="59.3" y2="642.2"/>
<line x1="66.5" y1="386.3" x2="66.5" y2="383.0"/>
<line x1="66.5" y1="636.2" x2="66.5" y2="639.5"/>
<line x1="73.6" y1="386.3" x2="73.6" y2="383.0"/>
<line x1="73.6" y1="636.2" x2="73.6" y2="639.5"/>
<line x1="80.8" y1="386.3" x2="80.8" y2="383.0"/>
<line x1="80.8" y1="636.2" x2="80.8" y2="639.5"/>
<line x1="87.9" y1="386.3" x2="87.9" y2="383.0"/>
<line x1="87.9" y1="636.2" x2="87.9" y2="639.5"/>
<line x1="95.1" y1="386.3" x2="95.1" y2="380.3"/>
<line x1="95.1" y1="636.2" x2="95.1" y2="642.2"/>
<line x1="102.2" y1="386.3" x2="102.2" y2="383.0"/>
<line x1="102.2" y1="636.2" x2="102.2" y2="639.5"/>
<line x1="109.4" y1="386.3" x2="109.4" y2="383.0"/>
<line x1="109.4" y1="636.2" x2="109.4" y2="639.5"/>
<line x1="116.5" y1="386.3" x2="116.5" y2="383.0"/>
<line x1="116.5" y1="636.2" x2="116.5" y2="639.5"/>
<line x1="123.7" y1="386.3" x2="123.7" y2="383.0"/>
<line x1="123.7" y1="636.2" x2="123.7" y2="639.5"/>
<line x1="130.8" y1="386.3" x2="130.8" y2="380.3"/>
<line x1="130.8" y1="636.2" x2="130.8" y2="642.2"/>
<line x1="138.0" y1="386.3" x2="138.0" y2="383.0"/>
<line x1="138.0" y1="636.2" x2="138.0" y2="639.5"/>
<line x1="145.1" y1="386.3" x2="145.1" y2="383.0"/>
<line x1="145.1" y1="636.2" x2="145.1" y2="639.5"/>
<line x1="152.3" y1="386.3" x2="152.3" y2="383.0"/>
<line x1="152.3" y1="636.2" x2="152.3" y2="639.5"/>
<line x1="159.4" y1="386.3" x2="159.4" y2="383.0"/>
<line x1="159.4" y1="636.2" x2="159.4" y2="639.5"/>
<line x1="166.6" y1="386.3" x2="166.6" y2="380.3"/>
<line x1="166.6" y1="636.2" x2="166.6" y2="642.2"/>
<line x1="173.7" y1="386.3" x2="173.7" y2="383.0"/>
<line x1="173.7" y1="636.2" x2="173.7" y2="639.5"/>
<line x1="180.9" y1="386.3" x2="180.9" y2="383.0"/>
<line x1="180.9" y1="636.2" x2="180.9" y2="639.5"/>
<line x1="188.0" y1="386.3" x2="188.0" y2="383.0"/>
<line x1="188.0" y1="636.2" x2="188.0" y2="639.5"/>
<line x1="195.2" y1="386.3" x2="195.2" y2="383.0"/>
<line x1="195.2" y1="636.2" x2="195.2" y2="639.5"/>
<line x1="202.3" y1="386.3" x2="202.3" y2="380.3"/>
<line x1="202.3" y1="636.2" x2="202.3" y2="642.2"/>
<line x1="209.5" y1="386.3" x2="209.5" y2="383.0"/>
<line x1="209.5" y1="636.2" x2="209.5" y2="639.5"/>
<line x1="216.6" y1="386.3" x2="216.6" y2="383.0"/>
<line x1="216.6" y1="636.2" x2="216.6" y2="639.5"/>
<line x1="223.8" y1="386.3" x2="223.8" y2="383.0"/>
<line x1="223.8" y1="636.2" x2="223.8" y2="639.5"/>
<line x1="230.9" y1="386.3" x2="230.9" y2="383.0"/>
<line x1="230.9" y1="636.2" x2="230.9" y2="639.5"/>
<line x1="238.1" y1="386.3" x2="238.1" y2="380.3"/>
<line x1="238.1" y1="636.2" x2="238.1" y2="642.2"/>
<line x1="245.2" y1="386.3" x2="245.2" y2="383.0"/>
<line x1="245.2" y1="636.2" x2="245.2" y2="639.5"/>
<line x1="252.4" y1="386.3" x2="252.4" y2="383.0"/>
<line x1="252.4" y1="636.2" x2="252.4" y2="639.5"/>
<line x1="259.5" y1="386.3" x2="259.5" y2="383.0"/>
<line x1="259.5" y1="636.2" x2="259.5" y2="639.5"/>
<line x1="266.7" y1="386.3" x2="266.7" y2="383.0"/>
<line x1="266.7" y1="636.2" x2="266.7" y2="639.5"/>
<line x1="273.8" y1="386.3" x2="273.8" y2="380.3"/>
<line x1="273.8" y1="636.2" x2="273.8" y2="642.2"/>
<line x1="281.0" y1="386.3" x2="281.0" y2="383.0"/>
<line x1="281.0" y1="636.2" x2="281.0" y2="639.5"/>
<line x1="288.1" y1="386.3" x2="288.1" y2="383.0"/>
<line x1="288.1" y1="636.2" x2="288.1" y2="639.5"/>
<line x1="295.3" y1="386.3" x2="295.3" y2="383.0"/>
<line x1="295.3" y1="636.2" x2="295.3" y2="639.5"/>
<line x1="302.4" y1="386.3" x2="302.4" y2="383.0"/>
<line x1="302.4" y1="636.2" x2="302.4" y2="639.5"/>
<line x1="309.6" y1="386.3" x2="309.6" y2="380.3"/>
<line x1="309.6" y1="636.2" x2="309.6" y2="642.2"/>
<line x1="59.3" y1="386.3" x2="52.8" y2="386.3"/>
<line x1="309.6" y1="386.3" x2="316.1" y2="386.3"/>
<line x1="59.3" y1="396.3" x2="56.0" y2="396.3"/>
<line x1="309.6" y1="396.3" x2="312.90000000000003" y2="396.3"/>
<line x1="59.3" y1="406.3" x2="56.0" y2="406.3"/>
<line x1="309.6" y1="406.3" x2="312.90000000000003" y2="406.3"/>
<line x1="59.3" y1="416.3" x2="56.0" y2="416.3"/>
<line x1="309.6" y1="416.3" x2="312.90000000000003" y2="416.3"/>
<line x1="59.3" y1="426.3" x2="56.0" y2="426.3"/>
<line x1="309.6" y1="426.3" x2="312.90000000000003" y2="426.3"/>
<line x1="59.3" y1="436.3" x2="52.8" y2="436.3"/>
<line x1="309.6" y1="436.3" x2="316.1" y2="436.3"/>
<line x1="59.3" y1="446.3" x2="56.0" y2="446.3"/>
<line x1="309.6" y1="446.3" x2="312.90000000000003" y2="446.3"/>
<line x1="59.3" y1="456.3" x2="56.0" y2="456.3"/>
<line x1="309.6" y1="456.3" x2="312.90000000000003" y2="456.3"/>
<line x1="59.3" y1="466.3" x2="56.0" y2="466.3"/>
<line x1="309.6" y1="466.3" x2="312.90000000000003" y2="466.3"/>
<line x1="59.3" y1="476.3" x2="56.0" y2="476.3"/>
<line x1="309.6" y1="476.3" x2="312.90000000000003" y2="476.3"/>
<line x1="59.3" y1="486.3" x2="52.8" y2="486.3"/>
<line x1="309.6" y1="486.3" x2="316.1" y2="486.3"/>
<line x1="59.3" y1="496.3" x2="56.0" y2="496.3"/>
<line x1="309.6" y1="496.3" x2="312.90000000000003" y2="496.3"/>
<line x1="59.3" y1="506.3" x2="56.0" y2="506.3"/>
<line x1="309.6" y1="506.3" x2="312.90000000000003" y2="506.3"/>
<line x1="59.3" y1="516.2" x2="56.0" y2="516.2"/>
<line x1="309.6" y1="516.2" x2="312.90000000000003" y2="516.2"/>
<line x1="59.3" y1="526.2" x2="56.0" y2="526.2"/>
<line x1="309.6" y1="526.2" x2="312.90000000000003" y2="526.2"/>
<line x1="59.3" y1="536.2" x2="52.8" y2="536.2"/>
<line x1="309.6" y1="536.2" x2="316.1" y2="536.2"/>
<line x1="59.3" y1="546.2" x2="56.0" y2="546.2"/>
<line x1="309.6" y1="546.2" x2="312.90000000000003" y2="546.2"/>
<line x1="59.3" y1="556.2" x2="56.0" y2="556.2"/>
<line x1="309.6" y1="556.2" x2="312.90000000000003" y2="556.2"/>
<line x1="59.3" y1="566.2" x2="56.0" y2="566.2"/>
<line x1="309.6" y1="566.2" x2="312.90000000000003" y2="566.2"/>
<line x1="59.3" y1="576.2" x2="56.0" y2="576.2"/>
<line x1="309.6" y1="576.2" x2="312.90000000000003" y2="576.2"/>
<line x1="59.3" y1="586.2" x2="52.8" y2="586.2"/>
<line x1="309.6" y1="586.2" x2="316.1" y2="586.2"/>
<line x1="59.3" y1="596.2" x2="56.0" y2="596.2"/>
<line x1="309.6" y1="596.2" x2="312.90000000000003" y2="596.2"/>
<line x1="59.3" y1="606.2" x2="56.0" y2="606.2"/>
<line x1="309.6" y1="606.2" x2="312.90000000000003" y2="606.2"/>
<line x1="59.3" y1="616.2" x2="56.0" y2="616.2"/>
<line x1="309.6" y1="616.2" x2="312.90000000000003" y2="616.2"/>
<line x1="59.3" y1="626.2" x2="56.0" y2="626.2"/>
<line x1="309.6" y1="626.2" x2="312.90000000000003" y2="626.2"/>
<line x1="59.3" y1="636.2" x2="52.8" y2="636.2"/>
<line x1="309.6" y1="636.2" x2="316.1" y2="636.2"/>
</g>
<g font-family='"Liberation Sans", sans-serif' font-size="14" fill="#111">
<text x="60.5" y="659.2" text-anchor="middle">−2</text>
<text x="96.3" y="659.2" text-anchor="middle">−1</text>
<text x="132.0" y="659.2" text-anchor="middle">0</text>
<text x="167.8" y="659.2" text-anchor="middle">1</text>
<text x="203.5" y="659.2" text-anchor="middle">2</text>
<text x="239.3" y="659.2" text-anchor="middle">3</text>
<text x="275.0" y="659.2" text-anchor="middle">4</text>
<text x="310.8" y="659.2" text-anchor="middle">5</text>
<text x="46.8" y="391.1" text-anchor="end">0</text>
<text x="46.8" y="441.1" text-anchor="end">100</text>
<text x="46.8" y="491.1" text-anchor="end">200</text>
<text x="46.8" y="541.0" text-anchor="end">300</text>
<text x="46.8" y="591.0" text-anchor="end">400</text>
<text x="46.8" y="641.0" text-anchor="end">500</text>
</g>
<g stroke="#333" stroke-width="0.9" stroke-dasharray="3 3" fill="none">
<line x1="427.7" y1="202.8" x2="675.3" y2="202.8"/>
<line x1="551.5" y1="37.7" x2="551.5" y2="285.4"/>
</g>
<line x1="448.4" y1="90.0" x2="652.2" y2="226.9" stroke="#222" stroke-width="1"/>
<rect x="446.30" y="68.60" width="4.80" height="4.80" fill="none" stroke="#f07a1a" stroke-width="1.3"/>
<path d="M499.00 100.30 L504.40 105.70 M499.00 105.70 L504.40 100.30" fill="none" stroke="#20c8c8" stroke-width="1.4"/>
<path d="M524.90 97.70 L527.35 102.30 L522.45 102.30 Z" fill="none" stroke="#e0202a" stroke-width="1.3" stroke-linejoin="miter"/>
<rect x="537.70" y="89.90" width="4.80" height="4.80" fill="none" stroke="#30d030" stroke-width="1.3"/>
<path d="M507.50 124.10 L512.90 129.50 M507.50 129.50 L512.90 124.10" fill="none" stroke="#2a8a2a" stroke-width="1.4"/>
<path d="M532.80 124.70 L538.20 130.10 M532.80 130.10 L538.20 124.70" fill="none" stroke="#e040b0" stroke-width="1.4"/>
<rect x="537.20" y="142.40" width="4.80" height="4.80" fill="none" stroke="#3090f0" stroke-width="1.3"/>
<path d="M548.90 144.20 L554.30 149.60 M548.90 149.60 L554.30 144.20" fill="none" stroke="#20c8c8" stroke-width="1.4"/>
<path d="M522.00 158.30 L524.45 162.90 L519.55 162.90 Z" fill="none" stroke="#b040e0" stroke-width="1.3" stroke-linejoin="miter"/>
<path d="M554.00 56.20 L559.40 61.60 M554.00 61.60 L559.40 56.20" fill="none" stroke="#1830e0" stroke-width="1.4"/>
<path d="M558.80 70.20 L564.20 75.60 M558.80 75.60 L564.20 70.20" fill="none" stroke="#1830e0" stroke-width="1.4"/>
<rect x="552.80" y="93.60" width="4.80" height="4.80" fill="none" stroke="#20c8c8" stroke-width="1.3"/>
<rect x="567.20" y="123.20" width="4.80" height="4.80" fill="none" stroke="#2a8a2a" stroke-width="1.3"/>
<path d="M551.60 150.70 L557.00 156.10 M551.60 156.10 L557.00 150.70" fill="none" stroke="#f07a1a" stroke-width="1.4"/>
<path d="M566.00 153.90 L568.45 158.50 L563.55 158.50 Z" fill="none" stroke="#2a8a2a" stroke-width="1.3" stroke-linejoin="miter"/>
<circle cx="580.50" cy="143.40" r="2.45" fill="none" stroke="#e040b0" stroke-width="1.3"/>
<path d="M586.30 147.20 L591.70 152.60 M586.30 152.60 L591.70 147.20" fill="none" stroke="#30d030" stroke-width="1.4"/>
<path d="M578.70 147.70 L584.10 153.10 M578.70 153.10 L584.10 147.70" fill="none" stroke="#f0a020" stroke-width="1.4"/>
<circle cx="587.60" cy="151.60" r="2.45" fill="none" stroke="#e040b0" stroke-width="1.3"/>
<rect x="584.50" y="144.50" width="4.80" height="4.80" fill="none" stroke="#2a1a9a" stroke-width="1.3"/>
<path d="M598.00 145.40 L603.40 150.80 M598.00 150.80 L603.40 145.40" fill="none" stroke="#3090f0" stroke-width="1.4"/>
<circle cx="577.90" cy="157.40" r="2.45" fill="none" stroke="#3090f0" stroke-width="1.3"/>
<circle cx="593.70" cy="158.60" r="2.45" fill="none" stroke="#8030c8" stroke-width="1.3"/>
<path d="M580.30 163.10 L585.70 168.50 M580.30 168.50 L585.70 163.10" fill="none" stroke="#f07a1a" stroke-width="1.4"/>
<path d="M592.80 165.50 L595.25 170.10 L590.35 170.10 Z" fill="none" stroke="#20c8c8" stroke-width="1.3" stroke-linejoin="miter"/>
<path d="M553.50 165.40 L558.90 170.80 M553.50 170.80 L558.90 165.40" fill="none" stroke="#20c8c8" stroke-width="1.4"/>
<circle cx="588.10" cy="171.20" r="2.45" fill="none" stroke="#8030c8" stroke-width="1.3"/>
<circle cx="585.90" cy="175.40" r="2.45" fill="none" stroke="#f07a1a" stroke-width="1.3"/>
<circle cx="582.30" cy="175.80" r="2.45" fill="none" stroke="#f07a1a" stroke-width="1.3"/>
<circle cx="580.00" cy="174.50" r="2.45" fill="none" stroke="#2a1a9a" stroke-width="1.3"/>
<path d="M606.80 170.20 L612.20 175.60 M606.80 175.60 L612.20 170.20" fill="none" stroke="#f0a020" stroke-width="1.4"/>
<circle cx="603.50" cy="181.00" r="2.45" fill="none" stroke="#8030c8" stroke-width="1.3"/>
<rect x="542.90" y="174.60" width="4.80" height="4.80" fill="none" stroke="#f0a020" stroke-width="1.3"/>
<path d="M559.00 168.30 L564.40 173.70 M559.00 173.70 L564.40 168.30" fill="none" stroke="#f0a020" stroke-width="1.4"/>
<path d="M562.30 169.00 L567.70 174.40 M562.30 174.40 L567.70 169.00" fill="none" stroke="#30d030" stroke-width="1.4"/>
<path d="M565.80 173.10 L568.25 177.70 L563.35 177.70 Z" fill="none" stroke="#30d030" stroke-width="1.3" stroke-linejoin="miter"/>
<path d="M561.00 180.00 L563.45 184.60 L558.55 184.60 Z" fill="none" stroke="#2a8a2a" stroke-width="1.3" stroke-linejoin="miter"/>
<path d="M565.80 180.00 L568.25 184.60 L563.35 184.60 Z" fill="none" stroke="#2a8a2a" stroke-width="1.3" stroke-linejoin="miter"/>
<path d="M537.60 181.00 L543.00 186.40 M537.60 186.40 L543.00 181.00" fill="none" stroke="#e040b0" stroke-width="1.4"/>
<circle cx="544.30" cy="182.50" r="2.45" fill="none" stroke="#20c8c8" stroke-width="1.3"/>
<path d="M545.10 185.10 L547.55 189.70 L542.65 189.70 Z" fill="none" stroke="#e040b0" stroke-width="1.3" stroke-linejoin="miter"/>
<path d="M552.30 190.50 L554.75 195.10 L549.85 195.10 Z" fill="none" stroke="#1830e0" stroke-width="1.3" stroke-linejoin="miter"/>
<rect x="543.40" y="199.70" width="4.80" height="4.80" fill="none" stroke="#e040b0" stroke-width="1.3"/>
<path d="M555.80 198.30 L558.25 202.90 L553.35 202.90 Z" fill="none" stroke="#2a8a2a" stroke-width="1.3" stroke-linejoin="miter"/>
<path d="M555.10 203.60 L560.50 209.00 M555.10 209.00 L560.50 203.60" fill="none" stroke="#8030c8" stroke-width="1.4"/>
<rect x="562.00" y="197.30" width="4.80" height="4.80" fill="none" stroke="#8030c8" stroke-width="1.3"/>
<circle cx="566.00" cy="196.00" r="2.45" fill="none" stroke="#f07a1a" stroke-width="1.3"/>
<path d="M573.50 190.30 L575.95 194.90 L571.05 194.90 Z" fill="none" stroke="#2a8a2a" stroke-width="1.3" stroke-linejoin="miter"/>
<path d="M577.90 191.80 L580.35 196.40 L575.45 196.40 Z" fill="none" stroke="#2a8a2a" stroke-width="1.3" stroke-linejoin="miter"/>
<path d="M572.80 194.60 L575.25 199.20 L570.35 199.20 Z" fill="none" stroke="#3090f0" stroke-width="1.3" stroke-linejoin="miter"/>
<rect x="567.40" y="200.90" width="4.80" height="4.80" fill="none" stroke="#3090f0" stroke-width="1.3"/>
<rect x="569.10" y="200.90" width="4.80" height="4.80" fill="none" stroke="#30d030" stroke-width="1.3"/>
<rect x="571.60" y="200.90" width="4.80" height="4.80" fill="none" stroke="#30d030" stroke-width="1.3"/>
<path d="M576.60 200.60 L582.00 206.00 M576.60 206.00 L582.00 200.60" fill="none" stroke="#e040b0" stroke-width="1.4"/>
<circle cx="582.30" cy="190.80" r="2.45" fill="none" stroke="#e0202a" stroke-width="1.3"/>
<circle cx="569.40" cy="181.30" r="2.45" fill="none" stroke="#3090f0" stroke-width="1.3"/>
<circle cx="571.00" cy="182.40" r="2.45" fill="none" stroke="#20c8c8" stroke-width="1.3"/>
<circle cx="575.70" cy="180.50" r="2.45" fill="none" stroke="#e040b0" stroke-width="1.3"/>
<circle cx="576.00" cy="185.00" r="2.45" fill="none" stroke="#e0202a" stroke-width="1.3"/>
<circle cx="576.40" cy="187.30" r="2.45" fill="none" stroke="#e0202a" stroke-width="1.3"/>
<circle cx="572.00" cy="187.90" r="2.45" fill="none" stroke="#f07a1a" stroke-width="1.3"/>
<rect x="596.80" y="192.30" width="4.80" height="4.80" fill="none" stroke="#e0202a" stroke-width="1.3"/>
<path d="M584.70 201.30 L590.10 206.70 M584.70 206.70 L590.10 201.30" fill="none" stroke="#f07a1a" stroke-width="1.4"/>
<circle cx="585.20" cy="209.00" r="2.45" fill="none" stroke="#8030c8" stroke-width="1.3"/>
<circle cx="596.80" cy="205.00" r="2.45" fill="none" stroke="#f0a020" stroke-width="1.3"/>
<path d="M577.30 213.10 L579.75 217.70 L574.85 217.70 Z" fill="none" stroke="#30d030" stroke-width="1.3" stroke-linejoin="miter"/>
<path d="M600.90 214.80 L603.35 219.40 L598.45 219.40 Z" fill="none" stroke="#20c8c8" stroke-width="1.3" stroke-linejoin="miter"/>
<circle cx="621.80" cy="166.60" r="2.45" fill="none" stroke="#2a8a2a" stroke-width="1.3"/>
<circle cx="617.70" cy="200.60" r="2.45" fill="none" stroke="#30d030" stroke-width="1.3"/>
<path d="M642.40 219.60 L647.80 225.00 M642.40 225.00 L647.80 219.60" fill="none" stroke="#e0202a" stroke-width="1.4"/>
<path d="M652.80 222.50 L655.25 227.10 L650.35 227.10 Z" fill="none" stroke="#20c8c8" stroke-width="1.3" stroke-linejoin="miter"/>
<path d="M610.20 247.40 L615.60 252.80 M610.20 252.80 L615.60 247.40" fill="none" stroke="#f07a1a" stroke-width="1.4"/>
<path d="M520.00 144.20 L520.00 155.80 M514.00 146.10 L526.00 153.90 M514.00 153.90 L526.00 146.10" stroke="#000" stroke-width="1.9" fill="none"/>
<circle cx="572.7" cy="172.3" r="5.6" fill="#000"/>
<g stroke="#111" stroke-width="1.3" fill="none">
<rect x="427.7" y="37.7" width="247.6" height="247.7"/>
<line x1="427.7" y1="37.7" x2="427.7" y2="31.700000000000003"/>
<line x1="427.7" y1="285.4" x2="427.7" y2="291.4"/>
<line x1="436.0" y1="37.7" x2="436.0" y2="34.400000000000006"/>
<line x1="436.0" y1="285.4" x2="436.0" y2="288.7"/>
<line x1="444.2" y1="37.7" x2="444.2" y2="34.400000000000006"/>
<line x1="444.2" y1="285.4" x2="444.2" y2="288.7"/>
<line x1="452.5" y1="37.7" x2="452.5" y2="34.400000000000006"/>
<line x1="452.5" y1="285.4" x2="452.5" y2="288.7"/>
<line x1="460.7" y1="37.7" x2="460.7" y2="34.400000000000006"/>
<line x1="460.7" y1="285.4" x2="460.7" y2="288.7"/>
<line x1="469.0" y1="37.7" x2="469.0" y2="31.700000000000003"/>
<line x1="469.0" y1="285.4" x2="469.0" y2="291.4"/>
<line x1="477.2" y1="37.7" x2="477.2" y2="34.400000000000006"/>
<line x1="477.2" y1="285.4" x2="477.2" y2="288.7"/>
<line x1="485.5" y1="37.7" x2="485.5" y2="34.400000000000006"/>
<line x1="485.5" y1="285.4" x2="485.5" y2="288.7"/>
<line x1="493.7" y1="37.7" x2="493.7" y2="34.400000000000006"/>
<line x1="493.7" y1="285.4" x2="493.7" y2="288.7"/>
<line x1="502.0" y1="37.7" x2="502.0" y2="34.400000000000006"/>
<line x1="502.0" y1="285.4" x2="502.0" y2="288.7"/>
<line x1="510.2" y1="37.7" x2="510.2" y2="31.700000000000003"/>
<line x1="510.2" y1="285.4" x2="510.2" y2="291.4"/>
<line x1="518.5" y1="37.7" x2="518.5" y2="34.400000000000006"/>
<line x1="518.5" y1="285.4" x2="518.5" y2="288.7"/>
<line x1="526.7" y1="37.7" x2="526.7" y2="34.400000000000006"/>
<line x1="526.7" y1="285.4" x2="526.7" y2="288.7"/>
<line x1="535.0" y1="37.7" x2="535.0" y2="34.400000000000006"/>
<line x1="535.0" y1="285.4" x2="535.0" y2="288.7"/>
<line x1="543.2" y1="37.7" x2="543.2" y2="34.400000000000006"/>
<line x1="543.2" y1="285.4" x2="543.2" y2="288.7"/>
<line x1="551.5" y1="37.7" x2="551.5" y2="31.700000000000003"/>
<line x1="551.5" y1="285.4" x2="551.5" y2="291.4"/>
<line x1="559.8" y1="37.7" x2="559.8" y2="34.400000000000006"/>
<line x1="559.8" y1="285.4" x2="559.8" y2="288.7"/>
<line x1="568.0" y1="37.7" x2="568.0" y2="34.400000000000006"/>
<line x1="568.0" y1="285.4" x2="568.0" y2="288.7"/>
<line x1="576.3" y1="37.7" x2="576.3" y2="34.400000000000006"/>
<line x1="576.3" y1="285.4" x2="576.3" y2="288.7"/>
<line x1="584.5" y1="37.7" x2="584.5" y2="34.400000000000006"/>
<line x1="584.5" y1="285.4" x2="584.5" y2="288.7"/>
<line x1="592.8" y1="37.7" x2="592.8" y2="31.700000000000003"/>
<line x1="592.8" y1="285.4" x2="592.8" y2="291.4"/>
<line x1="601.0" y1="37.7" x2="601.0" y2="34.400000000000006"/>
<line x1="601.0" y1="285.4" x2="601.0" y2="288.7"/>
<line x1="609.3" y1="37.7" x2="609.3" y2="34.400000000000006"/>
<line x1="609.3" y1="285.4" x2="609.3" y2="288.7"/>
<line x1="617.5" y1="37.7" x2="617.5" y2="34.400000000000006"/>
<line x1="617.5" y1="285.4" x2="617.5" y2="288.7"/>
<line x1="625.8" y1="37.7" x2="625.8" y2="34.400000000000006"/>
<line x1="625.8" y1="285.4" x2="625.8" y2="288.7"/>
<line x1="634.0" y1="37.7" x2="634.0" y2="31.700000000000003"/>
<line x1="634.0" y1="285.4" x2="634.0" y2="291.4"/>
<line x1="642.3" y1="37.7" x2="642.3" y2="34.400000000000006"/>
<line x1="642.3" y1="285.4" x2="642.3" y2="288.7"/>
<line x1="650.5" y1="37.7" x2="650.5" y2="34.400000000000006"/>
<line x1="650.5" y1="285.4" x2="650.5" y2="288.7"/>
<line x1="658.8" y1="37.7" x2="658.8" y2="34.400000000000006"/>
<line x1="658.8" y1="285.4" x2="658.8" y2="288.7"/>
<line x1="667.0" y1="37.7" x2="667.0" y2="34.400000000000006"/>
<line x1="667.0" y1="285.4" x2="667.0" y2="288.7"/>
<line x1="675.3" y1="37.7" x2="675.3" y2="31.700000000000003"/>
<line x1="675.3" y1="285.4" x2="675.3" y2="291.4"/>
<line x1="427.7" y1="285.4" x2="424.4" y2="285.4"/>
<line x1="675.3" y1="285.4" x2="678.5999999999999" y2="285.4"/>
<line x1="427.7" y1="268.9" x2="424.4" y2="268.9"/>
<line x1="675.3" y1="268.9" x2="678.5999999999999" y2="268.9"/>
<line x1="427.7" y1="252.4" x2="421.2" y2="252.4"/>
<line x1="675.3" y1="252.4" x2="681.8" y2="252.4"/>
<line x1="427.7" y1="235.9" x2="424.4" y2="235.9"/>
<line x1="675.3" y1="235.9" x2="678.5999999999999" y2="235.9"/>
<line x1="427.7" y1="219.3" x2="424.4" y2="219.3"/>
<line x1="675.3" y1="219.3" x2="678.5999999999999" y2="219.3"/>
<line x1="427.7" y1="202.8" x2="421.2" y2="202.8"/>
<line x1="675.3" y1="202.8" x2="681.8" y2="202.8"/>
<line x1="427.7" y1="186.3" x2="424.4" y2="186.3"/>
<line x1="675.3" y1="186.3" x2="678.5999999999999" y2="186.3"/>
<line x1="427.7" y1="169.8" x2="424.4" y2="169.8"/>
<line x1="675.3" y1="169.8" x2="678.5999999999999" y2="169.8"/>
<line x1="427.7" y1="153.3" x2="421.2" y2="153.3"/>
<line x1="675.3" y1="153.3" x2="681.8" y2="153.3"/>
<line x1="427.7" y1="136.8" x2="424.4" y2="136.8"/>
<line x1="675.3" y1="136.8" x2="678.5999999999999" y2="136.8"/>
<line x1="427.7" y1="120.3" x2="424.4" y2="120.3"/>
<line x1="675.3" y1="120.3" x2="678.5999999999999" y2="120.3"/>
<line x1="427.7" y1="103.8" x2="421.2" y2="103.8"/>
<line x1="675.3" y1="103.8" x2="681.8" y2="103.8"/>
<line x1="427.7" y1="87.2" x2="424.4" y2="87.2"/>
<line x1="675.3" y1="87.2" x2="678.5999999999999" y2="87.2"/>
<line x1="427.7" y1="70.7" x2="424.4" y2="70.7"/>
<line x1="675.3" y1="70.7" x2="678.5999999999999" y2="70.7"/>
<line x1="427.7" y1="54.2" x2="421.2" y2="54.2"/>
<line x1="675.3" y1="54.2" x2="681.8" y2="54.2"/>
<line x1="427.7" y1="37.7" x2="424.4" y2="37.7"/>
<line x1="675.3" y1="37.7" x2="678.5999999999999" y2="37.7"/>
</g>
<g font-family='"Liberation Sans", sans-serif' font-size="14" fill="#111">
<text x="427.7" y="308.4" text-anchor="middle">−1.5</text>
<text x="469.0" y="308.4" text-anchor="middle">−1.0</text>
<text x="510.2" y="308.4" text-anchor="middle">−0.5</text>
<text x="551.5" y="308.4" text-anchor="middle">0.0</text>
<text x="592.8" y="308.4" text-anchor="middle">0.5</text>
<text x="634.0" y="308.4" text-anchor="middle">1.0</text>
<text x="675.3" y="308.4" text-anchor="middle">1.5</text>
<text x="415.2" y="257.2" text-anchor="end">−0.03</text>
<text x="415.2" y="207.6" text-anchor="end">0.00</text>
<text x="415.2" y="158.1" text-anchor="end">0.03</text>
<text x="415.2" y="108.6" text-anchor="end">0.06</text>
<text x="415.2" y="59.0" text-anchor="end">0.09</text>
</g>
<g stroke="#333" stroke-width="0.9" stroke-dasharray="3 3" fill="none">
<line x1="427.7" y1="553.7" x2="675.3" y2="553.7"/>
<line x1="551.5" y1="388.6" x2="551.5" y2="636.3"/>
</g>
<rect x="508.50" y="540.90" width="4.80" height="4.80" fill="none" stroke="#f07a1a" stroke-width="1.3"/>
<circle cx="571.80" cy="534.00" r="2.45" fill="none" stroke="#30d030" stroke-width="1.3"/>
<rect x="548.60" y="549.60" width="4.80" height="4.80" fill="none" stroke="#e040b0" stroke-width="1.3"/>
<path d="M550.30 550.80 L555.70 556.20 M550.30 556.20 L555.70 550.80" fill="none" stroke="#8030c8" stroke-width="1.4"/>
<path d="M552.80 549.80 L558.20 555.20 M552.80 555.20 L558.20 549.80" fill="none" stroke="#3090f0" stroke-width="1.4"/>
<rect x="558.80" y="550.60" width="4.80" height="4.80" fill="none" stroke="#30d030" stroke-width="1.3"/>
<rect x="561.60" y="551.90" width="4.80" height="4.80" fill="none" stroke="#a0a020" stroke-width="1.3"/>
<circle cx="567.80" cy="550.30" r="2.45" fill="none" stroke="#30d030" stroke-width="1.3"/>
<circle cx="574.80" cy="549.00" r="2.45" fill="none" stroke="#f0b060" stroke-width="1.3"/>
<path d="M550.30 556.80 L555.70 562.20 M550.30 562.20 L555.70 556.80" fill="none" stroke="#8030c8" stroke-width="1.4"/>
<path d="M552.50 557.30 L557.90 562.70 M552.50 562.70 L557.90 557.30" fill="none" stroke="#e040b0" stroke-width="1.4"/>
<path d="M554.30 559.30 L559.70 564.70 M554.30 564.70 L559.70 559.30" fill="none" stroke="#30d030" stroke-width="1.4"/>
<circle cx="560.80" cy="560.40" r="2.45" fill="none" stroke="#30d030" stroke-width="1.3"/>
<path d="M563.40 563.00 L565.85 567.60 L560.95 567.60 Z" fill="none" stroke="#20c8c8" stroke-width="1.3" stroke-linejoin="miter"/>
<path d="M562.30 568.20 L564.75 572.80 L559.85 572.80 Z" fill="none" stroke="#1830e0" stroke-width="1.3" stroke-linejoin="miter"/>
<circle cx="569.90" cy="570.00" r="2.45" fill="none" stroke="#2a1a9a" stroke-width="1.3"/>
<rect x="567.90" y="560.20" width="4.80" height="4.80" fill="none" stroke="#2a1a9a" stroke-width="1.3"/>
<circle cx="577.80" cy="562.20" r="2.45" fill="none" stroke="#f0a020" stroke-width="1.3"/>
<circle cx="580.00" cy="560.40" r="2.45" fill="none" stroke="#f0a020" stroke-width="1.3"/>
<path d="M578.20 547.20 L583.60 552.60 M578.20 552.60 L583.60 547.20" fill="none" stroke="#3090f0" stroke-width="1.4"/>
<path d="M580.40 549.40 L585.80 554.80 M580.40 554.80 L585.80 549.40" fill="none" stroke="#1830e0" stroke-width="1.4"/>
<circle cx="582.00" cy="554.00" r="2.45" fill="none" stroke="#20c8c8" stroke-width="1.3"/>
<circle cx="587.00" cy="552.50" r="2.45" fill="none" stroke="#8030c8" stroke-width="1.3"/>
<circle cx="592.80" cy="549.00" r="2.45" fill="none" stroke="#8030c8" stroke-width="1.3"/>
<path d="M588.80 551.30 L594.20 556.70 M588.80 556.70 L594.20 551.30" fill="none" stroke="#a0a020" stroke-width="1.4"/>
<circle cx="596.00" cy="553.80" r="2.45" fill="none" stroke="#e040b0" stroke-width="1.3"/>
<circle cx="607.80" cy="553.80" r="2.45" fill="none" stroke="#2a8a2a" stroke-width="1.3"/>
<path d="M612.20 551.60 L614.65 556.20 L609.75 556.20 Z" fill="none" stroke="#20c8c8" stroke-width="1.3" stroke-linejoin="miter"/>
<path d="M620.50 546.00 L625.90 551.40 M620.50 551.40 L625.90 546.00" fill="none" stroke="#e0202a" stroke-width="1.4"/>
<path d="M587.50 574.30 L592.90 579.70 M587.50 579.70 L592.90 574.30" fill="none" stroke="#3090f0" stroke-width="1.4"/>
<rect x="568.20" y="587.30" width="4.80" height="4.80" fill="none" stroke="#e0202a" stroke-width="1.3"/>
<rect x="563.60" y="549.60" width="4.80" height="4.80" fill="none" stroke="#30d030" stroke-width="1.3"/>
<path d="M565.30 553.30 L570.70 558.70 M565.30 558.70 L570.70 553.30" fill="none" stroke="#30d030" stroke-width="1.4"/>
<circle cx="557.00" cy="553.50" r="2.45" fill="none" stroke="#3090f0" stroke-width="1.3"/>
<path d="M556.30 548.80 L561.70 554.20 M556.30 554.20 L561.70 548.80" fill="none" stroke="#20c8c8" stroke-width="1.4"/>
<rect x="560.10" y="553.60" width="4.80" height="4.80" fill="none" stroke="#30d030" stroke-width="1.3"/>
<circle cx="566.00" cy="554.50" r="2.45" fill="none" stroke="#a0a020" stroke-width="1.3"/>
<path d="M569.00 548.80 L571.45 553.40 L566.55 553.40 Z" fill="none" stroke="#30d030" stroke-width="1.3" stroke-linejoin="miter"/>
<circle cx="577.50" cy="551.00" r="2.45" fill="none" stroke="#f0b060" stroke-width="1.3"/>
<path d="M576.30 550.80 L581.70 556.20 M576.30 556.20 L581.70 550.80" fill="none" stroke="#2a1a9a" stroke-width="1.4"/>
<circle cx="585.00" cy="555.50" r="2.45" fill="none" stroke="#3090f0" stroke-width="1.3"/>
<path d="M584.00 549.80 L586.45 554.40 L581.55 554.40 Z" fill="none" stroke="#20c8c8" stroke-width="1.3" stroke-linejoin="miter"/>
<circle cx="589.00" cy="555.00" r="2.45" fill="none" stroke="#e040b0" stroke-width="1.3"/>
<path d="M591.30 550.30 L596.70 555.70 M591.30 555.70 L596.70 550.30" fill="none" stroke="#30d030" stroke-width="1.4"/>
<rect x="580.60" y="552.60" width="4.80" height="4.80" fill="none" stroke="#3090f0" stroke-width="1.3"/>
<circle cx="598.00" cy="552.00" r="2.45" fill="none" stroke="#8030c8" stroke-width="1.3"/>
<path d="M597.30 551.80 L602.70 557.20 M597.30 557.20 L602.70 551.80" fill="none" stroke="#e040b0" stroke-width="1.4"/>
<path d="M516.30 548.90 L516.30 560.50 M510.30 550.80 L522.30 558.60 M510.30 558.60 L522.30 550.80" stroke="#000" stroke-width="1.9" fill="none"/>
<circle cx="572.8" cy="555.0" r="5.6" fill="#000"/>
<g stroke="#111" stroke-width="1.3" fill="none">
<rect x="427.7" y="388.6" width="247.6" height="247.7"/>
<line x1="427.7" y1="388.6" x2="427.7" y2="382.6"/>
<line x1="427.7" y1="636.3" x2="427.7" y2="642.3"/>
<line x1="436.0" y1="388.6" x2="436.0" y2="385.3"/>
<line x1="436.0" y1="636.3" x2="436.0" y2="639.5999999999999"/>
<line x1="444.2" y1="388.6" x2="444.2" y2="385.3"/>
<line x1="444.2" y1="636.3" x2="444.2" y2="639.5999999999999"/>
<line x1="452.5" y1="388.6" x2="452.5" y2="385.3"/>
<line x1="452.5" y1="636.3" x2="452.5" y2="639.5999999999999"/>
<line x1="460.7" y1="388.6" x2="460.7" y2="385.3"/>
<line x1="460.7" y1="636.3" x2="460.7" y2="639.5999999999999"/>
<line x1="469.0" y1="388.6" x2="469.0" y2="382.6"/>
<line x1="469.0" y1="636.3" x2="469.0" y2="642.3"/>
<line x1="477.2" y1="388.6" x2="477.2" y2="385.3"/>
<line x1="477.2" y1="636.3" x2="477.2" y2="639.5999999999999"/>
<line x1="485.5" y1="388.6" x2="485.5" y2="385.3"/>
<line x1="485.5" y1="636.3" x2="485.5" y2="639.5999999999999"/>
<line x1="493.7" y1="388.6" x2="493.7" y2="385.3"/>
<line x1="493.7" y1="636.3" x2="493.7" y2="639.5999999999999"/>
<line x1="502.0" y1="388.6" x2="502.0" y2="385.3"/>
<line x1="502.0" y1="636.3" x2="502.0" y2="639.5999999999999"/>
<line x1="510.2" y1="388.6" x2="510.2" y2="382.6"/>
<line x1="510.2" y1="636.3" x2="510.2" y2="642.3"/>
<line x1="518.5" y1="388.6" x2="518.5" y2="385.3"/>
<line x1="518.5" y1="636.3" x2="518.5" y2="639.5999999999999"/>
<line x1="526.7" y1="388.6" x2="526.7" y2="385.3"/>
<line x1="526.7" y1="636.3" x2="526.7" y2="639.5999999999999"/>
<line x1="535.0" y1="388.6" x2="535.0" y2="385.3"/>
<line x1="535.0" y1="636.3" x2="535.0" y2="639.5999999999999"/>
<line x1="543.2" y1="388.6" x2="543.2" y2="385.3"/>
<line x1="543.2" y1="636.3" x2="543.2" y2="639.5999999999999"/>
<line x1="551.5" y1="388.6" x2="551.5" y2="382.6"/>
<line x1="551.5" y1="636.3" x2="551.5" y2="642.3"/>
<line x1="559.8" y1="388.6" x2="559.8" y2="385.3"/>
<line x1="559.8" y1="636.3" x2="559.8" y2="639.5999999999999"/>
<line x1="568.0" y1="388.6" x2="568.0" y2="385.3"/>
<line x1="568.0" y1="636.3" x2="568.0" y2="639.5999999999999"/>
<line x1="576.3" y1="388.6" x2="576.3" y2="385.3"/>
<line x1="576.3" y1="636.3" x2="576.3" y2="639.5999999999999"/>
<line x1="584.5" y1="388.6" x2="584.5" y2="385.3"/>
<line x1="584.5" y1="636.3" x2="584.5" y2="639.5999999999999"/>
<line x1="592.8" y1="388.6" x2="592.8" y2="382.6"/>
<line x1="592.8" y1="636.3" x2="592.8" y2="642.3"/>
<line x1="601.0" y1="388.6" x2="601.0" y2="385.3"/>
<line x1="601.0" y1="636.3" x2="601.0" y2="639.5999999999999"/>
<line x1="609.3" y1="388.6" x2="609.3" y2="385.3"/>
<line x1="609.3" y1="636.3" x2="609.3" y2="639.5999999999999"/>
<line x1="617.5" y1="388.6" x2="617.5" y2="385.3"/>
<line x1="617.5" y1="636.3" x2="617.5" y2="639.5999999999999"/>
<line x1="625.8" y1="388.6" x2="625.8" y2="385.3"/>
<line x1="625.8" y1="636.3" x2="625.8" y2="639.5999999999999"/>
<line x1="634.0" y1="388.6" x2="634.0" y2="382.6"/>
<line x1="634.0" y1="636.3" x2="634.0" y2="642.3"/>
<line x1="642.3" y1="388.6" x2="642.3" y2="385.3"/>
<line x1="642.3" y1="636.3" x2="642.3" y2="639.5999999999999"/>
<line x1="650.5" y1="388.6" x2="650.5" y2="385.3"/>
<line x1="650.5" y1="636.3" x2="650.5" y2="639.5999999999999"/>
<line x1="658.8" y1="388.6" x2="658.8" y2="385.3"/>
<line x1="658.8" y1="636.3" x2="658.8" y2="639.5999999999999"/>
<line x1="667.0" y1="388.6" x2="667.0" y2="385.3"/>
<line x1="667.0" y1="636.3" x2="667.0" y2="639.5999999999999"/>
<line x1="675.3" y1="388.6" x2="675.3" y2="382.6"/>
<line x1="675.3" y1="636.3" x2="675.3" y2="642.3"/>
<line x1="427.7" y1="636.3" x2="424.4" y2="636.3"/>
<line x1="675.3" y1="636.3" x2="678.5999999999999" y2="636.3"/>
<line x1="427.7" y1="619.8" x2="424.4" y2="619.8"/>
<line x1="675.3" y1="619.8" x2="678.5999999999999" y2="619.8"/>
<line x1="427.7" y1="603.3" x2="421.2" y2="603.3"/>
<line x1="675.3" y1="603.3" x2="681.8" y2="603.3"/>
<line x1="427.7" y1="586.8" x2="424.4" y2="586.8"/>
<line x1="675.3" y1="586.8" x2="678.5999999999999" y2="586.8"/>
<line x1="427.7" y1="570.2" x2="424.4" y2="570.2"/>
<line x1="675.3" y1="570.2" x2="678.5999999999999" y2="570.2"/>
<line x1="427.7" y1="553.7" x2="421.2" y2="553.7"/>
<line x1="675.3" y1="553.7" x2="681.8" y2="553.7"/>
<line x1="427.7" y1="537.2" x2="424.4" y2="537.2"/>
<line x1="675.3" y1="537.2" x2="678.5999999999999" y2="537.2"/>
<line x1="427.7" y1="520.7" x2="424.4" y2="520.7"/>
<line x1="675.3" y1="520.7" x2="678.5999999999999" y2="520.7"/>
<line x1="427.7" y1="504.2" x2="421.2" y2="504.2"/>
<line x1="675.3" y1="504.2" x2="681.8" y2="504.2"/>
<line x1="427.7" y1="487.7" x2="424.4" y2="487.7"/>
<line x1="675.3" y1="487.7" x2="678.5999999999999" y2="487.7"/>
<line x1="427.7" y1="471.2" x2="424.4" y2="471.2"/>
<line x1="675.3" y1="471.2" x2="678.5999999999999" y2="471.2"/>
<line x1="427.7" y1="454.7" x2="421.2" y2="454.7"/>
<line x1="675.3" y1="454.7" x2="681.8" y2="454.7"/>
<line x1="427.7" y1="438.1" x2="424.4" y2="438.1"/>
<line x1="675.3" y1="438.1" x2="678.5999999999999" y2="438.1"/>
<line x1="427.7" y1="421.6" x2="424.4" y2="421.6"/>
<line x1="675.3" y1="421.6" x2="678.5999999999999" y2="421.6"/>
<line x1="427.7" y1="405.1" x2="421.2" y2="405.1"/>
<line x1="675.3" y1="405.1" x2="681.8" y2="405.1"/>
<line x1="427.7" y1="388.6" x2="424.4" y2="388.6"/>
<line x1="675.3" y1="388.6" x2="678.5999999999999" y2="388.6"/>
</g>
<g font-family='"Liberation Sans", sans-serif' font-size="14" fill="#111">
<text x="427.7" y="659.3" text-anchor="middle">−1.5</text>
<text x="469.0" y="659.3" text-anchor="middle">−1.0</text>
<text x="510.2" y="659.3" text-anchor="middle">−0.5</text>
<text x="551.5" y="659.3" text-anchor="middle">0.0</text>
<text x="592.8" y="659.3" text-anchor="middle">0.5</text>
<text x="634.0" y="659.3" text-anchor="middle">1.0</text>
<text x="675.3" y="659.3" text-anchor="middle">1.5</text>
<text x="415.2" y="608.1" text-anchor="end">−0.03</text>
<text x="415.2" y="558.5" text-anchor="end">0.00</text>
<text x="415.2" y="509.0" text-anchor="end">0.03</text>
<text x="415.2" y="459.5" text-anchor="end">0.06</text>
<text x="415.2" y="409.9" text-anchor="end">0.09</text>
</g>
<text x="1.5" y="17.2" font-family='"Liberation Sans", sans-serif' font-size="18.5" fill="#111" font-weight="bold">a</text>
<text x="1.5" y="368.4" font-family='"Liberation Sans", sans-serif' font-size="18.5" fill="#111" font-weight="bold">b</text>
<text x="339.8" y="17.4" font-family='"Liberation Sans", sans-serif' font-size="18.5" fill="#111" font-weight="bold">c</text>
<text x="339.8" y="369.2" font-family='"Liberation Sans", sans-serif' font-size="18.5" fill="#111" font-weight="bold">d</text>
<text x="58.4" y="22.8" font-family='"Liberation Sans", sans-serif' font-size="14" fill="#111" >DJF</text>
<text x="59.0" y="373.7" font-family='"Liberation Sans", sans-serif' font-size="14" fill="#111" >JJA</text>
<text x="426.6" y="22.6" font-family='"Liberation Sans", sans-serif' font-size="14" fill="#111" >DJF</text>
<text x="426.9" y="373.9" font-family='"Liberation Sans", sans-serif' font-size="14" fill="#111" >JJA</text>
<g font-family='"Liberation Sans", sans-serif' font-size="14" fill="#111">
<text x="546.6" y="22.9" font-style="italic">r</text>
<text x="555.0" y="22.9">=</text>
<text x="565.6" y="22.9">−0.544,</text>
<text x="618.6" y="22.9" font-style="italic">P</text>
<text x="630.4" y="22.9">&lt;</text>
<text x="644.0" y="22.9">0.001</text>
</g>
<g font-family='"Liberation Sans", sans-serif' font-size="14" fill="#111">
<text x="546.6" y="374.0" font-style="italic">r</text>
<text x="555.0" y="374.0">=</text>
<text x="565.6" y="374.0">−0.031,</text>
<text x="618.6" y="374.0" font-style="italic">P</text>
<text x="630.4" y="374.0">&lt;</text>
<text x="644.0" y="374.0">0.786</text>
</g>
<text x="184.6" y="328.5" font-family='"Liberation Sans", sans-serif' font-size="14" fill="#111" text-anchor="middle">Temprature (°C)</text>
<text x="184.6" y="679.5" font-family='"Liberation Sans", sans-serif' font-size="14" fill="#111" text-anchor="middle">Temprature (°C)</text>
<text transform="translate(14,160.2) rotate(-90)" x="0" y="0" font-family='"Liberation Sans", sans-serif' font-size="14" fill="#111" text-anchor="middle">Depth (m)</text>
<text transform="translate(14,511.2) rotate(-90)" x="0" y="0" font-family='"Liberation Sans", sans-serif' font-size="14" fill="#111" text-anchor="middle">Depth (m)</text>
<text x="551" y="327.8" font-family='"Liberation Sans", sans-serif' font-size="14" fill="#111" text-anchor="middle">High-latitude SST trend (°C °C<tspan dy="-5" font-size="9.5">−1</tspan><tspan dy="5"> GW)</tspan></text>
<text x="551" y="678.8" font-family='"Liberation Sans", sans-serif' font-size="14" fill="#111" text-anchor="middle">High-latitude SST trend (°C °C<tspan dy="-5" font-size="9.5">−1</tspan><tspan dy="5"> GW)</tspan></text>
<text transform="translate(354,161.8) rotate(-90)" font-family='"Liberation Sans", sans-serif' font-size="14" fill="#111" text-anchor="middle">Ekman pumping trend (°C<tspan dy="-5" font-size="9.5">−1</tspan><tspan dy="5"> GW)</tspan></text>
<text transform="translate(370.5,161.8) rotate(-90)" font-family='"Liberation Sans", sans-serif' font-size="14" fill="#111" text-anchor="middle">× vert. temp. diff. (°C m<tspan dy="-5" font-size="9.5">−1</tspan><tspan dy="5">)</tspan></text>
<text transform="translate(354,512.7) rotate(-90)" font-family='"Liberation Sans", sans-serif' font-size="14" fill="#111" text-anchor="middle">Ekman pumping trend (°C<tspan dy="-5" font-size="9.5">−1</tspan><tspan dy="5"> GW)</tspan></text>
<text transform="translate(370.5,512.7) rotate(-90)" font-family='"Liberation Sans", sans-serif' font-size="14" fill="#111" text-anchor="middle">× vert. temp. diff. (°C m<tspan dy="-5" font-size="9.5">−1</tspan><tspan dy="5">)</tspan></text>
<text x="429.6" y="50.4" font-family='"Liberation Sans", sans-serif' font-size="14" fill="#111" >SST cooling</text>
<text x="429.6" y="64.0" font-family='"Liberation Sans", sans-serif' font-size="14" fill="#111" >Upwelling increase</text>
<text x="553.6" y="267.0" font-family='"Liberation Sans", sans-serif' font-size="14" fill="#111" >SST warming</text>
<text x="553.6" y="280.5" font-family='"Liberation Sans", sans-serif' font-size="14" fill="#111" >Upwelling increase</text>
</svg>
</body></html>
